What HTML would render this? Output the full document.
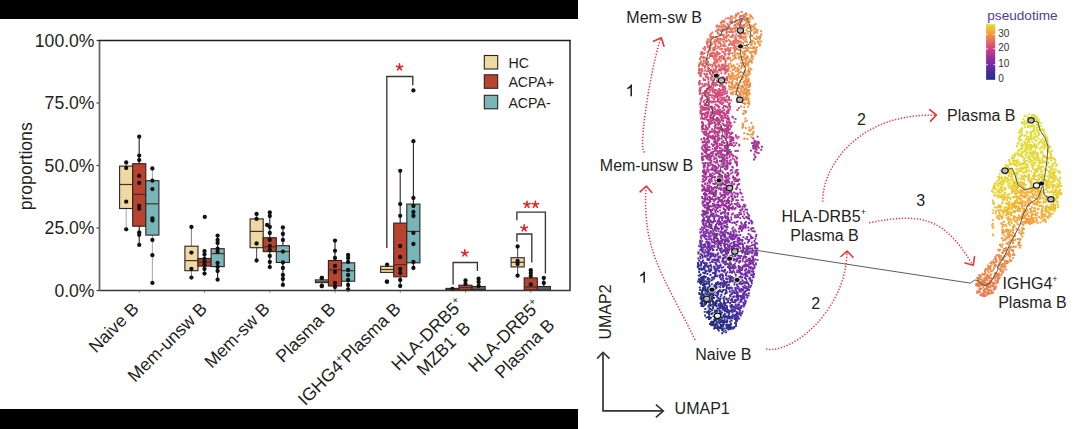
<!DOCTYPE html><html><head><meta charset="utf-8"><style>html,body{margin:0;padding:0;background:#fff;width:1080px;height:429px;overflow:hidden}svg{display:block}text{font-family:"Liberation Sans",sans-serif}</style></head><body>
<svg width="1080" height="429" viewBox="0 0 1080 429">
<rect x="0" y="0" width="578" height="19" fill="#000"/>
<rect x="0" y="409" width="578" height="20" fill="#000"/>
<line x1="96.5" y1="290.5" x2="99.5" y2="290.5" stroke="#463c3a" stroke-width="1.2"/>
<text x="94.5" y="296.7" font-size="17.6" text-anchor="end" fill="#231f20">0.0%</text>
<line x1="96.5" y1="228.0" x2="99.5" y2="228.0" stroke="#463c3a" stroke-width="1.2"/>
<text x="94.5" y="234.2" font-size="17.6" text-anchor="end" fill="#231f20">25.0%</text>
<line x1="96.5" y1="165.5" x2="99.5" y2="165.5" stroke="#463c3a" stroke-width="1.2"/>
<text x="94.5" y="171.7" font-size="17.6" text-anchor="end" fill="#231f20">50.0%</text>
<line x1="96.5" y1="103.0" x2="99.5" y2="103.0" stroke="#463c3a" stroke-width="1.2"/>
<text x="94.5" y="109.2" font-size="17.6" text-anchor="end" fill="#231f20">75.0%</text>
<line x1="96.5" y1="40.5" x2="99.5" y2="40.5" stroke="#463c3a" stroke-width="1.2"/>
<text x="94.5" y="46.7" font-size="17.6" text-anchor="end" fill="#231f20">100.0%</text>
<text transform="translate(32.3,166.3) rotate(-90)" font-size="17.6" text-anchor="middle" fill="#231f20">proportions</text>
<line x1="139.3" y1="290.5" x2="139.3" y2="293.0" stroke="#999" stroke-width="1"/>
<line x1="204.55" y1="290.5" x2="204.55" y2="293.0" stroke="#999" stroke-width="1"/>
<line x1="269.8" y1="290.5" x2="269.8" y2="293.0" stroke="#999" stroke-width="1"/>
<line x1="335.05" y1="290.5" x2="335.05" y2="293.0" stroke="#999" stroke-width="1"/>
<line x1="400.3" y1="290.5" x2="400.3" y2="293.0" stroke="#999" stroke-width="1"/>
<line x1="465.55" y1="290.5" x2="465.55" y2="293.0" stroke="#999" stroke-width="1"/>
<line x1="530.8" y1="290.5" x2="530.8" y2="293.0" stroke="#999" stroke-width="1"/>
<line x1="126.2" y1="162.5" x2="126.2" y2="229.3" stroke="#aaa" stroke-width="1.1"/>
<rect x="119.6" y="166.1" width="13.1" height="42.4" fill="#eed9a2" stroke="#2e2220" stroke-width="1.1"/>
<line x1="119.6" y1="184.5" x2="132.7" y2="184.5" stroke="#4a2e28" stroke-width="1.2"/>
<circle cx="126.2" cy="162.5" r="2.15" fill="#111"/>
<circle cx="126.2" cy="168" r="2.15" fill="#111"/>
<circle cx="126.2" cy="201.7" r="2.15" fill="#111"/>
<circle cx="126.2" cy="229.3" r="2.15" fill="#111"/>
<line x1="139.2" y1="136.7" x2="139.2" y2="244.9" stroke="#2a2020" stroke-width="1.1"/>
<rect x="132.7" y="163.7" width="13.1" height="62.5" fill="#b8432f" stroke="#2e2220" stroke-width="1.1"/>
<line x1="132.7" y1="194.4" x2="145.8" y2="194.4" stroke="#4a2e28" stroke-width="1.2"/>
<circle cx="139.2" cy="136.7" r="2.15" fill="#111"/>
<circle cx="139.2" cy="155.6" r="2.15" fill="#111"/>
<circle cx="139.2" cy="160.1" r="2.15" fill="#111"/>
<circle cx="139.2" cy="175.9" r="2.15" fill="#111"/>
<circle cx="139.2" cy="182.9" r="2.15" fill="#111"/>
<circle cx="139.2" cy="205.9" r="2.15" fill="#111"/>
<circle cx="139.2" cy="208.7" r="2.15" fill="#111"/>
<circle cx="139.2" cy="232.3" r="2.15" fill="#111"/>
<circle cx="139.2" cy="234.8" r="2.15" fill="#111"/>
<circle cx="139.2" cy="244.9" r="2.15" fill="#111"/>
<line x1="152.4" y1="168.5" x2="152.4" y2="282.9" stroke="#aaa" stroke-width="1.1"/>
<rect x="145.8" y="180.7" width="13.1" height="54.4" fill="#78b5b9" stroke="#2e2220" stroke-width="1.1"/>
<line x1="145.8" y1="203.8" x2="158.9" y2="203.8" stroke="#4a2e28" stroke-width="1.2"/>
<circle cx="152.4" cy="168.5" r="2.15" fill="#111"/>
<circle cx="152.4" cy="180.7" r="2.15" fill="#111"/>
<circle cx="152.4" cy="189.1" r="2.15" fill="#111"/>
<circle cx="152.4" cy="218.5" r="2.15" fill="#111"/>
<circle cx="152.4" cy="220.6" r="2.15" fill="#111"/>
<circle cx="152.4" cy="240" r="2.15" fill="#111"/>
<circle cx="152.4" cy="255.2" r="2.15" fill="#111"/>
<circle cx="152.4" cy="282.9" r="2.15" fill="#111"/>
<line x1="191.4" y1="227" x2="191.4" y2="277.6" stroke="#888" stroke-width="1.1"/>
<rect x="184.9" y="246.2" width="13.1" height="24.5" fill="#eed9a2" stroke="#2e2220" stroke-width="1.1"/>
<line x1="184.9" y1="260.6" x2="198.0" y2="260.6" stroke="#4a2e28" stroke-width="1.2"/>
<circle cx="191.4" cy="227" r="2.15" fill="#111"/>
<circle cx="191.4" cy="252.6" r="2.15" fill="#111"/>
<circle cx="191.4" cy="268.8" r="2.15" fill="#111"/>
<circle cx="191.4" cy="277.6" r="2.15" fill="#111"/>
<line x1="204.5" y1="251.1" x2="204.5" y2="273.6" stroke="#2a2020" stroke-width="1.1"/>
<rect x="198.0" y="258.5" width="13.1" height="7.6" fill="#b8432f" stroke="#2e2220" stroke-width="1.1"/>
<line x1="198.0" y1="262" x2="211.1" y2="262" stroke="#4a2e28" stroke-width="1.2"/>
<circle cx="204.5" cy="251.1" r="2.15" fill="#111"/>
<circle cx="204.5" cy="254.5" r="2.15" fill="#111"/>
<circle cx="204.5" cy="259" r="2.15" fill="#111"/>
<circle cx="204.5" cy="262" r="2.15" fill="#111"/>
<circle cx="204.5" cy="265" r="2.15" fill="#111"/>
<circle cx="204.5" cy="269" r="2.15" fill="#111"/>
<circle cx="204.5" cy="273.6" r="2.15" fill="#111"/>
<line x1="217.6" y1="235.6" x2="217.6" y2="279.7" stroke="#2a2020" stroke-width="1.1"/>
<rect x="211.1" y="248.7" width="13.1" height="17.9" fill="#78b5b9" stroke="#2e2220" stroke-width="1.1"/>
<line x1="211.1" y1="253.6" x2="224.2" y2="253.6" stroke="#4a2e28" stroke-width="1.2"/>
<circle cx="217.6" cy="235.6" r="2.15" fill="#111"/>
<circle cx="217.6" cy="240" r="2.15" fill="#111"/>
<circle cx="217.6" cy="243" r="2.15" fill="#111"/>
<circle cx="217.6" cy="248.7" r="2.15" fill="#111"/>
<circle cx="217.6" cy="252" r="2.15" fill="#111"/>
<circle cx="217.6" cy="263" r="2.15" fill="#111"/>
<circle cx="217.6" cy="267" r="2.15" fill="#111"/>
<circle cx="217.6" cy="271" r="2.15" fill="#111"/>
<circle cx="217.6" cy="279.7" r="2.15" fill="#111"/>
<line x1="256.6" y1="214" x2="256.6" y2="260.5" stroke="#555" stroke-width="1.1"/>
<rect x="250.1" y="218.9" width="13.1" height="28.8" fill="#eed9a2" stroke="#2e2220" stroke-width="1.1"/>
<line x1="250.1" y1="231.4" x2="263.2" y2="231.4" stroke="#4a2e28" stroke-width="1.2"/>
<circle cx="256.6" cy="214" r="2.15" fill="#111"/>
<circle cx="256.6" cy="218.9" r="2.15" fill="#111"/>
<circle cx="256.6" cy="243.5" r="2.15" fill="#111"/>
<circle cx="256.6" cy="260.5" r="2.15" fill="#111"/>
<line x1="269.8" y1="212.4" x2="269.8" y2="267.1" stroke="#2a2020" stroke-width="1.1"/>
<rect x="263.2" y="237.7" width="13.1" height="13.9" fill="#b8432f" stroke="#2e2220" stroke-width="1.1"/>
<line x1="263.2" y1="246.7" x2="276.3" y2="246.7" stroke="#4a2e28" stroke-width="1.2"/>
<circle cx="269.8" cy="212.4" r="2.15" fill="#111"/>
<circle cx="269.8" cy="216" r="2.15" fill="#111"/>
<circle cx="269.8" cy="227" r="2.15" fill="#111"/>
<circle cx="269.8" cy="233" r="2.15" fill="#111"/>
<circle cx="269.8" cy="240" r="2.15" fill="#111"/>
<circle cx="269.8" cy="246" r="2.15" fill="#111"/>
<circle cx="269.8" cy="250" r="2.15" fill="#111"/>
<circle cx="269.8" cy="256" r="2.15" fill="#111"/>
<circle cx="269.8" cy="262" r="2.15" fill="#111"/>
<circle cx="269.8" cy="267.1" r="2.15" fill="#111"/>
<line x1="282.9" y1="227.4" x2="282.9" y2="284.9" stroke="#2a2020" stroke-width="1.1"/>
<rect x="276.3" y="245.7" width="13.1" height="16.8" fill="#78b5b9" stroke="#2e2220" stroke-width="1.1"/>
<line x1="276.3" y1="251.6" x2="289.4" y2="251.6" stroke="#4a2e28" stroke-width="1.2"/>
<circle cx="282.9" cy="227.4" r="2.15" fill="#111"/>
<circle cx="282.9" cy="234" r="2.15" fill="#111"/>
<circle cx="282.9" cy="240" r="2.15" fill="#111"/>
<circle cx="282.9" cy="251.6" r="2.15" fill="#111"/>
<circle cx="282.9" cy="262.5" r="2.15" fill="#111"/>
<circle cx="282.9" cy="268" r="2.15" fill="#111"/>
<circle cx="282.9" cy="275" r="2.15" fill="#111"/>
<circle cx="282.9" cy="279" r="2.15" fill="#111"/>
<circle cx="282.9" cy="284.9" r="2.15" fill="#111"/>
<line x1="321.9" y1="278" x2="321.9" y2="286" stroke="#2a2020" stroke-width="1.1"/>
<rect x="315.4" y="279.9" width="13.1" height="2.7" fill="#eed9a2" stroke="#2e2220" stroke-width="1.1"/>
<line x1="315.4" y1="281.2" x2="328.4" y2="281.2" stroke="#4a2e28" stroke-width="1.2"/>
<circle cx="321.9" cy="278" r="2.15" fill="#111"/>
<circle cx="321.9" cy="286" r="2.15" fill="#111"/>
<line x1="335.0" y1="240.6" x2="335.0" y2="290" stroke="#2a2020" stroke-width="1.1"/>
<rect x="328.4" y="260.5" width="13.1" height="25.5" fill="#b8432f" stroke="#2e2220" stroke-width="1.1"/>
<line x1="328.4" y1="269.8" x2="341.6" y2="269.8" stroke="#4a2e28" stroke-width="1.2"/>
<circle cx="335.0" cy="240.6" r="2.15" fill="#111"/>
<circle cx="335.0" cy="250.8" r="2.15" fill="#111"/>
<circle cx="335.0" cy="258" r="2.15" fill="#111"/>
<circle cx="335.0" cy="266" r="2.15" fill="#111"/>
<circle cx="335.0" cy="272" r="2.15" fill="#111"/>
<circle cx="335.0" cy="283" r="2.15" fill="#111"/>
<circle cx="335.0" cy="287" r="2.15" fill="#111"/>
<line x1="348.1" y1="255" x2="348.1" y2="289.5" stroke="#2a2020" stroke-width="1.1"/>
<rect x="341.6" y="262.8" width="13.1" height="18.4" fill="#78b5b9" stroke="#2e2220" stroke-width="1.1"/>
<line x1="341.6" y1="270.7" x2="354.7" y2="270.7" stroke="#4a2e28" stroke-width="1.2"/>
<circle cx="348.1" cy="255" r="2.15" fill="#111"/>
<circle cx="348.1" cy="258" r="2.15" fill="#111"/>
<circle cx="348.1" cy="262" r="2.15" fill="#111"/>
<circle cx="348.1" cy="270" r="2.15" fill="#111"/>
<circle cx="348.1" cy="275" r="2.15" fill="#111"/>
<circle cx="348.1" cy="280" r="2.15" fill="#111"/>
<circle cx="348.1" cy="285" r="2.15" fill="#111"/>
<circle cx="348.1" cy="289.5" r="2.15" fill="#111"/>
<line x1="387.1" y1="264.6" x2="387.1" y2="272.4" stroke="#2a2020" stroke-width="1.1"/>
<rect x="380.6" y="266.3" width="13.1" height="6.1" fill="#eed9a2" stroke="#2e2220" stroke-width="1.1"/>
<line x1="380.6" y1="269.5" x2="393.7" y2="269.5" stroke="#4a2e28" stroke-width="1.2"/>
<circle cx="387.1" cy="264.6" r="2.15" fill="#111"/>
<circle cx="387.1" cy="281.7" r="2.15" fill="#111"/>
<line x1="400.2" y1="170.8" x2="400.2" y2="286" stroke="#2a2020" stroke-width="1.1"/>
<rect x="393.7" y="223.1" width="13.1" height="53.7" fill="#b8432f" stroke="#2e2220" stroke-width="1.1"/>
<line x1="393.7" y1="264.6" x2="406.8" y2="264.6" stroke="#4a2e28" stroke-width="1.2"/>
<circle cx="400.2" cy="170.8" r="2.15" fill="#111"/>
<circle cx="400.2" cy="204.1" r="2.15" fill="#111"/>
<circle cx="400.2" cy="215.8" r="2.15" fill="#111"/>
<circle cx="400.2" cy="246" r="2.15" fill="#111"/>
<circle cx="400.2" cy="257" r="2.15" fill="#111"/>
<circle cx="400.2" cy="269" r="2.15" fill="#111"/>
<circle cx="400.2" cy="273" r="2.15" fill="#111"/>
<circle cx="400.2" cy="280" r="2.15" fill="#111"/>
<circle cx="400.2" cy="286" r="2.15" fill="#111"/>
<line x1="413.4" y1="141.2" x2="413.4" y2="268" stroke="#2a2020" stroke-width="1.1"/>
<rect x="406.8" y="204.1" width="13.1" height="58.7" fill="#78b5b9" stroke="#2e2220" stroke-width="1.1"/>
<line x1="406.8" y1="231.4" x2="419.9" y2="231.4" stroke="#4a2e28" stroke-width="1.2"/>
<circle cx="413.4" cy="90.4" r="2.15" fill="#111"/>
<circle cx="413.4" cy="141.2" r="2.15" fill="#111"/>
<circle cx="413.4" cy="198" r="2.15" fill="#111"/>
<circle cx="413.4" cy="206" r="2.15" fill="#111"/>
<circle cx="413.4" cy="212" r="2.15" fill="#111"/>
<circle cx="413.4" cy="216" r="2.15" fill="#111"/>
<circle cx="413.4" cy="233" r="2.15" fill="#111"/>
<circle cx="413.4" cy="244" r="2.15" fill="#111"/>
<circle cx="413.4" cy="262" r="2.15" fill="#111"/>
<circle cx="413.4" cy="268" r="2.15" fill="#111"/>
<line x1="452.4" y1="288.2" x2="452.4" y2="290" stroke="#2a2020" stroke-width="1.1"/>
<rect x="445.9" y="288.4" width="13.1" height="1.2" fill="#eed9a2" stroke="#2e2220" stroke-width="1.1"/>
<line x1="445.9" y1="289" x2="458.9" y2="289" stroke="#4a2e28" stroke-width="1.2"/>
<circle cx="452.4" cy="289" r="2.15" fill="#111"/>
<line x1="465.5" y1="280.5" x2="465.5" y2="290" stroke="#2a2020" stroke-width="1.1"/>
<rect x="458.9" y="285.2" width="13.1" height="4.6" fill="#b8432f" stroke="#2e2220" stroke-width="1.1"/>
<line x1="458.9" y1="287.5" x2="472.1" y2="287.5" stroke="#4a2e28" stroke-width="1.2"/>
<circle cx="465.5" cy="280.5" r="2.15" fill="#111"/>
<circle cx="465.5" cy="284" r="2.15" fill="#111"/>
<line x1="478.6" y1="278.7" x2="478.6" y2="290" stroke="#2a2020" stroke-width="1.1"/>
<rect x="472.1" y="286.5" width="13.1" height="3.1" fill="#78b5b9" stroke="#2e2220" stroke-width="1.1"/>
<line x1="472.1" y1="288" x2="485.2" y2="288" stroke="#4a2e28" stroke-width="1.2"/>
<circle cx="478.6" cy="278.7" r="2.15" fill="#111"/>
<circle cx="478.6" cy="282" r="2.15" fill="#111"/>
<circle cx="478.6" cy="286" r="2.15" fill="#111"/>
<line x1="517.6" y1="246.5" x2="517.6" y2="275.7" stroke="#555" stroke-width="1.1"/>
<rect x="511.1" y="257.7" width="13.1" height="9.2" fill="#eed9a2" stroke="#2e2220" stroke-width="1.1"/>
<line x1="511.1" y1="262.3" x2="524.2" y2="262.3" stroke="#4a2e28" stroke-width="1.2"/>
<circle cx="517.6" cy="246.5" r="2.15" fill="#111"/>
<circle cx="517.6" cy="261" r="2.15" fill="#111"/>
<circle cx="517.6" cy="264" r="2.15" fill="#111"/>
<circle cx="517.6" cy="275.7" r="2.15" fill="#111"/>
<line x1="530.8" y1="270.2" x2="530.8" y2="290" stroke="#2a2020" stroke-width="1.1"/>
<rect x="524.2" y="277.9" width="13.1" height="12.1" fill="#b8432f" stroke="#2e2220" stroke-width="1.1"/>
<line x1="524.2" y1="287" x2="537.3" y2="287" stroke="#4a2e28" stroke-width="1.2"/>
<circle cx="530.8" cy="270.2" r="2.15" fill="#111"/>
<circle cx="530.8" cy="273" r="2.15" fill="#111"/>
<circle cx="530.8" cy="276" r="2.15" fill="#111"/>
<circle cx="530.8" cy="284.5" r="2.15" fill="#111"/>
<line x1="543.8" y1="277.9" x2="543.8" y2="290" stroke="#2a2020" stroke-width="1.1"/>
<rect x="537.3" y="286.5" width="13.1" height="3.3" fill="#78b5b9" stroke="#2e2220" stroke-width="1.1"/>
<line x1="537.3" y1="288" x2="550.4" y2="288" stroke="#4a2e28" stroke-width="1.2"/>
<circle cx="543.8" cy="277.9" r="2.15" fill="#111"/>
<circle cx="543.8" cy="283" r="2.15" fill="#111"/>
<circle cx="204.8" cy="216.9" r="2.15" fill="#111"/>
<circle cx="267.1" cy="225" r="2.15" fill="#111"/>
<circle cx="386.8" cy="281.7" r="2.15" fill="#111"/>
<circle cx="321.7" cy="278" r="2.15" fill="#111"/>
<circle cx="321.7" cy="286" r="2.15" fill="#111"/>
<path d="M99.5 290.5 H570 V40.5" fill="none" stroke="#3e3434" stroke-width="1.6"/>
<path d="M99.5 291.3 V40.5" fill="none" stroke="#6e6666" stroke-width="1.8"/>
<path d="M98.6 40.5 H570.8" fill="none" stroke="#251c1a" stroke-width="1.6"/>
<path d="M386.8 248 V76.5 H412.8 V85.3" fill="none" stroke="#3e3432" stroke-width="1.35"/>
<path d="M453.1 284.4 V262.5 H477.4 V271" fill="none" stroke="#3e3432" stroke-width="1.35"/>
<path d="M516.9 241.8 V234 H531.8 V262.5" fill="none" stroke="#3e3432" stroke-width="1.35"/>
<path d="M516.9 220.2 V212.1 H545.4 V273.5" fill="none" stroke="#3e3432" stroke-width="1.35"/>
<path d="M399.50 67.20L399.50 63.90M399.50 67.20L402.64 66.18M399.50 67.20L401.44 69.87M399.50 67.20L397.56 69.87M399.50 67.20L396.36 66.18" stroke="#e0262a" stroke-width="1.6" stroke-linecap="round" fill="none"/>
<path d="M464.80 253.20L464.80 249.90M464.80 253.20L467.94 252.18M464.80 253.20L466.74 255.87M464.80 253.20L462.86 255.87M464.80 253.20L461.66 252.18" stroke="#e0262a" stroke-width="1.6" stroke-linecap="round" fill="none"/>
<path d="M524.20 228.20L524.20 224.90M524.20 228.20L527.34 227.18M524.20 228.20L526.14 230.87M524.20 228.20L522.26 230.87M524.20 228.20L521.06 227.18" stroke="#e0262a" stroke-width="1.6" stroke-linecap="round" fill="none"/>
<path d="M527.00 204.60L527.00 201.30M527.00 204.60L530.14 203.58M527.00 204.60L528.94 207.27M527.00 204.60L525.06 207.27M527.00 204.60L523.86 203.58" stroke="#e0262a" stroke-width="1.6" stroke-linecap="round" fill="none"/>
<path d="M535.40 204.60L535.40 201.30M535.40 204.60L538.54 203.58M535.40 204.60L537.34 207.27M535.40 204.60L533.46 207.27M535.40 204.60L532.26 203.58" stroke="#e0262a" stroke-width="1.6" stroke-linecap="round" fill="none"/>
<rect x="484.3" y="55.5" width="13.4" height="13.5" fill="#eed9a2" stroke="#2e2220" stroke-width="1.1"/>
<text x="508.4" y="67.7" font-size="14.2" fill="#231f20">HC</text>
<rect x="484.3" y="74.8" width="13.4" height="13.5" fill="#b8432f" stroke="#2e2220" stroke-width="1.1"/>
<text x="508.4" y="87.0" font-size="14.2" fill="#231f20">ACPA+</text>
<rect x="484.3" y="95.3" width="13.4" height="13.5" fill="#78b5b9" stroke="#2e2220" stroke-width="1.1"/>
<text x="508.4" y="107.5" font-size="14.2" fill="#231f20">ACPA-</text>
<text transform="translate(139.8,310.0) rotate(-45)" font-size="17.7" text-anchor="end" fill="#231f20">Naive B</text>
<text transform="translate(208.1,310.0) rotate(-45)" font-size="17.7" text-anchor="end" fill="#231f20">Mem-unsw B</text>
<text transform="translate(270.8,310.0) rotate(-45)" font-size="17.7" text-anchor="end" fill="#231f20">Mem-sw B</text>
<text transform="translate(336.6,310.0) rotate(-45)" font-size="17.7" text-anchor="end" fill="#231f20">Plasma B</text>
<text transform="translate(401.8,310.0) rotate(-45)" font-size="17.7" text-anchor="end" fill="#231f20">IGHG4<tspan font-size="10" dy="-7">+</tspan><tspan dy="7">Plasma B</tspan></text>
<text transform="translate(431.5,338.6) rotate(-45)" font-size="17.7" text-anchor="middle" fill="#231f20">HLA-DRB5<tspan font-size="10" dy="-7">+</tspan></text>
<text transform="translate(447.7,352.8) rotate(-45)" font-size="17.7" text-anchor="middle" fill="#231f20">MZB1<tspan font-size="10" dy="-7">-</tspan><tspan dy="7"> B</tspan></text>
<text transform="translate(508.5,340.0) rotate(-45)" font-size="17.7" text-anchor="middle" fill="#231f20">HLA-DRB5<tspan font-size="10" dy="-7">+</tspan></text>
<text transform="translate(528.8,352.8) rotate(-45)" font-size="17.7" text-anchor="middle" fill="#231f20">Plasma B</text>
<path d="M726.0 191.2h1.9v1.9h-1.9zM734.6 207.1h1.9v1.9h-1.9zM723.5 212.5h1.9v1.9h-1.9zM721.1 194.2h1.9v1.9h-1.9zM730.7 195.5h1.9v1.9h-1.9zM755.3 252.0h1.9v1.9h-1.9zM717.7 187.7h1.9v1.9h-1.9zM713.8 183.1h1.9v1.9h-1.9zM718.8 220.5h1.9v1.9h-1.9zM718.1 217.6h1.9v1.9h-1.9zM724.8 193.2h1.9v1.9h-1.9zM706.2 202.7h1.9v1.9h-1.9zM706.8 211.2h1.9v1.9h-1.9zM721.1 218.3h1.9v1.9h-1.9zM714.6 205.2h1.9v1.9h-1.9zM723.0 208.1h1.9v1.9h-1.9zM716.1 207.2h1.9v1.9h-1.9zM729.1 221.2h1.9v1.9h-1.9zM734.0 214.5h1.9v1.9h-1.9zM709.4 198.0h1.9v1.9h-1.9zM728.3 200.3h1.9v1.9h-1.9zM714.3 193.6h1.9v1.9h-1.9zM740.3 213.2h1.9v1.9h-1.9zM717.5 206.4h1.9v1.9h-1.9zM709.6 209.5h1.9v1.9h-1.9zM713.6 204.7h1.9v1.9h-1.9zM704.9 206.4h1.9v1.9h-1.9zM724.1 204.9h1.9v1.9h-1.9zM725.6 205.8h1.9v1.9h-1.9zM744.4 208.6h1.9v1.9h-1.9zM724.8 209.4h1.9v1.9h-1.9zM714.1 209.6h1.9v1.9h-1.9zM721.2 194.5h1.9v1.9h-1.9zM725.8 216.3h1.9v1.9h-1.9zM722.6 197.0h1.9v1.9h-1.9zM730.8 202.9h1.9v1.9h-1.9zM724.5 214.6h1.9v1.9h-1.9zM744.4 204.6h1.9v1.9h-1.9zM735.4 199.3h1.9v1.9h-1.9zM716.7 204.2h1.9v1.9h-1.9zM738.4 213.9h1.9v1.9h-1.9zM711.5 214.5h1.9v1.9h-1.9zM717.4 201.3h1.9v1.9h-1.9zM732.2 207.2h1.9v1.9h-1.9zM741.6 195.9h1.9v1.9h-1.9zM712.4 207.6h1.9v1.9h-1.9zM711.5 209.1h1.9v1.9h-1.9zM703.3 210.6h1.9v1.9h-1.9zM745.0 221.0h1.9v1.9h-1.9zM703.9 226.2h1.9v1.9h-1.9zM725.2 204.8h1.9v1.9h-1.9zM721.5 216.1h1.9v1.9h-1.9zM746.2 211.7h1.9v1.9h-1.9zM716.7 206.8h1.9v1.9h-1.9zM711.5 215.2h1.9v1.9h-1.9zM722.4 193.6h1.9v1.9h-1.9zM718.6 198.8h1.9v1.9h-1.9zM708.0 188.0h1.9v1.9h-1.9zM744.1 223.0h1.9v1.9h-1.9zM711.8 212.6h1.9v1.9h-1.9zM728.0 184.8h1.9v1.9h-1.9zM735.0 203.3h1.9v1.9h-1.9zM708.7 199.9h1.9v1.9h-1.9zM709.9 174.7h1.9v1.9h-1.9zM714.7 211.3h1.9v1.9h-1.9zM733.8 202.9h1.9v1.9h-1.9zM728.5 177.4h1.9v1.9h-1.9zM715.1 213.8h1.9v1.9h-1.9zM724.1 211.1h1.9v1.9h-1.9zM718.5 205.0h1.9v1.9h-1.9zM731.2 181.3h1.9v1.9h-1.9zM710.4 210.3h1.9v1.9h-1.9zM723.4 220.8h1.9v1.9h-1.9zM724.4 195.9h1.9v1.9h-1.9zM739.4 225.0h1.9v1.9h-1.9zM743.6 205.9h1.9v1.9h-1.9zM723.8 191.0h1.9v1.9h-1.9zM722.5 207.2h1.9v1.9h-1.9zM716.8 184.5h1.9v1.9h-1.9zM721.5 203.0h1.9v1.9h-1.9zM723.4 204.1h1.9v1.9h-1.9zM709.4 205.1h1.9v1.9h-1.9zM715.5 213.9h1.9v1.9h-1.9zM720.6 216.6h1.9v1.9h-1.9zM750.7 222.6h1.9v1.9h-1.9zM730.5 192.1h1.9v1.9h-1.9zM712.6 191.4h1.9v1.9h-1.9zM735.1 230.6h1.9v1.9h-1.9zM749.5 219.5h1.9v1.9h-1.9zM736.3 204.6h1.9v1.9h-1.9zM727.4 202.4h1.9v1.9h-1.9zM704.6 210.5h1.9v1.9h-1.9zM726.7 215.4h1.9v1.9h-1.9zM706.7 201.9h1.9v1.9h-1.9zM720.0 212.5h1.9v1.9h-1.9zM706.1 207.8h1.9v1.9h-1.9zM726.6 199.4h1.9v1.9h-1.9zM703.1 189.3h1.9v1.9h-1.9zM722.9 187.5h1.9v1.9h-1.9zM707.0 212.0h1.9v1.9h-1.9zM705.7 194.2h1.9v1.9h-1.9zM719.0 222.0h1.9v1.9h-1.9zM732.0 197.7h1.9v1.9h-1.9zM722.7 191.1h1.9v1.9h-1.9zM747.2 213.5h1.9v1.9h-1.9zM726.0 223.4h1.9v1.9h-1.9zM751.3 227.0h1.9v1.9h-1.9zM707.9 201.9h1.9v1.9h-1.9zM738.1 230.8h1.9v1.9h-1.9zM727.9 202.1h1.9v1.9h-1.9zM702.7 201.7h1.9v1.9h-1.9zM713.1 215.3h1.9v1.9h-1.9zM713.9 215.9h1.9v1.9h-1.9zM715.7 197.7h1.9v1.9h-1.9zM742.2 227.4h1.9v1.9h-1.9zM701.9 215.2h1.9v1.9h-1.9zM713.9 186.3h1.9v1.9h-1.9zM720.3 225.8h1.9v1.9h-1.9zM710.6 178.6h1.9v1.9h-1.9zM716.9 219.9h1.9v1.9h-1.9zM703.8 206.5h1.9v1.9h-1.9zM705.9 198.4h1.9v1.9h-1.9zM732.3 226.4h1.9v1.9h-1.9zM729.7 207.1h1.9v1.9h-1.9zM703.1 193.1h1.9v1.9h-1.9zM711.3 197.7h1.9v1.9h-1.9zM736.3 214.0h1.9v1.9h-1.9zM706.4 203.4h1.9v1.9h-1.9zM736.6 202.1h1.9v1.9h-1.9zM705.3 216.1h1.9v1.9h-1.9zM709.5 200.7h1.9v1.9h-1.9zM733.6 208.3h1.9v1.9h-1.9zM723.8 199.5h1.9v1.9h-1.9zM736.4 195.5h1.9v1.9h-1.9zM743.0 203.8h1.9v1.9h-1.9zM704.4 192.7h1.9v1.9h-1.9zM745.5 216.1h1.9v1.9h-1.9zM708.9 208.8h1.9v1.9h-1.9zM726.8 193.5h1.9v1.9h-1.9zM705.6 201.7h1.9v1.9h-1.9zM707.5 204.8h1.9v1.9h-1.9zM707.9 207.2h1.9v1.9h-1.9zM743.0 224.3h1.9v1.9h-1.9zM725.3 202.2h1.9v1.9h-1.9zM702.4 204.8h1.9v1.9h-1.9zM717.4 206.0h1.9v1.9h-1.9zM714.8 198.2h1.9v1.9h-1.9zM724.4 183.7h1.9v1.9h-1.9zM727.6 199.7h1.9v1.9h-1.9zM730.1 190.4h1.9v1.9h-1.9zM703.6 189.2h1.9v1.9h-1.9zM744.6 226.0h1.9v1.9h-1.9zM703.4 204.2h1.9v1.9h-1.9zM716.0 171.6h1.9v1.9h-1.9zM717.1 196.6h1.9v1.9h-1.9zM718.9 199.8h1.9v1.9h-1.9zM721.4 219.6h1.9v1.9h-1.9zM704.7 204.3h1.9v1.9h-1.9zM710.5 198.1h1.9v1.9h-1.9zM728.0 209.2h1.9v1.9h-1.9zM739.3 217.2h1.9v1.9h-1.9zM720.1 204.6h1.9v1.9h-1.9zM706.6 196.6h1.9v1.9h-1.9zM730.8 213.7h1.9v1.9h-1.9zM724.0 193.5h1.9v1.9h-1.9zM707.2 206.8h1.9v1.9h-1.9zM717.7 198.8h1.9v1.9h-1.9zM716.7 227.8h1.9v1.9h-1.9zM710.3 224.1h1.9v1.9h-1.9zM713.8 199.1h1.9v1.9h-1.9zM724.1 209.0h1.9v1.9h-1.9zM721.9 202.9h1.9v1.9h-1.9zM721.2 179.7h1.9v1.9h-1.9zM719.4 192.8h1.9v1.9h-1.9zM704.5 212.1h1.9v1.9h-1.9zM704.2 197.8h1.9v1.9h-1.9zM719.3 192.2h1.9v1.9h-1.9zM704.2 193.7h1.9v1.9h-1.9zM729.4 203.8h1.9v1.9h-1.9zM706.1 189.1h1.9v1.9h-1.9zM734.2 196.3h1.9v1.9h-1.9zM741.5 205.8h1.9v1.9h-1.9zM720.8 212.0h1.9v1.9h-1.9zM746.1 208.8h1.9v1.9h-1.9zM702.1 201.3h1.9v1.9h-1.9zM743.4 213.5h1.9v1.9h-1.9zM727.2 206.1h1.9v1.9h-1.9zM710.8 212.8h1.9v1.9h-1.9zM713.4 203.2h1.9v1.9h-1.9zM708.5 189.8h1.9v1.9h-1.9zM725.3 182.0h1.9v1.9h-1.9zM753.0 158.6h1.9v1.9h-1.9zM757.7 152.2h1.9v1.9h-1.9z" fill="#912d9b"/>
<path d="M734.9 70.5h1.9v1.9h-1.9zM742.8 112.5h1.9v1.9h-1.9zM738.6 48.5h1.9v1.9h-1.9zM742.6 93.7h1.9v1.9h-1.9zM745.6 20.6h1.9v1.9h-1.9zM740.0 74.9h1.9v1.9h-1.9zM727.5 68.5h1.9v1.9h-1.9zM758.7 38.7h1.9v1.9h-1.9zM747.5 18.3h1.9v1.9h-1.9zM741.3 71.9h1.9v1.9h-1.9zM749.5 35.5h1.9v1.9h-1.9zM727.3 65.5h1.9v1.9h-1.9zM743.4 106.3h1.9v1.9h-1.9zM751.4 34.9h1.9v1.9h-1.9zM741.9 102.1h1.9v1.9h-1.9zM755.4 38.3h1.9v1.9h-1.9zM746.5 138.0h1.9v1.9h-1.9zM735.4 83.1h1.9v1.9h-1.9zM740.1 93.6h1.9v1.9h-1.9zM733.7 66.9h1.9v1.9h-1.9zM745.9 90.2h1.9v1.9h-1.9zM747.5 64.2h1.9v1.9h-1.9zM744.5 85.0h1.9v1.9h-1.9zM747.6 80.4h1.9v1.9h-1.9zM727.5 64.7h1.9v1.9h-1.9zM743.3 92.1h1.9v1.9h-1.9zM740.3 85.4h1.9v1.9h-1.9zM733.5 57.3h1.9v1.9h-1.9zM742.6 91.7h1.9v1.9h-1.9zM745.0 79.1h1.9v1.9h-1.9zM744.1 74.5h1.9v1.9h-1.9zM744.7 127.0h1.9v1.9h-1.9zM742.5 86.7h1.9v1.9h-1.9zM745.0 37.9h1.9v1.9h-1.9zM733.6 52.8h1.9v1.9h-1.9zM752.0 25.8h1.9v1.9h-1.9zM745.1 64.6h1.9v1.9h-1.9zM745.8 43.9h1.9v1.9h-1.9zM729.1 74.6h1.9v1.9h-1.9zM744.7 79.1h1.9v1.9h-1.9zM748.6 84.6h1.9v1.9h-1.9zM746.7 94.6h1.9v1.9h-1.9zM750.7 133.4h1.9v1.9h-1.9zM740.8 66.2h1.9v1.9h-1.9zM751.2 35.0h1.9v1.9h-1.9zM739.4 80.0h1.9v1.9h-1.9zM738.4 65.1h1.9v1.9h-1.9zM752.6 130.8h1.9v1.9h-1.9zM750.4 121.9h1.9v1.9h-1.9zM748.5 24.1h1.9v1.9h-1.9zM736.1 52.4h1.9v1.9h-1.9zM738.5 91.9h1.9v1.9h-1.9zM754.9 38.0h1.9v1.9h-1.9zM727.4 75.9h1.9v1.9h-1.9zM730.5 76.5h1.9v1.9h-1.9zM744.3 120.6h1.9v1.9h-1.9zM747.4 99.6h1.9v1.9h-1.9zM731.2 83.9h1.9v1.9h-1.9zM750.6 55.2h1.9v1.9h-1.9zM734.2 90.4h1.9v1.9h-1.9zM746.2 94.1h1.9v1.9h-1.9zM736.4 88.9h1.9v1.9h-1.9zM745.9 98.9h1.9v1.9h-1.9zM731.9 74.1h1.9v1.9h-1.9zM747.9 90.9h1.9v1.9h-1.9zM729.6 70.4h1.9v1.9h-1.9zM737.7 49.1h1.9v1.9h-1.9zM746.7 32.7h1.9v1.9h-1.9zM732.6 90.7h1.9v1.9h-1.9zM748.3 101.0h1.9v1.9h-1.9zM746.1 62.4h1.9v1.9h-1.9zM744.1 36.6h1.9v1.9h-1.9zM741.1 44.7h1.9v1.9h-1.9zM744.9 110.2h1.9v1.9h-1.9zM745.3 76.7h1.9v1.9h-1.9zM748.4 126.5h1.9v1.9h-1.9zM746.2 49.6h1.9v1.9h-1.9zM731.6 79.5h1.9v1.9h-1.9zM736.0 88.1h1.9v1.9h-1.9zM743.9 40.4h1.9v1.9h-1.9zM742.2 125.5h1.9v1.9h-1.9zM754.7 51.7h1.9v1.9h-1.9zM737.1 52.4h1.9v1.9h-1.9zM755.8 28.9h1.9v1.9h-1.9zM748.8 69.9h1.9v1.9h-1.9zM727.5 81.3h1.9v1.9h-1.9zM753.4 32.6h1.9v1.9h-1.9zM748.6 58.5h1.9v1.9h-1.9zM750.5 68.4h1.9v1.9h-1.9zM727.4 81.3h1.9v1.9h-1.9zM732.7 86.0h1.9v1.9h-1.9zM750.6 26.1h1.9v1.9h-1.9zM747.8 69.1h1.9v1.9h-1.9zM745.0 63.7h1.9v1.9h-1.9zM747.7 46.8h1.9v1.9h-1.9zM741.7 124.5h1.9v1.9h-1.9zM742.2 64.1h1.9v1.9h-1.9zM747.7 27.2h1.9v1.9h-1.9zM735.3 74.6h1.9v1.9h-1.9zM749.7 25.1h1.9v1.9h-1.9zM743.6 82.6h1.9v1.9h-1.9zM757.1 36.8h1.9v1.9h-1.9zM745.8 90.3h1.9v1.9h-1.9zM746.3 98.6h1.9v1.9h-1.9zM747.5 92.0h1.9v1.9h-1.9zM756.0 31.9h1.9v1.9h-1.9zM732.7 64.2h1.9v1.9h-1.9zM750.5 24.8h1.9v1.9h-1.9zM746.1 57.1h1.9v1.9h-1.9zM746.2 79.8h1.9v1.9h-1.9zM730.2 59.8h1.9v1.9h-1.9zM737.4 73.9h1.9v1.9h-1.9zM742.2 58.5h1.9v1.9h-1.9zM749.2 60.1h1.9v1.9h-1.9zM730.3 77.4h1.9v1.9h-1.9zM756.1 46.4h1.9v1.9h-1.9zM746.9 73.1h1.9v1.9h-1.9zM742.0 52.7h1.9v1.9h-1.9zM727.9 66.7h1.9v1.9h-1.9zM731.4 83.7h1.9v1.9h-1.9zM745.8 75.6h1.9v1.9h-1.9zM731.1 83.5h1.9v1.9h-1.9zM749.7 44.0h1.9v1.9h-1.9zM736.7 68.7h1.9v1.9h-1.9zM744.3 49.9h1.9v1.9h-1.9zM750.8 41.6h1.9v1.9h-1.9zM750.6 43.4h1.9v1.9h-1.9zM737.5 56.8h1.9v1.9h-1.9zM731.6 81.0h1.9v1.9h-1.9zM730.4 86.2h1.9v1.9h-1.9zM743.5 91.8h1.9v1.9h-1.9zM752.5 45.8h1.9v1.9h-1.9zM738.3 55.8h1.9v1.9h-1.9zM758.3 36.1h1.9v1.9h-1.9zM742.0 85.8h1.9v1.9h-1.9zM742.0 86.3h1.9v1.9h-1.9zM728.2 81.8h1.9v1.9h-1.9zM743.8 98.1h1.9v1.9h-1.9zM746.6 102.2h1.9v1.9h-1.9zM745.2 92.1h1.9v1.9h-1.9zM736.7 90.1h1.9v1.9h-1.9zM754.6 23.0h1.9v1.9h-1.9zM744.8 97.3h1.9v1.9h-1.9zM747.7 18.1h1.9v1.9h-1.9zM727.5 63.2h1.9v1.9h-1.9zM742.9 71.6h1.9v1.9h-1.9zM754.6 46.8h1.9v1.9h-1.9zM756.5 29.0h1.9v1.9h-1.9zM751.8 40.2h1.9v1.9h-1.9zM751.9 132.6h1.9v1.9h-1.9zM759.6 34.9h1.9v1.9h-1.9zM739.2 55.8h1.9v1.9h-1.9zM755.8 30.1h1.9v1.9h-1.9zM737.7 69.0h1.9v1.9h-1.9zM753.0 46.8h1.9v1.9h-1.9zM745.9 18.0h1.9v1.9h-1.9zM730.6 88.5h1.9v1.9h-1.9zM758.7 44.5h1.9v1.9h-1.9zM739.6 81.4h1.9v1.9h-1.9zM747.1 80.5h1.9v1.9h-1.9zM744.8 111.5h1.9v1.9h-1.9zM750.7 15.8h1.9v1.9h-1.9zM745.8 47.7h1.9v1.9h-1.9zM752.3 55.4h1.9v1.9h-1.9zM741.8 43.9h1.9v1.9h-1.9zM727.5 65.5h1.9v1.9h-1.9zM735.2 81.7h1.9v1.9h-1.9zM743.8 102.2h1.9v1.9h-1.9zM751.6 50.8h1.9v1.9h-1.9zM743.8 83.5h1.9v1.9h-1.9zM737.3 53.6h1.9v1.9h-1.9zM750.0 27.0h1.9v1.9h-1.9zM745.1 77.5h1.9v1.9h-1.9zM758.9 43.9h1.9v1.9h-1.9zM737.7 86.8h1.9v1.9h-1.9zM750.4 128.6h1.9v1.9h-1.9zM736.3 77.0h1.9v1.9h-1.9zM736.6 67.0h1.9v1.9h-1.9zM736.2 79.1h1.9v1.9h-1.9zM751.9 57.9h1.9v1.9h-1.9zM743.7 137.5h1.9v1.9h-1.9zM742.0 91.7h1.9v1.9h-1.9zM740.1 62.1h1.9v1.9h-1.9zM738.5 93.7h1.9v1.9h-1.9zM733.0 77.6h1.9v1.9h-1.9zM741.4 42.3h1.9v1.9h-1.9zM744.0 69.4h1.9v1.9h-1.9zM731.4 84.3h1.9v1.9h-1.9zM731.4 82.6h1.9v1.9h-1.9zM753.9 31.6h1.9v1.9h-1.9zM743.5 88.4h1.9v1.9h-1.9zM738.5 48.8h1.9v1.9h-1.9zM746.0 96.8h1.9v1.9h-1.9zM730.9 76.9h1.9v1.9h-1.9zM755.7 35.4h1.9v1.9h-1.9zM744.2 58.2h1.9v1.9h-1.9zM746.8 70.5h1.9v1.9h-1.9zM727.5 72.9h1.9v1.9h-1.9zM750.9 55.6h1.9v1.9h-1.9zM744.4 57.0h1.9v1.9h-1.9zM744.7 97.1h1.9v1.9h-1.9zM739.8 71.1h1.9v1.9h-1.9zM746.0 40.8h1.9v1.9h-1.9zM740.1 105.6h1.9v1.9h-1.9zM742.2 42.0h1.9v1.9h-1.9zM738.3 76.1h1.9v1.9h-1.9zM750.8 57.3h1.9v1.9h-1.9zM738.9 52.9h1.9v1.9h-1.9zM727.7 68.3h1.9v1.9h-1.9zM738.7 91.0h1.9v1.9h-1.9zM746.9 55.9h1.9v1.9h-1.9zM748.4 103.1h1.9v1.9h-1.9zM736.2 88.1h1.9v1.9h-1.9zM753.9 41.5h1.9v1.9h-1.9zM753.3 24.3h1.9v1.9h-1.9zM754.1 27.9h1.9v1.9h-1.9zM749.5 52.1h1.9v1.9h-1.9zM743.3 109.9h1.9v1.9h-1.9zM727.5 57.8h1.9v1.9h-1.9zM744.4 117.6h1.9v1.9h-1.9zM748.6 21.0h1.9v1.9h-1.9zM748.3 85.7h1.9v1.9h-1.9zM751.8 17.4h1.9v1.9h-1.9zM741.7 51.6h1.9v1.9h-1.9zM749.1 83.7h1.9v1.9h-1.9zM750.0 26.9h1.9v1.9h-1.9zM744.3 32.0h1.9v1.9h-1.9zM747.9 97.7h1.9v1.9h-1.9zM747.1 89.6h1.9v1.9h-1.9zM750.6 24.9h1.9v1.9h-1.9zM729.5 78.4h1.9v1.9h-1.9zM750.5 29.4h1.9v1.9h-1.9zM753.1 24.9h1.9v1.9h-1.9zM749.0 85.0h1.9v1.9h-1.9zM750.7 136.3h1.9v1.9h-1.9zM748.2 129.0h1.9v1.9h-1.9zM736.9 70.2h1.9v1.9h-1.9zM734.0 84.2h1.9v1.9h-1.9zM743.3 137.8h1.9v1.9h-1.9zM739.7 49.4h1.9v1.9h-1.9zM746.3 57.4h1.9v1.9h-1.9zM741.6 51.1h1.9v1.9h-1.9zM743.7 62.2h1.9v1.9h-1.9zM737.7 75.9h1.9v1.9h-1.9zM746.2 55.3h1.9v1.9h-1.9zM743.6 89.4h1.9v1.9h-1.9zM748.5 133.7h1.9v1.9h-1.9zM743.6 80.2h1.9v1.9h-1.9zM747.0 27.1h1.9v1.9h-1.9zM741.1 56.0h1.9v1.9h-1.9zM746.3 83.0h1.9v1.9h-1.9zM742.4 75.9h1.9v1.9h-1.9zM734.8 93.3h1.9v1.9h-1.9zM750.8 53.6h1.9v1.9h-1.9zM755.4 49.9h1.9v1.9h-1.9zM746.6 90.9h1.9v1.9h-1.9zM748.6 60.0h1.9v1.9h-1.9zM745.9 48.0h1.9v1.9h-1.9zM738.0 72.0h1.9v1.9h-1.9zM732.8 75.3h1.9v1.9h-1.9zM736.1 84.2h1.9v1.9h-1.9zM732.7 64.3h1.9v1.9h-1.9zM728.1 74.0h1.9v1.9h-1.9zM730.8 83.1h1.9v1.9h-1.9zM746.5 81.5h1.9v1.9h-1.9zM746.5 63.8h1.9v1.9h-1.9zM739.5 95.5h1.9v1.9h-1.9zM744.2 53.4h1.9v1.9h-1.9zM736.6 81.9h1.9v1.9h-1.9zM744.1 103.1h1.9v1.9h-1.9zM748.8 13.7h1.9v1.9h-1.9zM732.3 72.6h1.9v1.9h-1.9zM734.1 56.3h1.9v1.9h-1.9zM737.3 73.9h1.9v1.9h-1.9zM750.5 60.0h1.9v1.9h-1.9zM728.0 84.9h1.9v1.9h-1.9zM759.4 35.8h1.9v1.9h-1.9zM743.3 132.3h1.9v1.9h-1.9zM733.1 68.7h1.9v1.9h-1.9zM745.3 81.2h1.9v1.9h-1.9zM730.8 65.5h1.9v1.9h-1.9zM753.3 37.3h1.9v1.9h-1.9zM757.7 41.1h1.9v1.9h-1.9zM734.9 57.3h1.9v1.9h-1.9zM753.4 50.6h1.9v1.9h-1.9zM739.7 87.5h1.9v1.9h-1.9zM747.6 77.7h1.9v1.9h-1.9zM744.1 71.0h1.9v1.9h-1.9zM750.2 15.1h1.9v1.9h-1.9zM751.6 47.2h1.9v1.9h-1.9zM745.7 91.1h1.9v1.9h-1.9zM730.1 76.3h1.9v1.9h-1.9zM750.8 50.9h1.9v1.9h-1.9zM734.4 78.2h1.9v1.9h-1.9zM746.4 133.0h1.9v1.9h-1.9zM745.8 86.8h1.9v1.9h-1.9zM745.5 35.3h1.9v1.9h-1.9zM743.9 35.8h1.9v1.9h-1.9zM734.9 87.1h1.9v1.9h-1.9zM748.3 88.9h1.9v1.9h-1.9zM742.6 95.8h1.9v1.9h-1.9zM760.2 30.1h1.9v1.9h-1.9zM747.9 79.3h1.9v1.9h-1.9zM748.2 71.2h1.9v1.9h-1.9zM747.8 74.4h1.9v1.9h-1.9zM728.6 86.1h1.9v1.9h-1.9zM729.1 86.1h1.9v1.9h-1.9zM728.5 81.0h1.9v1.9h-1.9zM739.6 55.8h1.9v1.9h-1.9zM742.1 112.9h1.9v1.9h-1.9zM754.5 27.5h1.9v1.9h-1.9zM745.3 62.2h1.9v1.9h-1.9zM730.3 64.5h1.9v1.9h-1.9zM756.9 40.4h1.9v1.9h-1.9zM752.3 127.0h1.9v1.9h-1.9zM729.5 76.8h1.9v1.9h-1.9zM741.1 64.3h1.9v1.9h-1.9zM743.4 66.0h1.9v1.9h-1.9zM730.3 75.3h1.9v1.9h-1.9zM747.6 70.6h1.9v1.9h-1.9zM1008.9 246.1h1.9v1.9h-1.9zM1008.0 250.9h1.9v1.9h-1.9zM1004.5 249.8h1.9v1.9h-1.9zM1017.4 242.1h1.9v1.9h-1.9zM996.4 254.4h1.9v1.9h-1.9zM998.2 249.6h1.9v1.9h-1.9zM1018.5 240.7h1.9v1.9h-1.9zM1001.4 264.4h1.9v1.9h-1.9zM1009.0 255.8h1.9v1.9h-1.9zM993.9 265.4h1.9v1.9h-1.9zM1001.7 243.5h1.9v1.9h-1.9zM1005.2 247.1h1.9v1.9h-1.9zM998.9 258.8h1.9v1.9h-1.9zM1000.0 268.9h1.9v1.9h-1.9zM987.6 268.3h1.9v1.9h-1.9zM1008.8 258.6h1.9v1.9h-1.9zM1007.5 241.2h1.9v1.9h-1.9zM1022.4 223.9h1.9v1.9h-1.9zM1012.6 245.9h1.9v1.9h-1.9zM995.5 264.3h1.9v1.9h-1.9zM1001.4 229.1h1.9v1.9h-1.9zM977.0 276.7h1.9v1.9h-1.9zM1004.4 265.8h1.9v1.9h-1.9zM1012.1 257.2h1.9v1.9h-1.9zM1005.3 268.6h1.9v1.9h-1.9zM980.5 281.7h1.9v1.9h-1.9zM992.9 258.7h1.9v1.9h-1.9zM1010.6 249.0h1.9v1.9h-1.9zM1009.3 239.2h1.9v1.9h-1.9zM1007.1 243.3h1.9v1.9h-1.9zM1012.1 239.8h1.9v1.9h-1.9zM1008.1 250.0h1.9v1.9h-1.9zM989.4 262.2h1.9v1.9h-1.9zM1012.4 249.5h1.9v1.9h-1.9zM984.0 270.1h1.9v1.9h-1.9zM1001.0 237.3h1.9v1.9h-1.9zM989.7 274.1h1.9v1.9h-1.9zM1000.8 259.0h1.9v1.9h-1.9zM1007.7 260.8h1.9v1.9h-1.9zM999.1 248.7h1.9v1.9h-1.9zM1013.8 235.1h1.9v1.9h-1.9zM1011.1 234.9h1.9v1.9h-1.9zM1002.3 230.8h1.9v1.9h-1.9zM1018.3 231.7h1.9v1.9h-1.9zM1004.6 248.8h1.9v1.9h-1.9zM1000.3 245.3h1.9v1.9h-1.9zM1004.5 247.6h1.9v1.9h-1.9zM1012.1 242.0h1.9v1.9h-1.9zM1021.4 235.5h1.9v1.9h-1.9zM1005.8 261.1h1.9v1.9h-1.9zM1000.4 266.7h1.9v1.9h-1.9zM1004.3 238.9h1.9v1.9h-1.9zM1018.0 243.4h1.9v1.9h-1.9zM998.0 255.2h1.9v1.9h-1.9zM1027.8 222.1h1.9v1.9h-1.9zM1008.7 253.1h1.9v1.9h-1.9zM1009.5 259.1h1.9v1.9h-1.9zM1002.3 270.5h1.9v1.9h-1.9zM1001.8 251.3h1.9v1.9h-1.9zM1007.6 236.3h1.9v1.9h-1.9zM1002.9 247.9h1.9v1.9h-1.9zM1005.7 237.4h1.9v1.9h-1.9zM983.9 273.0h1.9v1.9h-1.9zM999.0 244.0h1.9v1.9h-1.9zM998.0 254.1h1.9v1.9h-1.9zM1004.8 253.5h1.9v1.9h-1.9zM994.3 264.0h1.9v1.9h-1.9zM1026.4 220.8h1.9v1.9h-1.9zM987.7 271.3h1.9v1.9h-1.9zM1018.7 241.7h1.9v1.9h-1.9zM1003.6 238.3h1.9v1.9h-1.9zM1003.0 262.9h1.9v1.9h-1.9zM1008.6 247.8h1.9v1.9h-1.9zM1009.3 241.6h1.9v1.9h-1.9zM1001.3 252.0h1.9v1.9h-1.9zM1019.4 238.0h1.9v1.9h-1.9zM1006.4 253.5h1.9v1.9h-1.9zM1000.9 272.6h1.9v1.9h-1.9zM994.5 257.4h1.9v1.9h-1.9zM1030.9 214.9h1.9v1.9h-1.9zM1010.4 246.3h1.9v1.9h-1.9zM1005.5 246.9h1.9v1.9h-1.9zM1019.9 244.7h1.9v1.9h-1.9zM997.7 249.5h1.9v1.9h-1.9zM999.9 263.7h1.9v1.9h-1.9zM1019.1 238.5h1.9v1.9h-1.9zM1014.9 245.8h1.9v1.9h-1.9zM1024.1 220.6h1.9v1.9h-1.9zM1001.1 265.8h1.9v1.9h-1.9zM1005.6 242.5h1.9v1.9h-1.9zM1008.2 234.3h1.9v1.9h-1.9zM1007.3 229.3h1.9v1.9h-1.9z" fill="#eb9141"/>
<path d="M737.7 266.3h1.9v1.9h-1.9zM728.0 246.2h1.9v1.9h-1.9zM732.2 248.3h1.9v1.9h-1.9zM719.4 231.6h1.9v1.9h-1.9zM739.3 271.0h1.9v1.9h-1.9zM738.5 242.1h1.9v1.9h-1.9zM711.2 232.2h1.9v1.9h-1.9zM703.2 246.3h1.9v1.9h-1.9zM729.5 255.1h1.9v1.9h-1.9zM726.1 249.1h1.9v1.9h-1.9zM741.9 258.1h1.9v1.9h-1.9zM732.2 264.8h1.9v1.9h-1.9zM740.8 239.1h1.9v1.9h-1.9zM746.1 253.1h1.9v1.9h-1.9zM732.0 265.9h1.9v1.9h-1.9zM713.4 244.6h1.9v1.9h-1.9zM705.1 232.4h1.9v1.9h-1.9zM721.1 241.7h1.9v1.9h-1.9zM707.5 243.9h1.9v1.9h-1.9zM704.5 245.0h1.9v1.9h-1.9zM727.4 250.8h1.9v1.9h-1.9zM708.3 246.3h1.9v1.9h-1.9zM717.3 244.1h1.9v1.9h-1.9zM738.9 242.8h1.9v1.9h-1.9zM728.4 247.8h1.9v1.9h-1.9zM710.1 246.3h1.9v1.9h-1.9zM743.8 269.4h1.9v1.9h-1.9zM736.1 271.2h1.9v1.9h-1.9zM752.3 259.7h1.9v1.9h-1.9zM725.0 249.9h1.9v1.9h-1.9zM734.8 252.8h1.9v1.9h-1.9zM750.7 259.6h1.9v1.9h-1.9zM746.7 271.5h1.9v1.9h-1.9zM736.4 247.3h1.9v1.9h-1.9zM733.0 244.2h1.9v1.9h-1.9zM720.1 247.6h1.9v1.9h-1.9zM729.6 263.0h1.9v1.9h-1.9zM747.2 248.1h1.9v1.9h-1.9zM723.2 244.3h1.9v1.9h-1.9zM746.4 264.3h1.9v1.9h-1.9zM742.8 273.7h1.9v1.9h-1.9zM724.8 255.4h1.9v1.9h-1.9zM729.4 257.3h1.9v1.9h-1.9zM731.3 265.5h1.9v1.9h-1.9zM705.1 237.9h1.9v1.9h-1.9zM745.4 249.0h1.9v1.9h-1.9zM719.3 242.9h1.9v1.9h-1.9zM707.3 249.0h1.9v1.9h-1.9zM732.6 235.5h1.9v1.9h-1.9zM710.7 238.6h1.9v1.9h-1.9zM741.9 245.9h1.9v1.9h-1.9zM751.2 273.4h1.9v1.9h-1.9zM707.7 236.3h1.9v1.9h-1.9zM741.4 242.8h1.9v1.9h-1.9zM724.2 243.9h1.9v1.9h-1.9zM720.0 244.4h1.9v1.9h-1.9zM742.9 247.6h1.9v1.9h-1.9zM734.8 266.6h1.9v1.9h-1.9zM720.8 251.8h1.9v1.9h-1.9zM739.9 272.8h1.9v1.9h-1.9zM700.4 237.5h1.9v1.9h-1.9zM710.6 239.7h1.9v1.9h-1.9zM752.3 258.2h1.9v1.9h-1.9zM706.2 247.0h1.9v1.9h-1.9zM744.1 273.0h1.9v1.9h-1.9zM726.9 237.9h1.9v1.9h-1.9zM699.7 235.9h1.9v1.9h-1.9zM699.5 244.6h1.9v1.9h-1.9zM724.0 249.3h1.9v1.9h-1.9zM725.1 253.1h1.9v1.9h-1.9zM720.1 250.8h1.9v1.9h-1.9zM703.7 233.4h1.9v1.9h-1.9zM723.6 248.8h1.9v1.9h-1.9zM741.9 265.7h1.9v1.9h-1.9zM725.0 252.4h1.9v1.9h-1.9zM723.9 242.6h1.9v1.9h-1.9zM716.9 252.8h1.9v1.9h-1.9zM722.5 256.8h1.9v1.9h-1.9zM719.8 234.8h1.9v1.9h-1.9zM741.5 239.2h1.9v1.9h-1.9zM707.7 245.2h1.9v1.9h-1.9zM713.7 242.2h1.9v1.9h-1.9zM702.1 234.9h1.9v1.9h-1.9zM718.4 240.7h1.9v1.9h-1.9zM719.2 247.8h1.9v1.9h-1.9zM739.3 265.9h1.9v1.9h-1.9zM707.4 235.6h1.9v1.9h-1.9zM716.8 238.0h1.9v1.9h-1.9zM702.2 244.0h1.9v1.9h-1.9zM701.3 240.2h1.9v1.9h-1.9zM750.7 259.5h1.9v1.9h-1.9zM747.3 269.5h1.9v1.9h-1.9zM707.3 242.0h1.9v1.9h-1.9zM737.9 239.9h1.9v1.9h-1.9zM748.2 270.2h1.9v1.9h-1.9zM715.7 235.5h1.9v1.9h-1.9zM729.8 257.9h1.9v1.9h-1.9zM738.0 267.1h1.9v1.9h-1.9zM707.7 241.9h1.9v1.9h-1.9zM706.0 238.7h1.9v1.9h-1.9zM719.7 221.6h1.9v1.9h-1.9zM742.1 249.5h1.9v1.9h-1.9zM745.8 249.6h1.9v1.9h-1.9zM727.5 239.7h1.9v1.9h-1.9zM745.7 250.2h1.9v1.9h-1.9zM748.1 277.7h1.9v1.9h-1.9zM730.8 242.2h1.9v1.9h-1.9zM738.3 269.1h1.9v1.9h-1.9zM756.5 247.6h1.9v1.9h-1.9zM741.9 244.1h1.9v1.9h-1.9zM717.5 227.7h1.9v1.9h-1.9zM725.8 250.3h1.9v1.9h-1.9zM731.5 238.6h1.9v1.9h-1.9zM738.0 270.4h1.9v1.9h-1.9zM725.4 251.7h1.9v1.9h-1.9zM714.9 242.8h1.9v1.9h-1.9zM705.8 241.6h1.9v1.9h-1.9zM724.6 235.5h1.9v1.9h-1.9zM708.1 244.4h1.9v1.9h-1.9zM733.1 259.3h1.9v1.9h-1.9zM731.6 255.8h1.9v1.9h-1.9zM746.4 238.3h1.9v1.9h-1.9zM713.2 236.2h1.9v1.9h-1.9zM729.0 261.1h1.9v1.9h-1.9zM714.2 232.7h1.9v1.9h-1.9zM730.4 245.8h1.9v1.9h-1.9zM719.0 248.6h1.9v1.9h-1.9zM753.1 273.1h1.9v1.9h-1.9zM717.3 252.3h1.9v1.9h-1.9zM741.0 268.9h1.9v1.9h-1.9zM726.7 263.0h1.9v1.9h-1.9zM730.9 249.1h1.9v1.9h-1.9zM733.2 264.6h1.9v1.9h-1.9zM755.7 247.8h1.9v1.9h-1.9zM733.5 267.3h1.9v1.9h-1.9zM748.5 272.0h1.9v1.9h-1.9zM743.3 251.0h1.9v1.9h-1.9zM729.8 259.4h1.9v1.9h-1.9zM737.0 240.3h1.9v1.9h-1.9zM722.8 256.5h1.9v1.9h-1.9zM747.7 265.0h1.9v1.9h-1.9zM726.0 243.2h1.9v1.9h-1.9zM704.5 249.0h1.9v1.9h-1.9zM732.6 263.9h1.9v1.9h-1.9zM729.1 265.8h1.9v1.9h-1.9zM724.8 239.7h1.9v1.9h-1.9zM725.6 240.0h1.9v1.9h-1.9zM733.9 255.0h1.9v1.9h-1.9zM733.0 266.0h1.9v1.9h-1.9zM733.1 242.5h1.9v1.9h-1.9zM753.7 266.2h1.9v1.9h-1.9zM724.0 240.5h1.9v1.9h-1.9zM709.0 242.5h1.9v1.9h-1.9zM724.2 236.1h1.9v1.9h-1.9zM753.9 252.4h1.9v1.9h-1.9zM725.0 238.5h1.9v1.9h-1.9zM705.4 241.2h1.9v1.9h-1.9zM753.3 267.3h1.9v1.9h-1.9zM747.2 246.1h1.9v1.9h-1.9zM742.4 246.8h1.9v1.9h-1.9zM746.8 252.8h1.9v1.9h-1.9zM715.7 234.7h1.9v1.9h-1.9zM745.3 273.3h1.9v1.9h-1.9zM699.3 240.7h1.9v1.9h-1.9zM725.1 246.9h1.9v1.9h-1.9zM740.7 272.4h1.9v1.9h-1.9zM743.4 281.4h1.9v1.9h-1.9zM749.8 267.9h1.9v1.9h-1.9zM745.1 282.0h1.9v1.9h-1.9zM718.7 242.6h1.9v1.9h-1.9zM716.2 239.9h1.9v1.9h-1.9zM732.7 249.3h1.9v1.9h-1.9zM752.2 270.9h1.9v1.9h-1.9zM712.3 233.9h1.9v1.9h-1.9zM745.2 267.8h1.9v1.9h-1.9zM716.8 253.8h1.9v1.9h-1.9zM748.5 263.2h1.9v1.9h-1.9zM717.9 241.7h1.9v1.9h-1.9zM729.7 242.7h1.9v1.9h-1.9z" fill="#732da5"/>
<path d="M749.5 234.3h1.9v1.9h-1.9zM701.1 213.7h1.9v1.9h-1.9zM726.8 220.7h1.9v1.9h-1.9zM712.0 245.0h1.9v1.9h-1.9zM725.4 226.1h1.9v1.9h-1.9zM709.9 209.4h1.9v1.9h-1.9zM734.2 235.5h1.9v1.9h-1.9zM715.9 226.9h1.9v1.9h-1.9zM732.2 230.0h1.9v1.9h-1.9zM752.5 259.2h1.9v1.9h-1.9zM709.9 213.6h1.9v1.9h-1.9zM722.7 222.3h1.9v1.9h-1.9zM715.1 229.9h1.9v1.9h-1.9zM748.1 217.8h1.9v1.9h-1.9zM721.1 228.1h1.9v1.9h-1.9zM727.4 211.9h1.9v1.9h-1.9zM708.5 234.5h1.9v1.9h-1.9zM739.4 226.4h1.9v1.9h-1.9zM742.5 236.2h1.9v1.9h-1.9zM743.9 255.2h1.9v1.9h-1.9zM745.3 256.1h1.9v1.9h-1.9zM745.6 263.5h1.9v1.9h-1.9zM726.7 231.7h1.9v1.9h-1.9zM742.1 245.3h1.9v1.9h-1.9zM747.4 226.5h1.9v1.9h-1.9zM713.2 228.5h1.9v1.9h-1.9zM746.8 248.3h1.9v1.9h-1.9zM751.4 230.2h1.9v1.9h-1.9zM713.2 219.3h1.9v1.9h-1.9zM727.9 208.2h1.9v1.9h-1.9zM725.0 231.2h1.9v1.9h-1.9zM701.9 218.8h1.9v1.9h-1.9zM727.8 248.9h1.9v1.9h-1.9zM744.5 224.4h1.9v1.9h-1.9zM725.6 220.8h1.9v1.9h-1.9zM715.3 225.6h1.9v1.9h-1.9zM719.5 240.3h1.9v1.9h-1.9zM707.6 217.7h1.9v1.9h-1.9zM750.9 220.7h1.9v1.9h-1.9zM738.7 225.6h1.9v1.9h-1.9zM744.4 251.8h1.9v1.9h-1.9zM750.9 255.5h1.9v1.9h-1.9zM725.6 216.2h1.9v1.9h-1.9zM707.4 225.7h1.9v1.9h-1.9zM714.4 206.5h1.9v1.9h-1.9zM727.4 219.4h1.9v1.9h-1.9zM745.0 224.2h1.9v1.9h-1.9zM741.5 208.1h1.9v1.9h-1.9zM710.0 210.9h1.9v1.9h-1.9zM732.8 233.4h1.9v1.9h-1.9zM724.4 230.0h1.9v1.9h-1.9zM724.0 234.4h1.9v1.9h-1.9zM743.3 225.8h1.9v1.9h-1.9zM738.8 256.2h1.9v1.9h-1.9zM724.4 220.7h1.9v1.9h-1.9zM727.2 217.0h1.9v1.9h-1.9zM712.8 215.2h1.9v1.9h-1.9zM723.4 239.1h1.9v1.9h-1.9zM754.6 242.2h1.9v1.9h-1.9zM706.3 220.4h1.9v1.9h-1.9zM704.9 224.5h1.9v1.9h-1.9zM720.2 236.0h1.9v1.9h-1.9zM730.6 233.5h1.9v1.9h-1.9zM750.0 228.3h1.9v1.9h-1.9zM706.4 212.7h1.9v1.9h-1.9zM710.1 230.7h1.9v1.9h-1.9zM732.0 212.6h1.9v1.9h-1.9zM709.2 235.5h1.9v1.9h-1.9zM739.4 242.8h1.9v1.9h-1.9zM727.2 213.6h1.9v1.9h-1.9zM738.2 203.4h1.9v1.9h-1.9zM718.5 204.5h1.9v1.9h-1.9zM726.5 206.5h1.9v1.9h-1.9zM709.8 226.6h1.9v1.9h-1.9zM721.8 231.8h1.9v1.9h-1.9zM744.4 260.8h1.9v1.9h-1.9zM709.9 237.8h1.9v1.9h-1.9zM712.4 204.9h1.9v1.9h-1.9zM723.9 215.6h1.9v1.9h-1.9zM712.5 230.3h1.9v1.9h-1.9zM732.3 248.2h1.9v1.9h-1.9zM740.2 221.6h1.9v1.9h-1.9zM724.1 229.8h1.9v1.9h-1.9zM714.4 220.2h1.9v1.9h-1.9zM703.0 220.0h1.9v1.9h-1.9zM724.6 217.0h1.9v1.9h-1.9zM719.1 216.2h1.9v1.9h-1.9zM716.6 222.3h1.9v1.9h-1.9zM750.9 252.1h1.9v1.9h-1.9zM701.9 229.1h1.9v1.9h-1.9zM730.2 216.4h1.9v1.9h-1.9zM707.1 231.5h1.9v1.9h-1.9zM712.7 216.5h1.9v1.9h-1.9zM731.3 235.4h1.9v1.9h-1.9zM721.5 231.4h1.9v1.9h-1.9zM750.3 219.9h1.9v1.9h-1.9zM740.8 230.1h1.9v1.9h-1.9zM711.5 220.7h1.9v1.9h-1.9zM746.9 217.3h1.9v1.9h-1.9zM717.9 227.9h1.9v1.9h-1.9zM711.8 202.9h1.9v1.9h-1.9zM750.0 235.9h1.9v1.9h-1.9zM733.2 221.4h1.9v1.9h-1.9zM748.9 258.7h1.9v1.9h-1.9zM724.7 240.2h1.9v1.9h-1.9zM711.9 221.2h1.9v1.9h-1.9zM752.9 230.3h1.9v1.9h-1.9zM748.5 261.4h1.9v1.9h-1.9zM715.9 222.6h1.9v1.9h-1.9zM735.5 221.2h1.9v1.9h-1.9zM704.1 213.7h1.9v1.9h-1.9zM708.7 226.7h1.9v1.9h-1.9zM748.1 214.7h1.9v1.9h-1.9zM728.8 233.6h1.9v1.9h-1.9zM733.8 222.2h1.9v1.9h-1.9zM746.9 259.7h1.9v1.9h-1.9zM738.4 260.2h1.9v1.9h-1.9zM717.6 214.9h1.9v1.9h-1.9zM731.2 207.0h1.9v1.9h-1.9zM740.5 209.3h1.9v1.9h-1.9zM707.9 207.9h1.9v1.9h-1.9zM745.9 244.9h1.9v1.9h-1.9zM726.4 219.0h1.9v1.9h-1.9zM738.0 227.7h1.9v1.9h-1.9zM716.4 232.8h1.9v1.9h-1.9zM720.8 226.6h1.9v1.9h-1.9zM752.4 250.6h1.9v1.9h-1.9zM742.9 210.8h1.9v1.9h-1.9zM733.9 240.8h1.9v1.9h-1.9zM741.9 215.7h1.9v1.9h-1.9zM739.3 228.1h1.9v1.9h-1.9zM714.2 227.5h1.9v1.9h-1.9zM744.7 237.8h1.9v1.9h-1.9zM745.5 259.1h1.9v1.9h-1.9zM719.8 212.8h1.9v1.9h-1.9zM745.7 216.6h1.9v1.9h-1.9zM741.6 227.6h1.9v1.9h-1.9zM726.2 212.4h1.9v1.9h-1.9zM709.7 220.1h1.9v1.9h-1.9zM740.8 223.1h1.9v1.9h-1.9zM709.4 215.1h1.9v1.9h-1.9zM752.0 262.3h1.9v1.9h-1.9zM720.7 201.0h1.9v1.9h-1.9zM736.1 259.0h1.9v1.9h-1.9zM736.4 248.0h1.9v1.9h-1.9zM725.4 216.7h1.9v1.9h-1.9zM710.3 223.6h1.9v1.9h-1.9zM717.9 220.7h1.9v1.9h-1.9zM708.5 226.6h1.9v1.9h-1.9zM746.3 236.0h1.9v1.9h-1.9zM707.1 221.3h1.9v1.9h-1.9zM704.9 222.2h1.9v1.9h-1.9zM718.1 220.2h1.9v1.9h-1.9zM732.1 244.9h1.9v1.9h-1.9zM724.2 220.1h1.9v1.9h-1.9zM724.9 221.9h1.9v1.9h-1.9zM704.2 204.3h1.9v1.9h-1.9zM752.3 261.2h1.9v1.9h-1.9zM744.5 247.5h1.9v1.9h-1.9zM744.1 221.8h1.9v1.9h-1.9zM755.0 250.2h1.9v1.9h-1.9zM712.8 212.9h1.9v1.9h-1.9zM715.6 234.0h1.9v1.9h-1.9zM742.4 256.2h1.9v1.9h-1.9zM731.1 234.7h1.9v1.9h-1.9zM732.3 234.4h1.9v1.9h-1.9zM739.6 238.4h1.9v1.9h-1.9zM708.2 217.6h1.9v1.9h-1.9zM728.0 208.0h1.9v1.9h-1.9zM740.4 225.8h1.9v1.9h-1.9zM730.3 237.2h1.9v1.9h-1.9zM730.5 218.6h1.9v1.9h-1.9zM708.9 215.8h1.9v1.9h-1.9zM705.3 219.9h1.9v1.9h-1.9zM702.9 193.1h1.9v1.9h-1.9zM754.5 237.8h1.9v1.9h-1.9zM701.8 222.9h1.9v1.9h-1.9zM720.6 224.3h1.9v1.9h-1.9zM717.5 204.0h1.9v1.9h-1.9zM719.1 209.4h1.9v1.9h-1.9zM706.4 190.1h1.9v1.9h-1.9zM728.9 236.6h1.9v1.9h-1.9zM741.5 250.8h1.9v1.9h-1.9zM710.3 214.1h1.9v1.9h-1.9zM752.7 260.5h1.9v1.9h-1.9zM731.9 205.6h1.9v1.9h-1.9zM749.6 262.8h1.9v1.9h-1.9zM707.7 232.6h1.9v1.9h-1.9zM725.6 221.4h1.9v1.9h-1.9zM713.2 220.4h1.9v1.9h-1.9zM702.6 210.4h1.9v1.9h-1.9zM717.7 218.5h1.9v1.9h-1.9zM717.3 220.4h1.9v1.9h-1.9zM702.6 222.9h1.9v1.9h-1.9zM705.4 230.9h1.9v1.9h-1.9zM745.8 245.2h1.9v1.9h-1.9zM703.0 224.7h1.9v1.9h-1.9zM715.0 224.0h1.9v1.9h-1.9zM726.9 231.8h1.9v1.9h-1.9zM752.5 227.4h1.9v1.9h-1.9zM708.3 226.4h1.9v1.9h-1.9zM703.4 212.0h1.9v1.9h-1.9zM740.7 229.0h1.9v1.9h-1.9zM722.3 233.9h1.9v1.9h-1.9zM723.8 232.9h1.9v1.9h-1.9zM731.4 227.8h1.9v1.9h-1.9zM735.3 216.3h1.9v1.9h-1.9zM755.5 233.8h1.9v1.9h-1.9zM753.8 230.5h1.9v1.9h-1.9zM732.5 251.0h1.9v1.9h-1.9zM739.0 205.3h1.9v1.9h-1.9zM749.4 259.4h1.9v1.9h-1.9zM710.2 221.0h1.9v1.9h-1.9zM703.2 213.9h1.9v1.9h-1.9zM718.0 223.6h1.9v1.9h-1.9zM708.6 218.9h1.9v1.9h-1.9zM733.9 228.8h1.9v1.9h-1.9zM705.2 230.2h1.9v1.9h-1.9zM702.3 221.5h1.9v1.9h-1.9zM725.9 200.0h1.9v1.9h-1.9zM702.8 210.9h1.9v1.9h-1.9zM725.1 216.3h1.9v1.9h-1.9zM720.3 223.0h1.9v1.9h-1.9zM744.3 256.8h1.9v1.9h-1.9zM741.3 225.5h1.9v1.9h-1.9zM701.1 213.9h1.9v1.9h-1.9zM743.3 217.4h1.9v1.9h-1.9zM734.1 216.3h1.9v1.9h-1.9zM728.8 219.9h1.9v1.9h-1.9zM703.2 218.5h1.9v1.9h-1.9z" fill="#872da5"/>
<path d="M739.3 209.2h1.9v1.9h-1.9zM712.3 204.6h1.9v1.9h-1.9zM741.7 199.2h1.9v1.9h-1.9zM738.3 211.9h1.9v1.9h-1.9zM723.9 180.6h1.9v1.9h-1.9zM739.3 191.5h1.9v1.9h-1.9zM713.5 198.5h1.9v1.9h-1.9zM709.1 192.5h1.9v1.9h-1.9zM718.8 187.2h1.9v1.9h-1.9zM721.4 201.6h1.9v1.9h-1.9zM719.7 199.5h1.9v1.9h-1.9zM725.2 181.1h1.9v1.9h-1.9zM708.1 190.0h1.9v1.9h-1.9zM711.8 168.5h1.9v1.9h-1.9zM734.4 171.7h1.9v1.9h-1.9zM739.5 211.6h1.9v1.9h-1.9zM733.9 176.9h1.9v1.9h-1.9zM719.4 183.6h1.9v1.9h-1.9zM723.6 183.7h1.9v1.9h-1.9zM701.4 180.7h1.9v1.9h-1.9zM723.7 167.5h1.9v1.9h-1.9zM734.8 180.4h1.9v1.9h-1.9zM702.2 171.2h1.9v1.9h-1.9zM706.2 188.5h1.9v1.9h-1.9zM732.0 198.8h1.9v1.9h-1.9zM715.3 191.7h1.9v1.9h-1.9zM716.7 201.6h1.9v1.9h-1.9zM729.4 161.9h1.9v1.9h-1.9zM718.4 197.0h1.9v1.9h-1.9zM731.3 198.3h1.9v1.9h-1.9zM723.4 186.9h1.9v1.9h-1.9zM731.3 197.4h1.9v1.9h-1.9zM738.6 206.2h1.9v1.9h-1.9zM713.8 183.2h1.9v1.9h-1.9zM737.3 205.7h1.9v1.9h-1.9zM707.2 175.7h1.9v1.9h-1.9zM724.0 204.7h1.9v1.9h-1.9zM717.1 180.1h1.9v1.9h-1.9zM711.7 174.7h1.9v1.9h-1.9zM736.7 168.9h1.9v1.9h-1.9zM706.5 166.6h1.9v1.9h-1.9zM715.4 208.8h1.9v1.9h-1.9zM720.0 183.2h1.9v1.9h-1.9zM725.9 186.3h1.9v1.9h-1.9zM724.1 195.5h1.9v1.9h-1.9zM712.7 198.6h1.9v1.9h-1.9zM721.2 199.1h1.9v1.9h-1.9zM701.2 184.2h1.9v1.9h-1.9zM720.1 180.8h1.9v1.9h-1.9zM724.4 203.8h1.9v1.9h-1.9zM733.3 183.1h1.9v1.9h-1.9zM713.1 194.5h1.9v1.9h-1.9zM727.0 198.2h1.9v1.9h-1.9zM708.3 180.2h1.9v1.9h-1.9zM727.3 178.8h1.9v1.9h-1.9zM750.8 241.6h1.9v1.9h-1.9zM720.4 184.5h1.9v1.9h-1.9zM731.4 184.6h1.9v1.9h-1.9zM727.9 192.6h1.9v1.9h-1.9zM701.4 159.0h1.9v1.9h-1.9zM740.3 192.7h1.9v1.9h-1.9zM724.9 176.9h1.9v1.9h-1.9zM730.5 152.9h1.9v1.9h-1.9zM701.5 197.3h1.9v1.9h-1.9zM719.2 184.6h1.9v1.9h-1.9zM715.1 193.7h1.9v1.9h-1.9zM713.8 176.6h1.9v1.9h-1.9zM704.1 187.9h1.9v1.9h-1.9zM715.5 203.7h1.9v1.9h-1.9zM727.2 201.5h1.9v1.9h-1.9zM722.4 187.7h1.9v1.9h-1.9zM724.8 189.3h1.9v1.9h-1.9zM712.1 182.7h1.9v1.9h-1.9zM711.3 191.3h1.9v1.9h-1.9zM719.4 206.4h1.9v1.9h-1.9zM711.1 188.4h1.9v1.9h-1.9zM737.0 193.4h1.9v1.9h-1.9zM712.2 198.4h1.9v1.9h-1.9zM711.2 176.0h1.9v1.9h-1.9zM730.7 200.5h1.9v1.9h-1.9zM714.8 181.5h1.9v1.9h-1.9zM701.5 185.0h1.9v1.9h-1.9zM728.1 205.0h1.9v1.9h-1.9zM706.0 188.5h1.9v1.9h-1.9zM728.7 204.7h1.9v1.9h-1.9zM733.6 180.2h1.9v1.9h-1.9zM718.4 197.9h1.9v1.9h-1.9zM704.1 182.8h1.9v1.9h-1.9zM735.8 187.6h1.9v1.9h-1.9zM738.4 178.6h1.9v1.9h-1.9zM719.1 181.4h1.9v1.9h-1.9zM705.5 171.4h1.9v1.9h-1.9zM723.9 175.8h1.9v1.9h-1.9zM722.1 204.3h1.9v1.9h-1.9zM722.1 211.3h1.9v1.9h-1.9zM732.0 176.6h1.9v1.9h-1.9zM728.0 174.7h1.9v1.9h-1.9zM731.6 171.6h1.9v1.9h-1.9zM702.4 187.5h1.9v1.9h-1.9zM721.0 176.8h1.9v1.9h-1.9zM723.1 200.7h1.9v1.9h-1.9zM708.9 199.6h1.9v1.9h-1.9zM747.7 216.2h1.9v1.9h-1.9zM724.1 187.1h1.9v1.9h-1.9zM704.4 183.4h1.9v1.9h-1.9zM734.5 192.5h1.9v1.9h-1.9zM706.7 209.3h1.9v1.9h-1.9zM720.5 195.1h1.9v1.9h-1.9zM713.4 173.2h1.9v1.9h-1.9zM722.9 160.9h1.9v1.9h-1.9zM719.9 189.2h1.9v1.9h-1.9zM730.5 185.0h1.9v1.9h-1.9zM723.7 159.2h1.9v1.9h-1.9zM703.8 200.1h1.9v1.9h-1.9zM737.2 179.1h1.9v1.9h-1.9zM704.5 170.7h1.9v1.9h-1.9zM722.5 194.1h1.9v1.9h-1.9zM701.7 188.8h1.9v1.9h-1.9zM724.8 168.6h1.9v1.9h-1.9zM736.6 184.0h1.9v1.9h-1.9zM724.4 194.9h1.9v1.9h-1.9zM728.2 206.5h1.9v1.9h-1.9zM738.2 183.0h1.9v1.9h-1.9zM708.4 184.5h1.9v1.9h-1.9zM727.5 200.4h1.9v1.9h-1.9zM725.1 174.7h1.9v1.9h-1.9zM716.7 183.5h1.9v1.9h-1.9zM705.6 193.3h1.9v1.9h-1.9zM722.7 196.9h1.9v1.9h-1.9zM726.4 166.4h1.9v1.9h-1.9zM713.1 195.0h1.9v1.9h-1.9zM702.9 180.3h1.9v1.9h-1.9zM719.8 195.7h1.9v1.9h-1.9zM707.0 198.7h1.9v1.9h-1.9zM708.9 190.9h1.9v1.9h-1.9zM714.1 165.9h1.9v1.9h-1.9zM708.5 179.5h1.9v1.9h-1.9zM701.8 184.9h1.9v1.9h-1.9zM712.8 200.7h1.9v1.9h-1.9zM712.6 192.3h1.9v1.9h-1.9zM736.5 178.8h1.9v1.9h-1.9zM716.7 204.4h1.9v1.9h-1.9zM701.7 200.6h1.9v1.9h-1.9zM714.2 164.7h1.9v1.9h-1.9zM701.7 175.0h1.9v1.9h-1.9zM706.6 167.9h1.9v1.9h-1.9zM728.4 181.5h1.9v1.9h-1.9zM708.2 195.7h1.9v1.9h-1.9zM708.2 192.5h1.9v1.9h-1.9zM710.4 205.7h1.9v1.9h-1.9zM704.4 194.4h1.9v1.9h-1.9zM701.2 196.1h1.9v1.9h-1.9zM725.4 191.9h1.9v1.9h-1.9zM724.6 184.4h1.9v1.9h-1.9zM734.3 160.4h1.9v1.9h-1.9zM730.6 182.6h1.9v1.9h-1.9zM702.3 210.2h1.9v1.9h-1.9zM703.7 191.8h1.9v1.9h-1.9zM724.9 188.9h1.9v1.9h-1.9zM736.5 192.5h1.9v1.9h-1.9zM719.1 187.4h1.9v1.9h-1.9zM719.8 195.4h1.9v1.9h-1.9zM705.2 190.4h1.9v1.9h-1.9zM731.3 208.4h1.9v1.9h-1.9zM730.3 195.1h1.9v1.9h-1.9zM740.6 192.6h1.9v1.9h-1.9zM727.5 173.0h1.9v1.9h-1.9zM711.2 187.3h1.9v1.9h-1.9zM714.2 179.4h1.9v1.9h-1.9zM706.6 184.6h1.9v1.9h-1.9zM709.0 197.0h1.9v1.9h-1.9zM712.7 187.1h1.9v1.9h-1.9zM711.4 192.3h1.9v1.9h-1.9zM705.2 198.4h1.9v1.9h-1.9zM718.9 182.1h1.9v1.9h-1.9zM728.3 190.9h1.9v1.9h-1.9zM707.8 179.9h1.9v1.9h-1.9zM702.4 158.7h1.9v1.9h-1.9zM721.7 178.7h1.9v1.9h-1.9zM704.2 196.1h1.9v1.9h-1.9zM732.3 175.6h1.9v1.9h-1.9zM721.6 183.4h1.9v1.9h-1.9zM719.7 174.0h1.9v1.9h-1.9zM731.5 193.5h1.9v1.9h-1.9zM703.8 192.7h1.9v1.9h-1.9zM714.5 195.7h1.9v1.9h-1.9zM708.1 206.2h1.9v1.9h-1.9zM736.2 186.2h1.9v1.9h-1.9zM717.4 175.6h1.9v1.9h-1.9zM709.1 196.3h1.9v1.9h-1.9zM721.2 166.1h1.9v1.9h-1.9zM709.6 186.5h1.9v1.9h-1.9zM715.0 190.2h1.9v1.9h-1.9zM727.8 180.4h1.9v1.9h-1.9zM709.8 174.0h1.9v1.9h-1.9zM710.4 177.4h1.9v1.9h-1.9zM703.4 198.1h1.9v1.9h-1.9zM721.3 181.7h1.9v1.9h-1.9zM755.0 146.5h1.9v1.9h-1.9zM752.4 137.5h1.9v1.9h-1.9zM756.0 142.7h1.9v1.9h-1.9zM754.9 148.2h1.9v1.9h-1.9zM754.5 140.8h1.9v1.9h-1.9zM750.0 149.7h1.9v1.9h-1.9zM752.6 147.0h1.9v1.9h-1.9zM753.7 143.1h1.9v1.9h-1.9zM754.1 144.4h1.9v1.9h-1.9zM757.8 146.9h1.9v1.9h-1.9zM753.3 153.5h1.9v1.9h-1.9zM752.5 147.6h1.9v1.9h-1.9zM761.0 145.8h1.9v1.9h-1.9zM756.4 144.2h1.9v1.9h-1.9zM754.5 150.7h1.9v1.9h-1.9z" fill="#9b2d9b"/>
<path d="M700.2 72.2h1.9v1.9h-1.9zM743.6 33.1h1.9v1.9h-1.9zM714.5 65.5h1.9v1.9h-1.9zM719.2 37.7h1.9v1.9h-1.9zM717.1 72.6h1.9v1.9h-1.9zM705.9 70.4h1.9v1.9h-1.9zM699.6 73.9h1.9v1.9h-1.9zM706.6 61.5h1.9v1.9h-1.9zM702.4 56.3h1.9v1.9h-1.9zM700.9 51.1h1.9v1.9h-1.9zM707.1 76.6h1.9v1.9h-1.9zM701.5 69.8h1.9v1.9h-1.9zM704.0 69.5h1.9v1.9h-1.9zM712.4 81.1h1.9v1.9h-1.9zM711.0 82.7h1.9v1.9h-1.9zM712.0 72.1h1.9v1.9h-1.9zM728.0 53.6h1.9v1.9h-1.9zM720.4 72.3h1.9v1.9h-1.9zM700.4 63.6h1.9v1.9h-1.9zM699.5 75.3h1.9v1.9h-1.9zM709.6 73.3h1.9v1.9h-1.9zM698.2 67.7h1.9v1.9h-1.9zM723.4 68.6h1.9v1.9h-1.9zM719.3 56.2h1.9v1.9h-1.9zM724.5 61.7h1.9v1.9h-1.9zM707.1 60.9h1.9v1.9h-1.9zM707.2 68.6h1.9v1.9h-1.9zM707.0 84.6h1.9v1.9h-1.9zM710.0 78.7h1.9v1.9h-1.9zM716.6 45.4h1.9v1.9h-1.9zM713.1 71.6h1.9v1.9h-1.9zM725.3 78.4h1.9v1.9h-1.9zM714.3 70.0h1.9v1.9h-1.9zM728.4 50.9h1.9v1.9h-1.9zM703.9 66.7h1.9v1.9h-1.9zM719.4 55.8h1.9v1.9h-1.9zM713.0 62.2h1.9v1.9h-1.9zM713.8 77.0h1.9v1.9h-1.9zM714.5 55.0h1.9v1.9h-1.9zM717.9 68.8h1.9v1.9h-1.9zM715.7 58.4h1.9v1.9h-1.9zM701.6 53.1h1.9v1.9h-1.9zM703.5 52.3h1.9v1.9h-1.9zM707.6 83.1h1.9v1.9h-1.9zM721.6 68.1h1.9v1.9h-1.9zM712.8 69.1h1.9v1.9h-1.9zM705.6 74.2h1.9v1.9h-1.9zM705.9 58.0h1.9v1.9h-1.9zM713.7 70.0h1.9v1.9h-1.9zM718.4 64.7h1.9v1.9h-1.9zM715.6 53.3h1.9v1.9h-1.9zM703.5 85.1h1.9v1.9h-1.9zM700.4 51.6h1.9v1.9h-1.9zM721.6 63.9h1.9v1.9h-1.9zM700.2 52.6h1.9v1.9h-1.9zM697.9 69.7h1.9v1.9h-1.9zM705.4 62.6h1.9v1.9h-1.9zM708.9 89.0h1.9v1.9h-1.9zM733.8 50.6h1.9v1.9h-1.9zM711.6 55.6h1.9v1.9h-1.9zM724.4 63.1h1.9v1.9h-1.9zM718.6 68.3h1.9v1.9h-1.9zM733.7 42.0h1.9v1.9h-1.9zM723.8 29.1h1.9v1.9h-1.9zM727.4 53.1h1.9v1.9h-1.9zM715.4 72.8h1.9v1.9h-1.9zM737.3 35.1h1.9v1.9h-1.9zM697.6 72.3h1.9v1.9h-1.9zM723.0 56.1h1.9v1.9h-1.9zM709.4 55.1h1.9v1.9h-1.9zM722.9 64.2h1.9v1.9h-1.9zM720.2 69.7h1.9v1.9h-1.9zM714.9 36.2h1.9v1.9h-1.9zM713.8 60.7h1.9v1.9h-1.9zM722.5 45.0h1.9v1.9h-1.9zM700.2 73.0h1.9v1.9h-1.9zM712.9 72.8h1.9v1.9h-1.9zM726.5 70.4h1.9v1.9h-1.9zM713.1 52.4h1.9v1.9h-1.9zM714.1 63.9h1.9v1.9h-1.9zM709.0 72.0h1.9v1.9h-1.9zM707.2 67.3h1.9v1.9h-1.9zM698.9 62.6h1.9v1.9h-1.9zM723.0 66.1h1.9v1.9h-1.9zM712.5 46.9h1.9v1.9h-1.9zM700.1 56.0h1.9v1.9h-1.9zM723.4 69.4h1.9v1.9h-1.9zM724.7 70.6h1.9v1.9h-1.9zM705.3 58.7h1.9v1.9h-1.9zM702.9 60.0h1.9v1.9h-1.9zM717.6 63.5h1.9v1.9h-1.9zM715.1 67.0h1.9v1.9h-1.9zM708.1 45.0h1.9v1.9h-1.9zM698.4 68.3h1.9v1.9h-1.9zM712.3 55.8h1.9v1.9h-1.9zM707.4 67.5h1.9v1.9h-1.9zM723.4 66.3h1.9v1.9h-1.9zM707.3 78.4h1.9v1.9h-1.9zM700.5 63.4h1.9v1.9h-1.9zM708.4 63.5h1.9v1.9h-1.9zM729.1 49.5h1.9v1.9h-1.9zM726.9 68.3h1.9v1.9h-1.9zM712.7 49.3h1.9v1.9h-1.9zM698.0 64.2h1.9v1.9h-1.9zM716.1 65.4h1.9v1.9h-1.9zM706.7 70.4h1.9v1.9h-1.9zM716.4 61.1h1.9v1.9h-1.9zM721.4 64.3h1.9v1.9h-1.9zM699.1 73.0h1.9v1.9h-1.9zM739.3 29.2h1.9v1.9h-1.9zM714.4 58.9h1.9v1.9h-1.9zM703.8 65.6h1.9v1.9h-1.9zM721.1 54.9h1.9v1.9h-1.9zM722.8 44.0h1.9v1.9h-1.9zM713.9 48.9h1.9v1.9h-1.9zM724.5 67.3h1.9v1.9h-1.9zM715.9 70.8h1.9v1.9h-1.9zM720.7 66.2h1.9v1.9h-1.9zM704.4 64.7h1.9v1.9h-1.9zM714.8 52.7h1.9v1.9h-1.9zM725.3 26.1h1.9v1.9h-1.9zM716.8 40.3h1.9v1.9h-1.9zM721.3 63.4h1.9v1.9h-1.9zM716.1 51.3h1.9v1.9h-1.9zM723.1 25.6h1.9v1.9h-1.9zM715.0 69.2h1.9v1.9h-1.9zM716.4 38.6h1.9v1.9h-1.9zM706.0 59.0h1.9v1.9h-1.9zM714.8 69.5h1.9v1.9h-1.9zM702.1 63.0h1.9v1.9h-1.9zM700.2 55.9h1.9v1.9h-1.9zM711.3 65.8h1.9v1.9h-1.9zM723.2 56.0h1.9v1.9h-1.9zM719.7 38.4h1.9v1.9h-1.9zM716.8 51.9h1.9v1.9h-1.9zM726.2 68.7h1.9v1.9h-1.9zM715.4 55.8h1.9v1.9h-1.9zM715.2 71.6h1.9v1.9h-1.9zM714.6 74.9h1.9v1.9h-1.9zM721.4 76.2h1.9v1.9h-1.9zM719.3 60.4h1.9v1.9h-1.9zM716.9 76.5h1.9v1.9h-1.9zM718.7 69.0h1.9v1.9h-1.9zM723.7 68.3h1.9v1.9h-1.9zM708.6 70.1h1.9v1.9h-1.9zM718.6 68.9h1.9v1.9h-1.9zM713.1 76.9h1.9v1.9h-1.9zM724.4 69.3h1.9v1.9h-1.9zM707.6 63.8h1.9v1.9h-1.9z" fill="#e15f69"/>
<path d="M725.2 282.3h1.9v1.9h-1.9zM725.2 281.0h1.9v1.9h-1.9zM728.9 280.5h1.9v1.9h-1.9zM722.1 282.5h1.9v1.9h-1.9zM715.1 286.1h1.9v1.9h-1.9zM729.2 302.0h1.9v1.9h-1.9zM730.9 316.0h1.9v1.9h-1.9zM732.8 315.6h1.9v1.9h-1.9zM730.9 316.6h1.9v1.9h-1.9zM705.3 262.4h1.9v1.9h-1.9zM733.7 318.0h1.9v1.9h-1.9zM735.2 305.5h1.9v1.9h-1.9zM704.9 262.4h1.9v1.9h-1.9zM725.7 287.0h1.9v1.9h-1.9zM727.2 301.0h1.9v1.9h-1.9zM704.6 271.1h1.9v1.9h-1.9zM718.1 283.3h1.9v1.9h-1.9zM712.9 276.3h1.9v1.9h-1.9zM730.9 309.0h1.9v1.9h-1.9zM736.0 312.1h1.9v1.9h-1.9zM708.0 265.1h1.9v1.9h-1.9zM719.2 283.1h1.9v1.9h-1.9zM728.2 297.4h1.9v1.9h-1.9zM738.4 317.7h1.9v1.9h-1.9zM725.7 291.5h1.9v1.9h-1.9zM728.0 311.8h1.9v1.9h-1.9zM728.8 287.4h1.9v1.9h-1.9zM733.3 314.6h1.9v1.9h-1.9zM720.5 293.8h1.9v1.9h-1.9zM723.1 280.0h1.9v1.9h-1.9zM729.1 310.4h1.9v1.9h-1.9zM727.3 299.5h1.9v1.9h-1.9zM730.3 306.6h1.9v1.9h-1.9zM730.1 306.2h1.9v1.9h-1.9zM725.6 305.8h1.9v1.9h-1.9zM737.1 316.9h1.9v1.9h-1.9zM713.5 267.9h1.9v1.9h-1.9zM734.7 317.5h1.9v1.9h-1.9zM704.9 264.9h1.9v1.9h-1.9zM725.8 304.9h1.9v1.9h-1.9zM725.4 289.2h1.9v1.9h-1.9zM732.3 295.8h1.9v1.9h-1.9zM708.5 270.8h1.9v1.9h-1.9zM735.3 319.5h1.9v1.9h-1.9zM725.8 298.7h1.9v1.9h-1.9zM699.7 261.6h1.9v1.9h-1.9zM709.8 268.6h1.9v1.9h-1.9zM714.9 270.5h1.9v1.9h-1.9zM735.8 310.9h1.9v1.9h-1.9zM722.4 289.0h1.9v1.9h-1.9zM735.2 319.9h1.9v1.9h-1.9zM712.7 272.2h1.9v1.9h-1.9zM702.2 259.4h1.9v1.9h-1.9zM731.5 301.1h1.9v1.9h-1.9zM714.2 273.5h1.9v1.9h-1.9zM722.1 275.4h1.9v1.9h-1.9zM721.1 290.7h1.9v1.9h-1.9zM736.4 316.8h1.9v1.9h-1.9zM701.5 260.8h1.9v1.9h-1.9zM729.0 294.5h1.9v1.9h-1.9zM706.4 273.0h1.9v1.9h-1.9zM734.7 315.2h1.9v1.9h-1.9zM723.9 308.4h1.9v1.9h-1.9zM724.7 291.8h1.9v1.9h-1.9zM697.3 264.0h1.9v1.9h-1.9zM730.7 304.4h1.9v1.9h-1.9zM719.3 282.1h1.9v1.9h-1.9zM733.2 309.2h1.9v1.9h-1.9zM705.1 264.5h1.9v1.9h-1.9zM728.9 310.0h1.9v1.9h-1.9zM726.1 306.4h1.9v1.9h-1.9zM706.6 257.8h1.9v1.9h-1.9zM703.7 267.0h1.9v1.9h-1.9zM728.7 290.6h1.9v1.9h-1.9zM711.1 276.5h1.9v1.9h-1.9zM730.9 315.2h1.9v1.9h-1.9zM730.5 309.4h1.9v1.9h-1.9zM716.6 282.8h1.9v1.9h-1.9zM729.4 304.8h1.9v1.9h-1.9zM704.3 269.5h1.9v1.9h-1.9zM719.3 281.7h1.9v1.9h-1.9zM728.0 324.0h1.9v1.9h-1.9zM736.6 312.8h1.9v1.9h-1.9zM720.8 278.8h1.9v1.9h-1.9zM718.5 274.6h1.9v1.9h-1.9zM721.1 291.2h1.9v1.9h-1.9zM713.2 277.5h1.9v1.9h-1.9zM719.0 275.3h1.9v1.9h-1.9zM711.8 272.2h1.9v1.9h-1.9zM728.2 313.4h1.9v1.9h-1.9zM710.5 266.3h1.9v1.9h-1.9zM730.9 299.6h1.9v1.9h-1.9zM700.3 263.0h1.9v1.9h-1.9zM744.4 301.3h1.9v1.9h-1.9zM714.7 272.6h1.9v1.9h-1.9zM734.0 309.5h1.9v1.9h-1.9zM732.4 308.5h1.9v1.9h-1.9zM715.5 274.5h1.9v1.9h-1.9z" fill="#412d9b"/>
<path d="M722.6 283.6h1.9v1.9h-1.9zM722.2 286.1h1.9v1.9h-1.9zM716.6 265.9h1.9v1.9h-1.9zM733.1 278.6h1.9v1.9h-1.9zM723.5 270.9h1.9v1.9h-1.9zM722.3 277.8h1.9v1.9h-1.9zM718.8 265.9h1.9v1.9h-1.9zM747.9 292.3h1.9v1.9h-1.9zM717.3 258.0h1.9v1.9h-1.9zM737.4 298.7h1.9v1.9h-1.9zM736.7 312.2h1.9v1.9h-1.9zM742.7 303.4h1.9v1.9h-1.9zM713.9 258.5h1.9v1.9h-1.9zM735.5 313.7h1.9v1.9h-1.9zM736.3 292.5h1.9v1.9h-1.9zM723.3 282.1h1.9v1.9h-1.9zM742.1 296.2h1.9v1.9h-1.9zM701.9 249.3h1.9v1.9h-1.9zM749.3 286.4h1.9v1.9h-1.9zM729.0 271.4h1.9v1.9h-1.9zM725.1 273.0h1.9v1.9h-1.9zM737.7 304.4h1.9v1.9h-1.9zM735.8 294.7h1.9v1.9h-1.9zM712.9 258.7h1.9v1.9h-1.9zM743.0 297.7h1.9v1.9h-1.9zM713.8 266.6h1.9v1.9h-1.9zM747.0 288.1h1.9v1.9h-1.9zM699.2 255.5h1.9v1.9h-1.9zM731.4 298.7h1.9v1.9h-1.9zM740.7 297.8h1.9v1.9h-1.9zM707.4 254.5h1.9v1.9h-1.9zM736.7 303.4h1.9v1.9h-1.9zM703.5 252.7h1.9v1.9h-1.9zM721.9 270.3h1.9v1.9h-1.9zM738.9 311.9h1.9v1.9h-1.9zM741.4 289.4h1.9v1.9h-1.9zM729.8 286.4h1.9v1.9h-1.9zM743.0 286.5h1.9v1.9h-1.9zM740.5 295.0h1.9v1.9h-1.9zM699.7 257.4h1.9v1.9h-1.9zM738.9 307.2h1.9v1.9h-1.9zM712.7 254.6h1.9v1.9h-1.9zM736.6 291.4h1.9v1.9h-1.9zM733.8 310.3h1.9v1.9h-1.9zM706.7 259.1h1.9v1.9h-1.9zM734.9 273.8h1.9v1.9h-1.9zM729.0 278.0h1.9v1.9h-1.9zM719.6 264.9h1.9v1.9h-1.9zM711.5 258.7h1.9v1.9h-1.9zM706.9 253.1h1.9v1.9h-1.9zM705.5 255.4h1.9v1.9h-1.9zM738.3 282.7h1.9v1.9h-1.9zM744.1 293.9h1.9v1.9h-1.9zM728.2 286.7h1.9v1.9h-1.9zM734.5 307.6h1.9v1.9h-1.9zM738.8 295.0h1.9v1.9h-1.9zM735.7 299.5h1.9v1.9h-1.9zM744.3 302.6h1.9v1.9h-1.9zM730.9 276.5h1.9v1.9h-1.9zM718.6 269.9h1.9v1.9h-1.9zM737.2 297.4h1.9v1.9h-1.9zM724.0 268.7h1.9v1.9h-1.9zM731.0 297.8h1.9v1.9h-1.9zM708.0 259.0h1.9v1.9h-1.9zM729.2 279.2h1.9v1.9h-1.9zM733.7 281.5h1.9v1.9h-1.9zM735.5 291.7h1.9v1.9h-1.9zM731.9 279.4h1.9v1.9h-1.9zM736.7 285.3h1.9v1.9h-1.9zM736.4 307.7h1.9v1.9h-1.9zM714.3 261.9h1.9v1.9h-1.9zM743.4 304.1h1.9v1.9h-1.9zM726.5 271.3h1.9v1.9h-1.9zM742.4 301.7h1.9v1.9h-1.9zM729.4 278.8h1.9v1.9h-1.9zM738.4 301.7h1.9v1.9h-1.9zM697.6 251.2h1.9v1.9h-1.9zM738.2 308.4h1.9v1.9h-1.9zM734.9 287.3h1.9v1.9h-1.9zM727.6 265.6h1.9v1.9h-1.9zM739.9 314.6h1.9v1.9h-1.9zM733.3 295.5h1.9v1.9h-1.9zM726.5 278.4h1.9v1.9h-1.9zM731.0 276.0h1.9v1.9h-1.9zM718.3 261.2h1.9v1.9h-1.9zM709.5 264.4h1.9v1.9h-1.9zM747.2 285.9h1.9v1.9h-1.9zM747.6 294.7h1.9v1.9h-1.9zM729.7 290.7h1.9v1.9h-1.9zM728.5 277.3h1.9v1.9h-1.9zM715.1 262.9h1.9v1.9h-1.9zM725.7 277.4h1.9v1.9h-1.9zM737.0 297.0h1.9v1.9h-1.9zM732.4 301.2h1.9v1.9h-1.9zM717.5 256.4h1.9v1.9h-1.9zM741.0 312.3h1.9v1.9h-1.9zM739.7 314.4h1.9v1.9h-1.9zM728.3 267.3h1.9v1.9h-1.9zM740.9 304.9h1.9v1.9h-1.9zM740.1 290.5h1.9v1.9h-1.9zM706.7 253.1h1.9v1.9h-1.9zM730.9 287.0h1.9v1.9h-1.9zM715.2 262.7h1.9v1.9h-1.9zM727.4 275.2h1.9v1.9h-1.9zM733.5 283.7h1.9v1.9h-1.9zM704.2 255.9h1.9v1.9h-1.9zM728.3 288.0h1.9v1.9h-1.9zM746.0 289.3h1.9v1.9h-1.9z" fill="#552da5"/>
<path d="M714.0 39.1h1.9v1.9h-1.9zM735.2 40.0h1.9v1.9h-1.9zM706.6 51.0h1.9v1.9h-1.9zM737.9 39.9h1.9v1.9h-1.9zM724.7 45.3h1.9v1.9h-1.9zM718.6 34.0h1.9v1.9h-1.9zM731.3 44.1h1.9v1.9h-1.9zM740.8 36.4h1.9v1.9h-1.9zM734.2 24.0h1.9v1.9h-1.9zM730.5 21.4h1.9v1.9h-1.9zM735.2 26.6h1.9v1.9h-1.9zM731.6 17.3h1.9v1.9h-1.9zM740.2 35.0h1.9v1.9h-1.9zM743.2 13.5h1.9v1.9h-1.9zM740.4 41.8h1.9v1.9h-1.9zM722.8 33.9h1.9v1.9h-1.9zM742.6 38.6h1.9v1.9h-1.9zM745.4 12.9h1.9v1.9h-1.9zM711.5 31.6h1.9v1.9h-1.9zM706.7 45.9h1.9v1.9h-1.9zM734.8 14.5h1.9v1.9h-1.9zM709.3 35.0h1.9v1.9h-1.9zM724.0 24.9h1.9v1.9h-1.9zM721.0 33.6h1.9v1.9h-1.9zM734.9 19.4h1.9v1.9h-1.9zM730.3 29.4h1.9v1.9h-1.9zM711.8 48.5h1.9v1.9h-1.9zM715.9 40.6h1.9v1.9h-1.9zM734.5 29.3h1.9v1.9h-1.9zM741.0 15.0h1.9v1.9h-1.9zM741.2 37.1h1.9v1.9h-1.9zM736.9 12.4h1.9v1.9h-1.9zM720.5 28.8h1.9v1.9h-1.9zM737.1 42.1h1.9v1.9h-1.9zM738.2 42.5h1.9v1.9h-1.9zM733.1 27.6h1.9v1.9h-1.9zM728.8 43.3h1.9v1.9h-1.9zM731.3 41.9h1.9v1.9h-1.9zM706.0 41.1h1.9v1.9h-1.9zM732.3 40.6h1.9v1.9h-1.9zM739.1 23.7h1.9v1.9h-1.9zM718.2 38.7h1.9v1.9h-1.9zM715.8 24.9h1.9v1.9h-1.9zM734.4 29.8h1.9v1.9h-1.9zM722.8 24.0h1.9v1.9h-1.9zM727.2 23.7h1.9v1.9h-1.9zM739.1 37.0h1.9v1.9h-1.9zM721.4 26.2h1.9v1.9h-1.9zM729.8 18.4h1.9v1.9h-1.9zM735.1 13.5h1.9v1.9h-1.9zM718.0 38.5h1.9v1.9h-1.9zM740.8 20.5h1.9v1.9h-1.9zM720.5 26.0h1.9v1.9h-1.9zM720.2 43.8h1.9v1.9h-1.9zM725.4 47.9h1.9v1.9h-1.9zM729.2 17.3h1.9v1.9h-1.9zM987.4 290.1h1.9v1.9h-1.9zM991.0 291.6h1.9v1.9h-1.9zM990.3 289.9h1.9v1.9h-1.9zM985.7 292.9h1.9v1.9h-1.9zM978.4 288.2h1.9v1.9h-1.9zM976.4 277.2h1.9v1.9h-1.9zM983.2 290.3h1.9v1.9h-1.9zM983.3 277.2h1.9v1.9h-1.9zM992.8 285.9h1.9v1.9h-1.9zM989.5 289.4h1.9v1.9h-1.9zM989.0 279.9h1.9v1.9h-1.9zM979.1 282.2h1.9v1.9h-1.9zM981.5 283.3h1.9v1.9h-1.9zM986.4 293.3h1.9v1.9h-1.9zM987.7 289.0h1.9v1.9h-1.9zM990.3 289.4h1.9v1.9h-1.9zM987.8 277.3h1.9v1.9h-1.9zM996.7 280.0h1.9v1.9h-1.9zM992.0 285.1h1.9v1.9h-1.9zM997.0 281.2h1.9v1.9h-1.9zM984.4 295.1h1.9v1.9h-1.9zM981.5 281.8h1.9v1.9h-1.9zM982.5 286.5h1.9v1.9h-1.9zM996.1 282.0h1.9v1.9h-1.9zM980.4 287.8h1.9v1.9h-1.9zM989.5 266.4h1.9v1.9h-1.9zM982.3 282.8h1.9v1.9h-1.9zM978.4 285.6h1.9v1.9h-1.9zM996.3 272.9h1.9v1.9h-1.9zM982.0 294.7h1.9v1.9h-1.9zM987.7 283.8h1.9v1.9h-1.9zM983.0 291.1h1.9v1.9h-1.9zM983.8 290.7h1.9v1.9h-1.9zM979.1 287.7h1.9v1.9h-1.9zM989.3 292.6h1.9v1.9h-1.9zM985.3 285.1h1.9v1.9h-1.9zM982.6 290.8h1.9v1.9h-1.9zM986.6 291.8h1.9v1.9h-1.9zM986.1 288.2h1.9v1.9h-1.9zM982.9 292.5h1.9v1.9h-1.9zM989.2 280.9h1.9v1.9h-1.9zM989.1 283.1h1.9v1.9h-1.9zM978.6 289.0h1.9v1.9h-1.9zM986.7 282.1h1.9v1.9h-1.9zM993.9 282.8h1.9v1.9h-1.9zM981.3 294.6h1.9v1.9h-1.9z" fill="#eb7d55"/>
<path d="M704.1 90.3h1.9v1.9h-1.9zM717.9 106.4h1.9v1.9h-1.9zM701.7 108.8h1.9v1.9h-1.9zM730.2 99.4h1.9v1.9h-1.9zM716.8 111.1h1.9v1.9h-1.9zM707.6 93.1h1.9v1.9h-1.9zM727.0 110.4h1.9v1.9h-1.9zM720.1 99.4h1.9v1.9h-1.9zM717.7 92.6h1.9v1.9h-1.9zM722.2 88.1h1.9v1.9h-1.9zM699.1 103.1h1.9v1.9h-1.9zM702.4 92.1h1.9v1.9h-1.9zM713.7 91.2h1.9v1.9h-1.9zM715.6 92.4h1.9v1.9h-1.9zM728.2 98.8h1.9v1.9h-1.9zM721.2 103.4h1.9v1.9h-1.9zM699.5 109.8h1.9v1.9h-1.9zM718.2 100.9h1.9v1.9h-1.9zM723.3 108.8h1.9v1.9h-1.9zM707.9 98.8h1.9v1.9h-1.9zM712.1 100.8h1.9v1.9h-1.9zM703.7 103.3h1.9v1.9h-1.9zM725.5 106.0h1.9v1.9h-1.9zM721.1 97.9h1.9v1.9h-1.9zM725.6 99.0h1.9v1.9h-1.9zM711.3 89.7h1.9v1.9h-1.9zM722.2 99.5h1.9v1.9h-1.9zM719.3 102.6h1.9v1.9h-1.9zM728.3 103.7h1.9v1.9h-1.9zM718.3 93.0h1.9v1.9h-1.9zM722.8 90.8h1.9v1.9h-1.9zM719.2 89.2h1.9v1.9h-1.9zM726.7 106.6h1.9v1.9h-1.9zM711.7 87.8h1.9v1.9h-1.9zM715.6 109.6h1.9v1.9h-1.9zM726.1 92.4h1.9v1.9h-1.9zM723.1 105.1h1.9v1.9h-1.9zM720.8 89.4h1.9v1.9h-1.9zM717.3 108.8h1.9v1.9h-1.9zM713.5 106.0h1.9v1.9h-1.9zM725.5 95.9h1.9v1.9h-1.9zM717.1 98.4h1.9v1.9h-1.9zM699.4 101.8h1.9v1.9h-1.9zM705.1 98.7h1.9v1.9h-1.9zM717.0 100.0h1.9v1.9h-1.9zM728.8 102.2h1.9v1.9h-1.9zM728.1 96.3h1.9v1.9h-1.9zM707.5 112.1h1.9v1.9h-1.9zM714.8 93.2h1.9v1.9h-1.9zM709.8 100.5h1.9v1.9h-1.9zM701.5 85.5h1.9v1.9h-1.9zM714.7 82.3h1.9v1.9h-1.9zM711.8 94.2h1.9v1.9h-1.9zM720.1 96.4h1.9v1.9h-1.9zM698.8 93.0h1.9v1.9h-1.9zM721.6 94.2h1.9v1.9h-1.9zM727.7 117.2h1.9v1.9h-1.9zM716.6 89.8h1.9v1.9h-1.9zM714.4 95.1h1.9v1.9h-1.9zM711.1 74.2h1.9v1.9h-1.9zM712.3 79.4h1.9v1.9h-1.9zM712.4 111.8h1.9v1.9h-1.9zM716.7 94.9h1.9v1.9h-1.9zM709.3 93.9h1.9v1.9h-1.9zM713.5 96.4h1.9v1.9h-1.9zM705.4 90.6h1.9v1.9h-1.9zM713.1 91.1h1.9v1.9h-1.9zM714.4 95.4h1.9v1.9h-1.9zM717.4 91.5h1.9v1.9h-1.9zM736.5 109.0h1.9v1.9h-1.9zM700.3 99.9h1.9v1.9h-1.9zM723.3 109.0h1.9v1.9h-1.9zM700.4 97.8h1.9v1.9h-1.9zM716.6 95.5h1.9v1.9h-1.9zM726.6 110.7h1.9v1.9h-1.9zM719.6 99.6h1.9v1.9h-1.9zM703.1 79.0h1.9v1.9h-1.9zM730.5 92.8h1.9v1.9h-1.9zM715.8 93.2h1.9v1.9h-1.9zM704.3 94.0h1.9v1.9h-1.9zM724.3 99.5h1.9v1.9h-1.9zM699.6 112.0h1.9v1.9h-1.9zM699.8 98.4h1.9v1.9h-1.9zM716.8 110.1h1.9v1.9h-1.9zM706.4 112.7h1.9v1.9h-1.9zM700.9 105.4h1.9v1.9h-1.9zM717.0 100.6h1.9v1.9h-1.9zM715.6 93.2h1.9v1.9h-1.9zM727.8 97.7h1.9v1.9h-1.9zM710.4 111.2h1.9v1.9h-1.9zM705.2 76.0h1.9v1.9h-1.9zM716.3 81.1h1.9v1.9h-1.9zM721.9 102.0h1.9v1.9h-1.9zM725.1 99.1h1.9v1.9h-1.9zM737.8 107.1h1.9v1.9h-1.9zM716.2 96.5h1.9v1.9h-1.9zM718.7 100.8h1.9v1.9h-1.9zM708.5 94.0h1.9v1.9h-1.9zM710.5 101.3h1.9v1.9h-1.9zM699.2 91.0h1.9v1.9h-1.9zM705.0 112.1h1.9v1.9h-1.9zM703.3 99.7h1.9v1.9h-1.9zM720.2 93.5h1.9v1.9h-1.9zM721.6 91.9h1.9v1.9h-1.9zM710.9 105.5h1.9v1.9h-1.9zM702.3 118.0h1.9v1.9h-1.9zM729.0 106.1h1.9v1.9h-1.9zM703.0 84.7h1.9v1.9h-1.9zM706.4 95.9h1.9v1.9h-1.9zM717.0 110.3h1.9v1.9h-1.9zM726.3 95.1h1.9v1.9h-1.9zM708.0 96.7h1.9v1.9h-1.9zM718.0 94.9h1.9v1.9h-1.9zM718.2 88.1h1.9v1.9h-1.9zM705.8 106.5h1.9v1.9h-1.9zM701.2 92.7h1.9v1.9h-1.9zM711.6 112.1h1.9v1.9h-1.9zM706.9 100.8h1.9v1.9h-1.9zM712.9 98.7h1.9v1.9h-1.9zM726.4 101.0h1.9v1.9h-1.9zM725.3 117.1h1.9v1.9h-1.9zM716.4 94.6h1.9v1.9h-1.9zM709.7 100.4h1.9v1.9h-1.9zM719.1 112.0h1.9v1.9h-1.9zM708.1 100.1h1.9v1.9h-1.9zM707.8 108.2h1.9v1.9h-1.9zM713.3 95.3h1.9v1.9h-1.9zM702.1 106.2h1.9v1.9h-1.9zM704.2 83.0h1.9v1.9h-1.9zM699.5 82.5h1.9v1.9h-1.9zM722.3 96.5h1.9v1.9h-1.9z" fill="#cd4b7d"/>
<path d="M700.2 267.6h1.9v1.9h-1.9zM700.5 268.6h1.9v1.9h-1.9zM723.5 319.1h1.9v1.9h-1.9zM729.4 327.4h1.9v1.9h-1.9zM723.0 299.7h1.9v1.9h-1.9zM713.4 296.7h1.9v1.9h-1.9zM714.6 302.5h1.9v1.9h-1.9zM715.4 287.2h1.9v1.9h-1.9zM716.6 291.8h1.9v1.9h-1.9zM719.7 304.3h1.9v1.9h-1.9zM719.7 295.6h1.9v1.9h-1.9zM698.4 267.4h1.9v1.9h-1.9zM707.4 277.1h1.9v1.9h-1.9zM698.2 271.0h1.9v1.9h-1.9zM726.3 309.6h1.9v1.9h-1.9zM721.7 307.7h1.9v1.9h-1.9zM719.5 311.2h1.9v1.9h-1.9zM717.3 304.4h1.9v1.9h-1.9zM729.3 317.7h1.9v1.9h-1.9zM702.5 278.3h1.9v1.9h-1.9zM714.0 309.9h1.9v1.9h-1.9zM700.9 280.2h1.9v1.9h-1.9zM708.8 285.1h1.9v1.9h-1.9zM701.3 279.6h1.9v1.9h-1.9zM711.6 278.6h1.9v1.9h-1.9zM697.1 262.0h1.9v1.9h-1.9zM724.2 304.0h1.9v1.9h-1.9zM715.6 291.8h1.9v1.9h-1.9zM717.8 307.8h1.9v1.9h-1.9zM707.9 280.5h1.9v1.9h-1.9zM725.3 291.8h1.9v1.9h-1.9zM730.9 326.9h1.9v1.9h-1.9zM714.8 300.7h1.9v1.9h-1.9zM720.1 313.2h1.9v1.9h-1.9zM735.1 324.2h1.9v1.9h-1.9zM722.8 302.5h1.9v1.9h-1.9zM717.0 328.4h1.9v1.9h-1.9zM717.8 317.7h1.9v1.9h-1.9zM724.4 316.2h1.9v1.9h-1.9zM703.9 272.0h1.9v1.9h-1.9zM727.4 326.2h1.9v1.9h-1.9zM721.6 305.2h1.9v1.9h-1.9zM726.2 319.3h1.9v1.9h-1.9zM703.5 284.9h1.9v1.9h-1.9zM722.6 321.2h1.9v1.9h-1.9zM725.1 324.3h1.9v1.9h-1.9zM723.7 319.1h1.9v1.9h-1.9zM722.1 328.6h1.9v1.9h-1.9zM732.5 326.5h1.9v1.9h-1.9zM727.3 315.0h1.9v1.9h-1.9zM699.0 274.3h1.9v1.9h-1.9zM718.1 299.6h1.9v1.9h-1.9zM722.3 297.4h1.9v1.9h-1.9zM717.2 290.4h1.9v1.9h-1.9zM716.6 299.8h1.9v1.9h-1.9zM721.6 319.9h1.9v1.9h-1.9zM702.7 267.5h1.9v1.9h-1.9zM725.9 326.6h1.9v1.9h-1.9zM719.4 316.4h1.9v1.9h-1.9zM724.2 310.2h1.9v1.9h-1.9zM702.4 271.9h1.9v1.9h-1.9zM720.3 303.3h1.9v1.9h-1.9zM728.2 315.6h1.9v1.9h-1.9zM719.4 310.3h1.9v1.9h-1.9zM722.7 321.6h1.9v1.9h-1.9zM707.5 286.8h1.9v1.9h-1.9zM710.2 288.7h1.9v1.9h-1.9zM718.0 289.9h1.9v1.9h-1.9zM721.0 317.5h1.9v1.9h-1.9zM713.6 288.0h1.9v1.9h-1.9zM723.7 327.4h1.9v1.9h-1.9zM719.6 305.9h1.9v1.9h-1.9zM716.9 307.4h1.9v1.9h-1.9zM697.0 265.2h1.9v1.9h-1.9zM723.2 301.2h1.9v1.9h-1.9zM702.3 271.7h1.9v1.9h-1.9zM708.7 288.2h1.9v1.9h-1.9zM717.1 293.7h1.9v1.9h-1.9zM711.6 292.0h1.9v1.9h-1.9zM708.2 281.5h1.9v1.9h-1.9zM719.2 290.4h1.9v1.9h-1.9zM721.3 329.2h1.9v1.9h-1.9zM717.1 320.7h1.9v1.9h-1.9zM723.2 315.5h1.9v1.9h-1.9zM727.1 317.2h1.9v1.9h-1.9zM726.3 325.6h1.9v1.9h-1.9z" fill="#2d2d91"/>
<path d="M708.8 246.7h1.9v1.9h-1.9zM743.8 281.5h1.9v1.9h-1.9zM745.0 272.0h1.9v1.9h-1.9zM752.4 270.5h1.9v1.9h-1.9zM751.9 275.7h1.9v1.9h-1.9zM746.7 275.4h1.9v1.9h-1.9zM705.6 240.7h1.9v1.9h-1.9zM699.9 244.6h1.9v1.9h-1.9zM741.9 289.3h1.9v1.9h-1.9zM733.5 271.4h1.9v1.9h-1.9zM729.6 267.5h1.9v1.9h-1.9zM746.2 282.4h1.9v1.9h-1.9zM737.2 278.6h1.9v1.9h-1.9zM699.5 240.7h1.9v1.9h-1.9zM730.9 271.9h1.9v1.9h-1.9zM749.1 277.5h1.9v1.9h-1.9zM750.2 284.8h1.9v1.9h-1.9zM716.0 249.1h1.9v1.9h-1.9zM725.2 253.0h1.9v1.9h-1.9zM713.5 246.2h1.9v1.9h-1.9zM727.8 263.3h1.9v1.9h-1.9zM699.3 239.8h1.9v1.9h-1.9zM712.8 238.1h1.9v1.9h-1.9zM724.9 256.5h1.9v1.9h-1.9zM712.9 241.2h1.9v1.9h-1.9zM744.9 289.8h1.9v1.9h-1.9zM743.8 286.9h1.9v1.9h-1.9zM733.7 265.0h1.9v1.9h-1.9zM746.0 274.4h1.9v1.9h-1.9zM711.1 247.2h1.9v1.9h-1.9zM727.4 251.5h1.9v1.9h-1.9zM701.2 246.6h1.9v1.9h-1.9zM700.3 246.3h1.9v1.9h-1.9zM704.0 243.2h1.9v1.9h-1.9zM750.8 270.5h1.9v1.9h-1.9zM732.4 258.4h1.9v1.9h-1.9zM706.0 246.8h1.9v1.9h-1.9zM724.2 263.3h1.9v1.9h-1.9zM750.4 279.4h1.9v1.9h-1.9zM708.0 246.6h1.9v1.9h-1.9zM722.3 254.1h1.9v1.9h-1.9zM745.8 280.3h1.9v1.9h-1.9zM721.3 260.5h1.9v1.9h-1.9zM719.4 249.4h1.9v1.9h-1.9zM744.9 274.5h1.9v1.9h-1.9zM752.5 273.9h1.9v1.9h-1.9zM708.2 238.3h1.9v1.9h-1.9zM707.9 250.7h1.9v1.9h-1.9zM728.9 255.9h1.9v1.9h-1.9zM738.7 275.9h1.9v1.9h-1.9zM724.6 248.0h1.9v1.9h-1.9zM731.8 270.3h1.9v1.9h-1.9zM711.4 254.8h1.9v1.9h-1.9zM725.7 258.2h1.9v1.9h-1.9zM731.4 267.2h1.9v1.9h-1.9zM714.9 254.7h1.9v1.9h-1.9zM747.9 283.9h1.9v1.9h-1.9zM712.6 249.2h1.9v1.9h-1.9zM723.6 244.6h1.9v1.9h-1.9zM707.1 245.7h1.9v1.9h-1.9zM741.3 282.8h1.9v1.9h-1.9zM744.1 281.6h1.9v1.9h-1.9zM739.9 275.4h1.9v1.9h-1.9zM700.5 248.3h1.9v1.9h-1.9zM725.2 260.5h1.9v1.9h-1.9zM742.4 295.8h1.9v1.9h-1.9zM736.8 279.7h1.9v1.9h-1.9zM754.0 244.3h1.9v1.9h-1.9zM747.3 282.3h1.9v1.9h-1.9zM752.3 276.4h1.9v1.9h-1.9zM720.2 251.4h1.9v1.9h-1.9zM723.5 249.6h1.9v1.9h-1.9zM739.9 288.6h1.9v1.9h-1.9zM713.8 255.9h1.9v1.9h-1.9zM723.3 254.3h1.9v1.9h-1.9zM707.7 241.1h1.9v1.9h-1.9zM744.0 299.6h1.9v1.9h-1.9zM713.1 236.4h1.9v1.9h-1.9zM719.2 255.6h1.9v1.9h-1.9zM740.1 296.8h1.9v1.9h-1.9zM745.2 287.1h1.9v1.9h-1.9zM717.5 246.0h1.9v1.9h-1.9zM738.2 271.5h1.9v1.9h-1.9zM746.0 294.8h1.9v1.9h-1.9zM724.9 272.4h1.9v1.9h-1.9zM722.1 258.7h1.9v1.9h-1.9zM722.1 250.7h1.9v1.9h-1.9zM743.1 295.4h1.9v1.9h-1.9zM718.4 256.1h1.9v1.9h-1.9zM700.2 249.3h1.9v1.9h-1.9zM742.6 281.5h1.9v1.9h-1.9zM728.1 248.9h1.9v1.9h-1.9zM747.9 285.7h1.9v1.9h-1.9zM708.6 246.2h1.9v1.9h-1.9zM740.2 269.2h1.9v1.9h-1.9zM744.8 273.9h1.9v1.9h-1.9zM702.3 246.9h1.9v1.9h-1.9zM722.3 250.5h1.9v1.9h-1.9zM723.9 246.4h1.9v1.9h-1.9zM739.9 276.6h1.9v1.9h-1.9zM716.0 258.8h1.9v1.9h-1.9zM699.3 242.4h1.9v1.9h-1.9zM711.3 241.3h1.9v1.9h-1.9zM703.1 251.6h1.9v1.9h-1.9zM706.8 243.5h1.9v1.9h-1.9zM727.8 240.0h1.9v1.9h-1.9zM734.1 255.1h1.9v1.9h-1.9zM743.8 281.3h1.9v1.9h-1.9zM730.9 279.6h1.9v1.9h-1.9zM745.5 274.9h1.9v1.9h-1.9zM711.8 249.3h1.9v1.9h-1.9zM745.7 293.2h1.9v1.9h-1.9zM741.5 276.3h1.9v1.9h-1.9zM698.2 245.3h1.9v1.9h-1.9zM714.5 255.4h1.9v1.9h-1.9zM730.7 254.4h1.9v1.9h-1.9zM738.0 254.9h1.9v1.9h-1.9zM749.4 279.5h1.9v1.9h-1.9zM738.5 276.3h1.9v1.9h-1.9zM703.8 251.2h1.9v1.9h-1.9zM744.1 277.1h1.9v1.9h-1.9zM731.6 266.5h1.9v1.9h-1.9zM726.9 266.0h1.9v1.9h-1.9zM714.7 253.5h1.9v1.9h-1.9zM738.9 281.6h1.9v1.9h-1.9zM746.0 281.9h1.9v1.9h-1.9zM723.8 261.2h1.9v1.9h-1.9zM744.2 276.5h1.9v1.9h-1.9zM752.6 276.0h1.9v1.9h-1.9zM743.6 296.5h1.9v1.9h-1.9zM699.3 249.1h1.9v1.9h-1.9zM732.9 258.1h1.9v1.9h-1.9zM728.2 255.8h1.9v1.9h-1.9zM700.5 242.5h1.9v1.9h-1.9zM709.4 248.3h1.9v1.9h-1.9zM725.6 262.7h1.9v1.9h-1.9zM749.8 266.1h1.9v1.9h-1.9zM736.2 269.4h1.9v1.9h-1.9zM741.6 266.9h1.9v1.9h-1.9zM719.3 256.6h1.9v1.9h-1.9zM743.9 284.4h1.9v1.9h-1.9zM731.1 270.8h1.9v1.9h-1.9z" fill="#692da5"/>
<path d="M716.3 295.9h1.9v1.9h-1.9zM729.7 322.4h1.9v1.9h-1.9zM702.8 266.1h1.9v1.9h-1.9zM719.1 298.1h1.9v1.9h-1.9zM698.5 267.9h1.9v1.9h-1.9zM736.1 319.7h1.9v1.9h-1.9zM702.9 268.1h1.9v1.9h-1.9zM727.6 317.3h1.9v1.9h-1.9zM723.9 312.7h1.9v1.9h-1.9zM726.3 320.6h1.9v1.9h-1.9zM720.6 305.2h1.9v1.9h-1.9zM725.9 321.6h1.9v1.9h-1.9zM723.7 303.1h1.9v1.9h-1.9zM716.3 307.6h1.9v1.9h-1.9zM723.3 305.4h1.9v1.9h-1.9zM706.8 287.6h1.9v1.9h-1.9zM723.3 307.3h1.9v1.9h-1.9zM714.9 285.2h1.9v1.9h-1.9zM733.5 325.9h1.9v1.9h-1.9zM723.5 295.7h1.9v1.9h-1.9zM719.0 289.2h1.9v1.9h-1.9zM721.8 308.5h1.9v1.9h-1.9zM725.1 315.4h1.9v1.9h-1.9zM730.7 304.1h1.9v1.9h-1.9zM703.7 272.3h1.9v1.9h-1.9zM722.0 306.0h1.9v1.9h-1.9zM719.5 297.8h1.9v1.9h-1.9zM700.1 264.5h1.9v1.9h-1.9zM714.3 288.4h1.9v1.9h-1.9zM719.8 307.0h1.9v1.9h-1.9zM724.4 307.3h1.9v1.9h-1.9zM711.4 290.3h1.9v1.9h-1.9zM729.9 325.4h1.9v1.9h-1.9zM711.7 292.1h1.9v1.9h-1.9zM712.9 286.6h1.9v1.9h-1.9zM716.6 281.7h1.9v1.9h-1.9zM729.5 326.7h1.9v1.9h-1.9zM731.8 313.4h1.9v1.9h-1.9zM723.2 285.2h1.9v1.9h-1.9zM722.3 324.1h1.9v1.9h-1.9zM714.9 283.5h1.9v1.9h-1.9zM708.5 278.3h1.9v1.9h-1.9zM710.9 283.3h1.9v1.9h-1.9zM696.8 266.2h1.9v1.9h-1.9zM715.4 282.1h1.9v1.9h-1.9zM729.1 325.1h1.9v1.9h-1.9zM713.5 284.5h1.9v1.9h-1.9zM707.2 278.1h1.9v1.9h-1.9zM728.2 311.1h1.9v1.9h-1.9zM714.0 286.9h1.9v1.9h-1.9zM714.3 275.4h1.9v1.9h-1.9zM715.9 294.8h1.9v1.9h-1.9zM723.0 308.9h1.9v1.9h-1.9zM722.8 297.5h1.9v1.9h-1.9z" fill="#372d91"/>
<path d="M710.3 94.2h1.9v1.9h-1.9zM706.8 76.8h1.9v1.9h-1.9zM726.2 76.6h1.9v1.9h-1.9zM708.8 91.2h1.9v1.9h-1.9zM707.3 76.8h1.9v1.9h-1.9zM710.6 86.8h1.9v1.9h-1.9zM701.5 82.9h1.9v1.9h-1.9zM715.0 91.8h1.9v1.9h-1.9zM711.9 91.3h1.9v1.9h-1.9zM710.7 75.2h1.9v1.9h-1.9zM709.0 54.7h1.9v1.9h-1.9zM699.0 87.3h1.9v1.9h-1.9zM712.4 84.0h1.9v1.9h-1.9zM711.0 75.1h1.9v1.9h-1.9zM706.1 92.5h1.9v1.9h-1.9zM716.0 72.2h1.9v1.9h-1.9zM699.7 75.2h1.9v1.9h-1.9zM719.3 78.4h1.9v1.9h-1.9zM725.2 82.0h1.9v1.9h-1.9zM715.4 84.2h1.9v1.9h-1.9zM719.1 68.7h1.9v1.9h-1.9zM714.6 74.8h1.9v1.9h-1.9zM703.9 90.1h1.9v1.9h-1.9zM698.9 80.1h1.9v1.9h-1.9zM709.2 71.5h1.9v1.9h-1.9zM714.1 84.5h1.9v1.9h-1.9zM723.5 77.4h1.9v1.9h-1.9zM698.0 81.5h1.9v1.9h-1.9zM712.1 71.3h1.9v1.9h-1.9zM702.5 77.5h1.9v1.9h-1.9zM698.3 71.6h1.9v1.9h-1.9zM704.2 92.1h1.9v1.9h-1.9zM721.4 93.1h1.9v1.9h-1.9zM714.0 92.3h1.9v1.9h-1.9zM704.2 79.0h1.9v1.9h-1.9zM709.9 86.3h1.9v1.9h-1.9zM723.1 80.3h1.9v1.9h-1.9zM719.7 82.6h1.9v1.9h-1.9zM726.2 90.5h1.9v1.9h-1.9zM716.0 79.4h1.9v1.9h-1.9zM707.6 83.8h1.9v1.9h-1.9zM698.4 89.5h1.9v1.9h-1.9zM707.7 87.1h1.9v1.9h-1.9zM724.5 92.5h1.9v1.9h-1.9zM711.2 76.2h1.9v1.9h-1.9zM723.5 89.6h1.9v1.9h-1.9zM725.7 65.0h1.9v1.9h-1.9zM726.4 79.0h1.9v1.9h-1.9zM721.8 86.6h1.9v1.9h-1.9zM705.4 83.6h1.9v1.9h-1.9zM724.0 72.5h1.9v1.9h-1.9zM717.8 91.3h1.9v1.9h-1.9zM723.9 85.7h1.9v1.9h-1.9zM707.5 81.7h1.9v1.9h-1.9zM714.0 82.3h1.9v1.9h-1.9zM716.3 84.0h1.9v1.9h-1.9zM706.1 88.4h1.9v1.9h-1.9zM698.3 83.6h1.9v1.9h-1.9zM713.1 88.8h1.9v1.9h-1.9zM708.0 96.5h1.9v1.9h-1.9zM700.1 86.8h1.9v1.9h-1.9zM725.0 71.1h1.9v1.9h-1.9zM722.6 68.2h1.9v1.9h-1.9zM707.7 80.4h1.9v1.9h-1.9zM700.6 105.2h1.9v1.9h-1.9zM708.4 99.6h1.9v1.9h-1.9zM726.0 77.9h1.9v1.9h-1.9zM719.5 77.7h1.9v1.9h-1.9zM724.2 65.7h1.9v1.9h-1.9zM703.4 72.7h1.9v1.9h-1.9zM722.1 80.8h1.9v1.9h-1.9zM716.3 72.2h1.9v1.9h-1.9zM720.8 64.7h1.9v1.9h-1.9zM717.6 69.6h1.9v1.9h-1.9zM707.2 88.2h1.9v1.9h-1.9zM710.5 69.7h1.9v1.9h-1.9zM713.1 91.3h1.9v1.9h-1.9zM714.7 84.0h1.9v1.9h-1.9zM704.0 73.7h1.9v1.9h-1.9zM720.6 91.4h1.9v1.9h-1.9zM721.6 80.7h1.9v1.9h-1.9zM706.9 91.4h1.9v1.9h-1.9zM715.8 100.5h1.9v1.9h-1.9zM713.6 89.1h1.9v1.9h-1.9zM718.1 73.9h1.9v1.9h-1.9zM718.5 78.6h1.9v1.9h-1.9zM705.8 91.6h1.9v1.9h-1.9zM719.0 85.2h1.9v1.9h-1.9zM716.7 77.2h1.9v1.9h-1.9zM718.2 81.0h1.9v1.9h-1.9zM726.2 69.1h1.9v1.9h-1.9zM719.4 91.2h1.9v1.9h-1.9zM719.0 69.5h1.9v1.9h-1.9zM718.5 91.0h1.9v1.9h-1.9zM707.9 84.6h1.9v1.9h-1.9zM722.7 85.6h1.9v1.9h-1.9zM713.3 77.6h1.9v1.9h-1.9zM723.2 86.6h1.9v1.9h-1.9zM722.5 76.6h1.9v1.9h-1.9zM700.8 68.1h1.9v1.9h-1.9z" fill="#d75573"/>
<path d="M726.1 319.8h1.9v1.9h-1.9zM697.9 278.2h1.9v1.9h-1.9zM702.7 279.0h1.9v1.9h-1.9zM713.3 304.4h1.9v1.9h-1.9zM707.6 294.3h1.9v1.9h-1.9zM708.9 294.4h1.9v1.9h-1.9zM718.4 327.0h1.9v1.9h-1.9zM707.0 289.9h1.9v1.9h-1.9zM724.6 321.0h1.9v1.9h-1.9zM718.9 300.1h1.9v1.9h-1.9zM703.2 284.7h1.9v1.9h-1.9zM727.9 326.8h1.9v1.9h-1.9zM711.7 295.0h1.9v1.9h-1.9zM718.8 310.7h1.9v1.9h-1.9zM729.7 328.0h1.9v1.9h-1.9zM699.7 276.7h1.9v1.9h-1.9zM721.0 316.4h1.9v1.9h-1.9zM716.1 299.4h1.9v1.9h-1.9zM717.5 318.4h1.9v1.9h-1.9zM715.0 314.8h1.9v1.9h-1.9zM715.9 313.3h1.9v1.9h-1.9zM715.3 318.3h1.9v1.9h-1.9zM699.7 281.9h1.9v1.9h-1.9zM714.1 317.3h1.9v1.9h-1.9zM713.1 320.6h1.9v1.9h-1.9zM732.7 327.0h1.9v1.9h-1.9zM721.3 332.3h1.9v1.9h-1.9zM713.0 296.9h1.9v1.9h-1.9zM724.5 329.7h1.9v1.9h-1.9zM708.5 280.4h1.9v1.9h-1.9zM712.1 323.2h1.9v1.9h-1.9zM721.5 327.7h1.9v1.9h-1.9zM709.4 304.7h1.9v1.9h-1.9zM702.0 284.0h1.9v1.9h-1.9zM703.0 283.5h1.9v1.9h-1.9zM720.6 327.9h1.9v1.9h-1.9zM719.2 313.2h1.9v1.9h-1.9zM716.8 317.9h1.9v1.9h-1.9zM703.2 275.3h1.9v1.9h-1.9zM697.7 274.7h1.9v1.9h-1.9zM718.3 309.2h1.9v1.9h-1.9zM718.3 319.7h1.9v1.9h-1.9zM709.9 288.7h1.9v1.9h-1.9zM710.5 297.6h1.9v1.9h-1.9zM720.2 304.5h1.9v1.9h-1.9zM728.6 327.8h1.9v1.9h-1.9zM718.6 299.5h1.9v1.9h-1.9zM723.7 316.9h1.9v1.9h-1.9zM705.1 289.4h1.9v1.9h-1.9zM715.4 327.1h1.9v1.9h-1.9zM720.2 321.1h1.9v1.9h-1.9zM698.7 278.9h1.9v1.9h-1.9zM723.6 316.1h1.9v1.9h-1.9zM719.5 303.3h1.9v1.9h-1.9zM715.5 305.0h1.9v1.9h-1.9zM703.7 280.4h1.9v1.9h-1.9zM712.0 323.5h1.9v1.9h-1.9zM707.4 286.6h1.9v1.9h-1.9zM711.2 298.2h1.9v1.9h-1.9zM713.3 290.0h1.9v1.9h-1.9zM715.0 323.3h1.9v1.9h-1.9zM718.5 321.8h1.9v1.9h-1.9zM722.5 315.6h1.9v1.9h-1.9zM719.8 313.6h1.9v1.9h-1.9zM722.7 313.9h1.9v1.9h-1.9zM717.3 297.1h1.9v1.9h-1.9zM702.4 277.9h1.9v1.9h-1.9zM700.6 268.7h1.9v1.9h-1.9zM708.3 304.0h1.9v1.9h-1.9zM726.2 323.9h1.9v1.9h-1.9zM711.0 292.5h1.9v1.9h-1.9zM708.1 283.2h1.9v1.9h-1.9zM701.5 276.0h1.9v1.9h-1.9zM725.8 327.3h1.9v1.9h-1.9zM719.2 326.9h1.9v1.9h-1.9zM714.8 283.1h1.9v1.9h-1.9zM712.0 299.9h1.9v1.9h-1.9zM719.7 325.7h1.9v1.9h-1.9zM711.1 300.2h1.9v1.9h-1.9zM711.9 301.7h1.9v1.9h-1.9zM706.6 288.9h1.9v1.9h-1.9zM716.4 324.5h1.9v1.9h-1.9zM716.7 313.2h1.9v1.9h-1.9zM705.3 282.9h1.9v1.9h-1.9zM722.9 320.7h1.9v1.9h-1.9zM701.7 277.8h1.9v1.9h-1.9zM730.1 323.2h1.9v1.9h-1.9zM699.2 281.5h1.9v1.9h-1.9zM715.4 300.6h1.9v1.9h-1.9zM727.4 315.9h1.9v1.9h-1.9zM707.1 290.8h1.9v1.9h-1.9zM715.3 317.1h1.9v1.9h-1.9zM715.8 321.7h1.9v1.9h-1.9zM712.7 321.4h1.9v1.9h-1.9zM703.4 282.5h1.9v1.9h-1.9zM701.1 281.1h1.9v1.9h-1.9zM709.4 310.4h1.9v1.9h-1.9zM718.9 309.7h1.9v1.9h-1.9zM718.5 303.1h1.9v1.9h-1.9zM720.6 319.5h1.9v1.9h-1.9zM720.0 324.1h1.9v1.9h-1.9zM714.1 324.5h1.9v1.9h-1.9zM716.2 315.8h1.9v1.9h-1.9zM715.7 312.5h1.9v1.9h-1.9zM726.8 325.9h1.9v1.9h-1.9zM729.1 326.5h1.9v1.9h-1.9zM710.2 293.0h1.9v1.9h-1.9zM712.8 297.2h1.9v1.9h-1.9zM699.9 283.2h1.9v1.9h-1.9zM713.9 302.4h1.9v1.9h-1.9zM721.2 311.4h1.9v1.9h-1.9zM718.0 326.3h1.9v1.9h-1.9zM705.5 280.4h1.9v1.9h-1.9zM707.4 305.6h1.9v1.9h-1.9z" fill="#2d2d87"/>
<path d="M708.8 249.1h1.9v1.9h-1.9zM748.2 289.0h1.9v1.9h-1.9zM718.3 264.7h1.9v1.9h-1.9zM706.6 254.0h1.9v1.9h-1.9zM715.9 260.7h1.9v1.9h-1.9zM731.8 280.3h1.9v1.9h-1.9zM705.8 251.1h1.9v1.9h-1.9zM742.8 305.6h1.9v1.9h-1.9zM734.0 278.5h1.9v1.9h-1.9zM717.7 259.2h1.9v1.9h-1.9zM735.9 283.4h1.9v1.9h-1.9zM708.7 257.7h1.9v1.9h-1.9zM750.3 280.6h1.9v1.9h-1.9zM707.4 250.5h1.9v1.9h-1.9zM735.1 281.2h1.9v1.9h-1.9zM724.1 269.3h1.9v1.9h-1.9zM741.4 279.2h1.9v1.9h-1.9zM722.1 266.2h1.9v1.9h-1.9zM744.9 285.8h1.9v1.9h-1.9zM740.9 298.2h1.9v1.9h-1.9zM738.5 289.2h1.9v1.9h-1.9zM726.0 258.5h1.9v1.9h-1.9zM722.0 259.8h1.9v1.9h-1.9zM737.6 286.2h1.9v1.9h-1.9zM742.7 281.8h1.9v1.9h-1.9zM729.1 269.1h1.9v1.9h-1.9zM734.9 298.7h1.9v1.9h-1.9zM741.3 273.3h1.9v1.9h-1.9zM741.4 296.9h1.9v1.9h-1.9zM729.7 279.5h1.9v1.9h-1.9zM730.4 277.4h1.9v1.9h-1.9zM703.7 246.2h1.9v1.9h-1.9zM711.7 261.2h1.9v1.9h-1.9zM712.1 248.6h1.9v1.9h-1.9zM713.0 259.4h1.9v1.9h-1.9zM724.6 263.5h1.9v1.9h-1.9zM709.8 253.3h1.9v1.9h-1.9zM747.5 288.4h1.9v1.9h-1.9zM697.4 252.6h1.9v1.9h-1.9zM701.8 256.6h1.9v1.9h-1.9zM728.7 264.7h1.9v1.9h-1.9zM739.7 281.0h1.9v1.9h-1.9zM751.2 279.6h1.9v1.9h-1.9zM743.0 291.6h1.9v1.9h-1.9zM742.8 291.8h1.9v1.9h-1.9zM741.7 279.7h1.9v1.9h-1.9zM721.7 257.8h1.9v1.9h-1.9zM739.5 299.3h1.9v1.9h-1.9zM720.7 266.8h1.9v1.9h-1.9zM732.9 277.2h1.9v1.9h-1.9zM722.9 257.0h1.9v1.9h-1.9zM713.3 259.6h1.9v1.9h-1.9zM713.9 259.6h1.9v1.9h-1.9zM722.7 260.6h1.9v1.9h-1.9zM722.5 266.2h1.9v1.9h-1.9zM710.5 255.3h1.9v1.9h-1.9zM734.8 281.0h1.9v1.9h-1.9zM749.3 276.7h1.9v1.9h-1.9zM739.8 300.8h1.9v1.9h-1.9zM744.7 289.9h1.9v1.9h-1.9zM736.6 292.7h1.9v1.9h-1.9zM729.1 275.2h1.9v1.9h-1.9zM716.9 259.7h1.9v1.9h-1.9zM730.7 277.1h1.9v1.9h-1.9zM712.6 253.2h1.9v1.9h-1.9zM745.2 278.0h1.9v1.9h-1.9zM707.3 252.2h1.9v1.9h-1.9zM742.1 293.1h1.9v1.9h-1.9zM715.1 263.4h1.9v1.9h-1.9zM728.8 277.0h1.9v1.9h-1.9zM711.6 252.8h1.9v1.9h-1.9zM704.0 254.7h1.9v1.9h-1.9zM739.6 305.5h1.9v1.9h-1.9zM701.5 251.1h1.9v1.9h-1.9zM721.0 269.5h1.9v1.9h-1.9zM709.4 256.4h1.9v1.9h-1.9zM717.7 256.0h1.9v1.9h-1.9zM709.2 252.8h1.9v1.9h-1.9zM742.3 288.5h1.9v1.9h-1.9zM729.5 271.2h1.9v1.9h-1.9zM738.8 281.8h1.9v1.9h-1.9zM722.4 269.8h1.9v1.9h-1.9zM719.9 248.6h1.9v1.9h-1.9zM740.6 300.1h1.9v1.9h-1.9zM707.0 258.4h1.9v1.9h-1.9zM722.6 261.9h1.9v1.9h-1.9zM744.9 300.2h1.9v1.9h-1.9zM740.3 283.1h1.9v1.9h-1.9zM710.5 244.5h1.9v1.9h-1.9zM741.6 310.5h1.9v1.9h-1.9zM719.6 263.6h1.9v1.9h-1.9zM750.3 274.1h1.9v1.9h-1.9zM740.6 287.9h1.9v1.9h-1.9zM736.1 284.3h1.9v1.9h-1.9zM744.1 290.9h1.9v1.9h-1.9zM710.9 253.5h1.9v1.9h-1.9zM736.4 287.5h1.9v1.9h-1.9zM704.3 255.0h1.9v1.9h-1.9zM741.3 282.9h1.9v1.9h-1.9zM711.1 252.4h1.9v1.9h-1.9zM741.6 297.3h1.9v1.9h-1.9zM746.3 296.8h1.9v1.9h-1.9zM734.8 280.0h1.9v1.9h-1.9zM738.1 288.3h1.9v1.9h-1.9zM742.0 285.7h1.9v1.9h-1.9zM740.0 306.2h1.9v1.9h-1.9zM738.8 290.6h1.9v1.9h-1.9zM741.1 296.0h1.9v1.9h-1.9zM751.0 282.4h1.9v1.9h-1.9zM734.3 287.1h1.9v1.9h-1.9zM701.0 248.8h1.9v1.9h-1.9zM718.0 267.1h1.9v1.9h-1.9zM739.6 282.6h1.9v1.9h-1.9zM710.3 252.2h1.9v1.9h-1.9zM708.5 252.5h1.9v1.9h-1.9zM741.9 294.5h1.9v1.9h-1.9z" fill="#5f2da5"/>
<path d="M709.2 316.9h1.9v1.9h-1.9zM698.4 292.1h1.9v1.9h-1.9zM701.1 302.6h1.9v1.9h-1.9zM727.7 324.4h1.9v1.9h-1.9zM715.5 323.3h1.9v1.9h-1.9zM713.3 290.9h1.9v1.9h-1.9zM705.2 302.1h1.9v1.9h-1.9zM701.1 303.2h1.9v1.9h-1.9zM709.7 294.5h1.9v1.9h-1.9zM705.0 299.3h1.9v1.9h-1.9zM701.0 301.4h1.9v1.9h-1.9zM711.6 312.3h1.9v1.9h-1.9zM715.4 317.6h1.9v1.9h-1.9zM701.4 289.4h1.9v1.9h-1.9zM702.4 295.6h1.9v1.9h-1.9zM714.0 326.9h1.9v1.9h-1.9zM700.3 296.5h1.9v1.9h-1.9zM727.4 328.6h1.9v1.9h-1.9zM707.2 297.1h1.9v1.9h-1.9zM702.1 287.6h1.9v1.9h-1.9zM702.0 293.3h1.9v1.9h-1.9zM721.3 324.6h1.9v1.9h-1.9zM700.6 281.2h1.9v1.9h-1.9zM708.0 301.4h1.9v1.9h-1.9zM700.0 295.2h1.9v1.9h-1.9zM708.7 287.4h1.9v1.9h-1.9zM705.8 282.7h1.9v1.9h-1.9zM718.7 322.6h1.9v1.9h-1.9zM711.1 309.3h1.9v1.9h-1.9zM701.9 297.4h1.9v1.9h-1.9zM706.6 292.8h1.9v1.9h-1.9zM708.0 312.8h1.9v1.9h-1.9zM710.7 320.8h1.9v1.9h-1.9zM700.3 301.8h1.9v1.9h-1.9zM708.0 315.9h1.9v1.9h-1.9zM703.3 289.7h1.9v1.9h-1.9zM713.0 303.0h1.9v1.9h-1.9zM708.1 318.2h1.9v1.9h-1.9zM700.6 305.0h1.9v1.9h-1.9zM700.5 298.8h1.9v1.9h-1.9zM721.6 325.2h1.9v1.9h-1.9zM711.9 306.0h1.9v1.9h-1.9zM701.1 292.4h1.9v1.9h-1.9zM704.6 288.3h1.9v1.9h-1.9zM699.6 302.4h1.9v1.9h-1.9zM712.3 322.2h1.9v1.9h-1.9zM701.0 291.3h1.9v1.9h-1.9zM713.2 327.6h1.9v1.9h-1.9zM705.1 299.9h1.9v1.9h-1.9zM715.0 319.8h1.9v1.9h-1.9zM701.1 290.7h1.9v1.9h-1.9zM697.1 280.5h1.9v1.9h-1.9zM707.6 296.1h1.9v1.9h-1.9zM703.6 301.7h1.9v1.9h-1.9zM705.7 316.7h1.9v1.9h-1.9zM700.0 297.6h1.9v1.9h-1.9zM713.2 319.0h1.9v1.9h-1.9zM700.4 301.7h1.9v1.9h-1.9zM701.6 288.9h1.9v1.9h-1.9zM708.9 292.6h1.9v1.9h-1.9zM709.0 317.5h1.9v1.9h-1.9zM712.6 315.4h1.9v1.9h-1.9zM711.3 296.5h1.9v1.9h-1.9zM707.4 301.2h1.9v1.9h-1.9zM705.0 299.2h1.9v1.9h-1.9zM704.2 299.6h1.9v1.9h-1.9zM706.0 311.5h1.9v1.9h-1.9zM699.2 289.0h1.9v1.9h-1.9zM699.3 280.6h1.9v1.9h-1.9zM712.0 296.9h1.9v1.9h-1.9zM703.3 303.3h1.9v1.9h-1.9zM715.7 314.3h1.9v1.9h-1.9zM709.6 308.1h1.9v1.9h-1.9zM710.9 298.0h1.9v1.9h-1.9zM699.0 281.6h1.9v1.9h-1.9zM700.6 280.8h1.9v1.9h-1.9zM709.1 301.9h1.9v1.9h-1.9zM709.3 317.4h1.9v1.9h-1.9zM703.8 295.5h1.9v1.9h-1.9zM711.1 296.3h1.9v1.9h-1.9zM710.0 321.5h1.9v1.9h-1.9zM699.1 293.2h1.9v1.9h-1.9zM701.4 299.8h1.9v1.9h-1.9zM706.9 300.3h1.9v1.9h-1.9zM714.2 323.8h1.9v1.9h-1.9zM715.9 322.2h1.9v1.9h-1.9zM701.9 288.2h1.9v1.9h-1.9zM709.9 304.3h1.9v1.9h-1.9zM702.8 283.7h1.9v1.9h-1.9zM708.3 290.3h1.9v1.9h-1.9zM701.1 293.9h1.9v1.9h-1.9zM708.5 311.4h1.9v1.9h-1.9zM699.6 273.6h1.9v1.9h-1.9zM705.5 290.5h1.9v1.9h-1.9zM703.5 302.6h1.9v1.9h-1.9zM711.2 324.4h1.9v1.9h-1.9zM710.7 321.6h1.9v1.9h-1.9zM699.5 297.4h1.9v1.9h-1.9zM701.0 299.4h1.9v1.9h-1.9zM712.1 307.0h1.9v1.9h-1.9zM698.8 286.6h1.9v1.9h-1.9zM702.2 286.7h1.9v1.9h-1.9zM717.6 317.5h1.9v1.9h-1.9zM710.5 324.0h1.9v1.9h-1.9zM710.6 313.1h1.9v1.9h-1.9zM714.5 309.4h1.9v1.9h-1.9zM717.8 329.6h1.9v1.9h-1.9zM716.0 310.0h1.9v1.9h-1.9zM702.0 300.2h1.9v1.9h-1.9zM698.5 293.1h1.9v1.9h-1.9zM705.5 293.7h1.9v1.9h-1.9zM704.0 303.9h1.9v1.9h-1.9zM711.3 323.3h1.9v1.9h-1.9zM708.2 313.9h1.9v1.9h-1.9zM713.1 301.7h1.9v1.9h-1.9zM706.5 311.1h1.9v1.9h-1.9zM700.3 277.8h1.9v1.9h-1.9zM704.1 287.6h1.9v1.9h-1.9zM718.3 315.1h1.9v1.9h-1.9zM717.8 317.2h1.9v1.9h-1.9zM698.9 279.0h1.9v1.9h-1.9zM723.0 322.8h1.9v1.9h-1.9zM703.7 310.9h1.9v1.9h-1.9zM710.0 316.7h1.9v1.9h-1.9zM712.2 320.9h1.9v1.9h-1.9zM725.2 331.4h1.9v1.9h-1.9zM700.1 302.6h1.9v1.9h-1.9zM702.1 281.5h1.9v1.9h-1.9zM716.6 325.0h1.9v1.9h-1.9zM709.0 323.0h1.9v1.9h-1.9zM705.3 302.6h1.9v1.9h-1.9zM708.5 316.3h1.9v1.9h-1.9zM707.7 309.5h1.9v1.9h-1.9zM704.4 286.1h1.9v1.9h-1.9zM704.3 283.0h1.9v1.9h-1.9zM711.8 303.5h1.9v1.9h-1.9zM712.3 305.9h1.9v1.9h-1.9zM708.5 307.2h1.9v1.9h-1.9zM713.3 324.6h1.9v1.9h-1.9zM720.2 326.4h1.9v1.9h-1.9zM703.4 296.0h1.9v1.9h-1.9zM721.6 321.5h1.9v1.9h-1.9zM704.4 308.0h1.9v1.9h-1.9zM706.8 316.2h1.9v1.9h-1.9zM712.3 294.2h1.9v1.9h-1.9zM702.8 293.9h1.9v1.9h-1.9zM722.7 330.7h1.9v1.9h-1.9zM720.3 324.3h1.9v1.9h-1.9zM713.9 311.0h1.9v1.9h-1.9zM702.5 305.3h1.9v1.9h-1.9z" fill="#232d7d"/>
<path d="M736.7 101.2h1.9v1.9h-1.9zM717.1 112.4h1.9v1.9h-1.9zM709.9 106.1h1.9v1.9h-1.9zM722.1 107.0h1.9v1.9h-1.9zM705.2 107.7h1.9v1.9h-1.9zM711.6 108.1h1.9v1.9h-1.9zM717.1 98.9h1.9v1.9h-1.9zM727.8 103.2h1.9v1.9h-1.9zM721.7 111.8h1.9v1.9h-1.9zM724.2 133.2h1.9v1.9h-1.9zM716.9 105.0h1.9v1.9h-1.9zM714.1 100.8h1.9v1.9h-1.9zM700.9 113.9h1.9v1.9h-1.9zM706.0 87.7h1.9v1.9h-1.9zM706.0 104.4h1.9v1.9h-1.9zM703.8 104.5h1.9v1.9h-1.9zM720.0 116.3h1.9v1.9h-1.9zM704.6 95.2h1.9v1.9h-1.9zM702.2 113.1h1.9v1.9h-1.9zM727.4 108.6h1.9v1.9h-1.9zM727.3 110.4h1.9v1.9h-1.9zM715.0 95.5h1.9v1.9h-1.9zM729.2 105.4h1.9v1.9h-1.9zM711.6 106.9h1.9v1.9h-1.9zM707.6 120.8h1.9v1.9h-1.9zM710.9 107.2h1.9v1.9h-1.9zM720.9 116.7h1.9v1.9h-1.9zM708.4 107.5h1.9v1.9h-1.9zM705.2 108.4h1.9v1.9h-1.9zM711.5 101.3h1.9v1.9h-1.9zM708.0 101.8h1.9v1.9h-1.9zM718.5 114.3h1.9v1.9h-1.9zM724.5 113.7h1.9v1.9h-1.9zM707.6 103.2h1.9v1.9h-1.9zM716.2 127.3h1.9v1.9h-1.9zM702.7 101.2h1.9v1.9h-1.9zM721.6 109.9h1.9v1.9h-1.9zM727.9 118.7h1.9v1.9h-1.9zM703.9 107.0h1.9v1.9h-1.9zM728.7 124.6h1.9v1.9h-1.9zM723.2 104.9h1.9v1.9h-1.9zM699.9 110.3h1.9v1.9h-1.9z" fill="#cd417d"/>
<path d="M725.6 30.5h1.9v1.9h-1.9zM723.9 58.1h1.9v1.9h-1.9zM722.9 28.6h1.9v1.9h-1.9zM701.0 70.5h1.9v1.9h-1.9zM733.0 43.6h1.9v1.9h-1.9zM704.0 56.8h1.9v1.9h-1.9zM708.9 49.6h1.9v1.9h-1.9zM722.3 51.0h1.9v1.9h-1.9zM727.6 47.9h1.9v1.9h-1.9zM733.1 40.2h1.9v1.9h-1.9zM735.3 33.2h1.9v1.9h-1.9zM725.9 27.3h1.9v1.9h-1.9zM731.9 33.7h1.9v1.9h-1.9zM707.9 41.4h1.9v1.9h-1.9zM727.1 46.9h1.9v1.9h-1.9zM714.7 43.5h1.9v1.9h-1.9zM728.8 39.9h1.9v1.9h-1.9zM700.1 72.5h1.9v1.9h-1.9zM725.0 36.0h1.9v1.9h-1.9zM700.4 61.7h1.9v1.9h-1.9zM742.6 15.1h1.9v1.9h-1.9zM731.3 31.1h1.9v1.9h-1.9zM715.7 58.4h1.9v1.9h-1.9zM726.0 49.1h1.9v1.9h-1.9zM727.9 44.1h1.9v1.9h-1.9zM720.9 57.6h1.9v1.9h-1.9zM714.2 45.6h1.9v1.9h-1.9zM735.1 45.2h1.9v1.9h-1.9zM702.5 47.5h1.9v1.9h-1.9zM742.3 35.9h1.9v1.9h-1.9zM706.5 41.6h1.9v1.9h-1.9zM726.6 57.6h1.9v1.9h-1.9zM740.6 27.7h1.9v1.9h-1.9zM745.1 12.6h1.9v1.9h-1.9zM725.2 36.5h1.9v1.9h-1.9zM727.6 57.2h1.9v1.9h-1.9zM713.3 54.4h1.9v1.9h-1.9zM716.1 59.4h1.9v1.9h-1.9zM709.9 37.0h1.9v1.9h-1.9zM733.2 46.5h1.9v1.9h-1.9zM742.2 31.8h1.9v1.9h-1.9zM723.7 52.5h1.9v1.9h-1.9zM718.1 58.0h1.9v1.9h-1.9zM732.1 34.9h1.9v1.9h-1.9zM733.2 47.3h1.9v1.9h-1.9zM733.7 48.9h1.9v1.9h-1.9zM744.3 15.7h1.9v1.9h-1.9zM706.5 42.1h1.9v1.9h-1.9zM740.0 43.6h1.9v1.9h-1.9zM728.9 52.4h1.9v1.9h-1.9zM707.2 45.8h1.9v1.9h-1.9zM729.1 31.2h1.9v1.9h-1.9zM740.2 31.9h1.9v1.9h-1.9zM740.2 19.7h1.9v1.9h-1.9zM712.4 36.0h1.9v1.9h-1.9zM709.0 55.1h1.9v1.9h-1.9zM707.9 46.4h1.9v1.9h-1.9zM718.9 41.0h1.9v1.9h-1.9z" fill="#eb695f"/>
<path d="M704.9 127.6h1.9v1.9h-1.9zM700.9 121.0h1.9v1.9h-1.9zM710.1 121.7h1.9v1.9h-1.9zM715.9 119.6h1.9v1.9h-1.9zM712.0 109.6h1.9v1.9h-1.9zM711.3 107.9h1.9v1.9h-1.9zM713.9 127.3h1.9v1.9h-1.9zM716.6 127.0h1.9v1.9h-1.9zM728.0 128.8h1.9v1.9h-1.9zM708.4 126.0h1.9v1.9h-1.9zM718.6 112.5h1.9v1.9h-1.9zM727.6 126.4h1.9v1.9h-1.9zM717.9 113.2h1.9v1.9h-1.9zM704.1 114.0h1.9v1.9h-1.9zM718.3 122.6h1.9v1.9h-1.9zM726.5 118.0h1.9v1.9h-1.9zM728.0 104.6h1.9v1.9h-1.9zM727.4 112.0h1.9v1.9h-1.9zM720.7 117.3h1.9v1.9h-1.9zM724.0 113.3h1.9v1.9h-1.9zM704.7 124.5h1.9v1.9h-1.9zM720.5 111.2h1.9v1.9h-1.9zM726.0 125.3h1.9v1.9h-1.9zM717.7 124.1h1.9v1.9h-1.9zM714.4 103.5h1.9v1.9h-1.9zM706.8 100.0h1.9v1.9h-1.9zM699.8 112.5h1.9v1.9h-1.9zM712.1 130.9h1.9v1.9h-1.9zM726.9 124.3h1.9v1.9h-1.9zM718.3 127.5h1.9v1.9h-1.9zM714.2 110.8h1.9v1.9h-1.9zM707.9 108.9h1.9v1.9h-1.9zM720.0 110.5h1.9v1.9h-1.9zM710.1 113.6h1.9v1.9h-1.9zM719.2 114.3h1.9v1.9h-1.9zM703.0 113.2h1.9v1.9h-1.9zM726.8 114.9h1.9v1.9h-1.9zM707.3 106.9h1.9v1.9h-1.9zM731.2 115.7h1.9v1.9h-1.9zM704.0 108.8h1.9v1.9h-1.9zM729.1 108.4h1.9v1.9h-1.9zM722.9 117.1h1.9v1.9h-1.9zM716.0 117.0h1.9v1.9h-1.9zM709.2 114.9h1.9v1.9h-1.9zM711.8 134.8h1.9v1.9h-1.9zM719.9 101.6h1.9v1.9h-1.9zM708.3 132.0h1.9v1.9h-1.9zM721.0 129.3h1.9v1.9h-1.9zM704.1 116.7h1.9v1.9h-1.9zM718.3 106.2h1.9v1.9h-1.9zM720.1 128.8h1.9v1.9h-1.9zM716.7 113.2h1.9v1.9h-1.9zM710.5 119.8h1.9v1.9h-1.9zM710.0 136.2h1.9v1.9h-1.9zM714.0 138.8h1.9v1.9h-1.9zM706.5 115.8h1.9v1.9h-1.9zM703.0 137.0h1.9v1.9h-1.9zM716.6 116.7h1.9v1.9h-1.9zM701.2 125.1h1.9v1.9h-1.9zM700.8 115.0h1.9v1.9h-1.9zM709.7 135.7h1.9v1.9h-1.9zM717.1 119.4h1.9v1.9h-1.9zM711.7 122.1h1.9v1.9h-1.9zM709.3 122.2h1.9v1.9h-1.9zM724.5 127.9h1.9v1.9h-1.9zM718.3 110.4h1.9v1.9h-1.9zM703.4 118.4h1.9v1.9h-1.9zM719.5 111.8h1.9v1.9h-1.9zM713.6 131.0h1.9v1.9h-1.9zM719.3 108.4h1.9v1.9h-1.9zM702.9 132.6h1.9v1.9h-1.9zM726.1 129.6h1.9v1.9h-1.9zM725.7 110.5h1.9v1.9h-1.9zM706.7 95.2h1.9v1.9h-1.9zM725.4 124.3h1.9v1.9h-1.9zM723.3 113.1h1.9v1.9h-1.9zM716.8 104.8h1.9v1.9h-1.9zM710.6 111.4h1.9v1.9h-1.9zM722.5 123.4h1.9v1.9h-1.9zM704.0 107.1h1.9v1.9h-1.9zM717.4 127.8h1.9v1.9h-1.9zM723.0 111.8h1.9v1.9h-1.9zM701.1 127.1h1.9v1.9h-1.9zM703.5 94.2h1.9v1.9h-1.9zM727.2 131.4h1.9v1.9h-1.9zM700.1 107.2h1.9v1.9h-1.9zM725.6 105.9h1.9v1.9h-1.9zM724.8 105.3h1.9v1.9h-1.9zM722.3 120.0h1.9v1.9h-1.9zM706.3 132.9h1.9v1.9h-1.9zM720.4 94.3h1.9v1.9h-1.9zM706.0 100.9h1.9v1.9h-1.9zM715.8 131.4h1.9v1.9h-1.9zM710.4 113.2h1.9v1.9h-1.9zM721.6 122.5h1.9v1.9h-1.9zM726.1 127.0h1.9v1.9h-1.9zM727.5 126.7h1.9v1.9h-1.9zM727.5 117.9h1.9v1.9h-1.9zM707.9 108.4h1.9v1.9h-1.9zM705.4 111.4h1.9v1.9h-1.9zM711.3 117.6h1.9v1.9h-1.9zM704.5 102.5h1.9v1.9h-1.9zM707.5 110.8h1.9v1.9h-1.9zM730.5 124.6h1.9v1.9h-1.9zM718.2 130.0h1.9v1.9h-1.9zM700.4 109.5h1.9v1.9h-1.9zM727.9 121.2h1.9v1.9h-1.9zM702.0 108.5h1.9v1.9h-1.9zM725.1 138.8h1.9v1.9h-1.9zM713.8 113.5h1.9v1.9h-1.9zM701.1 97.0h1.9v1.9h-1.9zM703.9 108.2h1.9v1.9h-1.9zM715.0 124.1h1.9v1.9h-1.9zM711.8 119.5h1.9v1.9h-1.9zM706.9 108.4h1.9v1.9h-1.9zM704.7 115.8h1.9v1.9h-1.9zM710.4 117.1h1.9v1.9h-1.9zM720.1 111.2h1.9v1.9h-1.9zM709.6 114.6h1.9v1.9h-1.9zM727.3 117.8h1.9v1.9h-1.9zM716.7 138.1h1.9v1.9h-1.9zM702.4 124.4h1.9v1.9h-1.9zM710.4 122.1h1.9v1.9h-1.9zM719.6 114.3h1.9v1.9h-1.9zM701.8 106.9h1.9v1.9h-1.9zM727.0 117.3h1.9v1.9h-1.9zM710.0 114.9h1.9v1.9h-1.9zM723.5 114.9h1.9v1.9h-1.9zM723.3 98.9h1.9v1.9h-1.9zM734.6 118.1h1.9v1.9h-1.9zM703.9 139.2h1.9v1.9h-1.9zM725.9 112.6h1.9v1.9h-1.9zM724.7 115.5h1.9v1.9h-1.9zM723.7 97.2h1.9v1.9h-1.9zM716.4 117.6h1.9v1.9h-1.9zM712.1 116.4h1.9v1.9h-1.9zM729.2 128.2h1.9v1.9h-1.9zM714.1 129.8h1.9v1.9h-1.9zM713.7 130.7h1.9v1.9h-1.9zM717.4 105.7h1.9v1.9h-1.9zM708.0 124.1h1.9v1.9h-1.9zM716.8 122.5h1.9v1.9h-1.9zM714.6 126.3h1.9v1.9h-1.9zM732.1 116.6h1.9v1.9h-1.9zM718.6 119.4h1.9v1.9h-1.9zM702.1 122.0h1.9v1.9h-1.9zM713.2 112.5h1.9v1.9h-1.9zM713.1 118.6h1.9v1.9h-1.9zM727.3 125.5h1.9v1.9h-1.9zM701.1 112.8h1.9v1.9h-1.9zM728.3 123.2h1.9v1.9h-1.9zM709.7 122.5h1.9v1.9h-1.9zM713.5 110.5h1.9v1.9h-1.9zM706.9 111.5h1.9v1.9h-1.9zM704.8 130.9h1.9v1.9h-1.9zM728.4 120.2h1.9v1.9h-1.9zM726.1 122.0h1.9v1.9h-1.9zM717.8 109.8h1.9v1.9h-1.9zM710.9 119.7h1.9v1.9h-1.9zM727.9 124.6h1.9v1.9h-1.9zM713.1 136.1h1.9v1.9h-1.9zM703.3 112.4h1.9v1.9h-1.9zM711.9 116.7h1.9v1.9h-1.9zM727.6 109.8h1.9v1.9h-1.9zM723.9 131.0h1.9v1.9h-1.9zM727.0 130.8h1.9v1.9h-1.9z" fill="#c34187"/>
<path d="M754.1 245.5h1.9v1.9h-1.9zM727.3 241.0h1.9v1.9h-1.9zM736.7 254.5h1.9v1.9h-1.9zM722.8 231.6h1.9v1.9h-1.9zM709.5 230.7h1.9v1.9h-1.9zM718.5 223.4h1.9v1.9h-1.9zM755.0 263.5h1.9v1.9h-1.9zM739.1 270.0h1.9v1.9h-1.9zM738.9 260.9h1.9v1.9h-1.9zM716.5 227.1h1.9v1.9h-1.9zM703.3 244.7h1.9v1.9h-1.9zM726.6 252.7h1.9v1.9h-1.9zM719.9 223.0h1.9v1.9h-1.9zM714.7 240.5h1.9v1.9h-1.9zM734.6 236.8h1.9v1.9h-1.9zM736.9 257.5h1.9v1.9h-1.9zM721.9 234.5h1.9v1.9h-1.9zM751.1 244.4h1.9v1.9h-1.9zM720.3 216.4h1.9v1.9h-1.9zM753.5 240.1h1.9v1.9h-1.9zM744.3 260.9h1.9v1.9h-1.9zM750.1 247.5h1.9v1.9h-1.9zM723.8 229.8h1.9v1.9h-1.9zM728.7 233.0h1.9v1.9h-1.9zM752.5 263.7h1.9v1.9h-1.9zM734.4 254.9h1.9v1.9h-1.9zM712.0 221.7h1.9v1.9h-1.9zM702.7 232.3h1.9v1.9h-1.9zM714.0 234.6h1.9v1.9h-1.9zM748.3 239.0h1.9v1.9h-1.9zM740.4 249.6h1.9v1.9h-1.9zM746.3 251.4h1.9v1.9h-1.9zM716.0 233.8h1.9v1.9h-1.9zM754.6 253.8h1.9v1.9h-1.9zM721.9 216.9h1.9v1.9h-1.9zM721.5 239.0h1.9v1.9h-1.9zM754.8 252.2h1.9v1.9h-1.9zM751.9 268.5h1.9v1.9h-1.9zM741.3 240.0h1.9v1.9h-1.9zM743.9 265.6h1.9v1.9h-1.9zM725.7 228.5h1.9v1.9h-1.9zM723.6 234.8h1.9v1.9h-1.9zM700.9 226.5h1.9v1.9h-1.9zM702.2 234.4h1.9v1.9h-1.9zM756.2 251.6h1.9v1.9h-1.9zM726.8 232.7h1.9v1.9h-1.9zM748.6 270.0h1.9v1.9h-1.9zM706.0 229.8h1.9v1.9h-1.9zM731.7 237.3h1.9v1.9h-1.9zM706.0 225.6h1.9v1.9h-1.9zM732.9 246.9h1.9v1.9h-1.9zM729.6 233.7h1.9v1.9h-1.9zM751.7 236.8h1.9v1.9h-1.9zM735.4 223.8h1.9v1.9h-1.9zM716.8 240.9h1.9v1.9h-1.9zM702.5 212.7h1.9v1.9h-1.9zM747.0 241.6h1.9v1.9h-1.9zM755.0 262.4h1.9v1.9h-1.9zM732.8 241.0h1.9v1.9h-1.9zM735.1 235.2h1.9v1.9h-1.9zM717.2 247.2h1.9v1.9h-1.9zM739.5 267.3h1.9v1.9h-1.9zM703.3 235.6h1.9v1.9h-1.9zM726.4 225.6h1.9v1.9h-1.9zM754.3 258.6h1.9v1.9h-1.9zM739.1 256.8h1.9v1.9h-1.9zM740.9 242.7h1.9v1.9h-1.9zM744.9 268.9h1.9v1.9h-1.9zM716.2 215.0h1.9v1.9h-1.9zM741.2 268.5h1.9v1.9h-1.9zM709.9 227.1h1.9v1.9h-1.9zM738.7 242.5h1.9v1.9h-1.9zM710.4 225.1h1.9v1.9h-1.9zM750.4 260.3h1.9v1.9h-1.9zM749.0 257.6h1.9v1.9h-1.9zM740.1 255.0h1.9v1.9h-1.9zM700.4 234.2h1.9v1.9h-1.9zM708.4 223.1h1.9v1.9h-1.9zM727.8 245.8h1.9v1.9h-1.9zM749.7 250.9h1.9v1.9h-1.9zM732.4 251.8h1.9v1.9h-1.9zM731.9 246.1h1.9v1.9h-1.9zM713.3 239.8h1.9v1.9h-1.9zM726.4 237.2h1.9v1.9h-1.9zM723.4 235.1h1.9v1.9h-1.9zM699.5 228.5h1.9v1.9h-1.9zM748.0 252.7h1.9v1.9h-1.9zM735.3 249.6h1.9v1.9h-1.9zM748.1 266.8h1.9v1.9h-1.9zM740.2 267.2h1.9v1.9h-1.9zM714.0 226.1h1.9v1.9h-1.9zM718.2 243.2h1.9v1.9h-1.9zM703.1 227.3h1.9v1.9h-1.9zM749.2 260.7h1.9v1.9h-1.9zM735.0 244.7h1.9v1.9h-1.9zM743.2 264.4h1.9v1.9h-1.9zM727.5 218.1h1.9v1.9h-1.9zM756.2 252.7h1.9v1.9h-1.9zM717.3 242.2h1.9v1.9h-1.9zM730.5 256.9h1.9v1.9h-1.9zM717.2 239.3h1.9v1.9h-1.9zM728.4 243.6h1.9v1.9h-1.9zM735.3 260.4h1.9v1.9h-1.9zM735.7 257.7h1.9v1.9h-1.9zM741.1 267.7h1.9v1.9h-1.9zM726.1 247.4h1.9v1.9h-1.9zM701.5 226.7h1.9v1.9h-1.9zM750.3 236.0h1.9v1.9h-1.9zM722.4 234.7h1.9v1.9h-1.9zM731.1 245.8h1.9v1.9h-1.9zM738.1 261.7h1.9v1.9h-1.9zM747.6 233.0h1.9v1.9h-1.9zM721.2 234.6h1.9v1.9h-1.9zM717.9 243.2h1.9v1.9h-1.9zM703.8 236.3h1.9v1.9h-1.9zM720.7 237.9h1.9v1.9h-1.9zM733.5 250.5h1.9v1.9h-1.9zM716.0 240.0h1.9v1.9h-1.9zM730.0 236.1h1.9v1.9h-1.9zM720.6 241.8h1.9v1.9h-1.9zM732.7 231.0h1.9v1.9h-1.9zM739.9 242.6h1.9v1.9h-1.9zM732.2 234.1h1.9v1.9h-1.9zM726.6 207.6h1.9v1.9h-1.9zM720.9 239.8h1.9v1.9h-1.9zM744.5 226.9h1.9v1.9h-1.9zM746.0 246.6h1.9v1.9h-1.9zM751.5 267.0h1.9v1.9h-1.9zM746.4 260.2h1.9v1.9h-1.9zM734.8 258.4h1.9v1.9h-1.9zM714.6 227.8h1.9v1.9h-1.9zM726.6 226.3h1.9v1.9h-1.9zM736.7 238.9h1.9v1.9h-1.9zM752.5 243.9h1.9v1.9h-1.9zM735.9 259.5h1.9v1.9h-1.9zM750.6 262.4h1.9v1.9h-1.9zM730.3 238.2h1.9v1.9h-1.9zM756.6 259.0h1.9v1.9h-1.9zM756.0 254.1h1.9v1.9h-1.9zM705.1 228.8h1.9v1.9h-1.9zM720.2 230.3h1.9v1.9h-1.9zM706.9 229.2h1.9v1.9h-1.9zM735.3 233.8h1.9v1.9h-1.9zM753.2 264.6h1.9v1.9h-1.9zM754.7 247.7h1.9v1.9h-1.9zM709.6 230.2h1.9v1.9h-1.9zM713.2 232.8h1.9v1.9h-1.9zM718.7 233.6h1.9v1.9h-1.9zM734.9 244.0h1.9v1.9h-1.9zM746.2 265.2h1.9v1.9h-1.9zM748.2 221.9h1.9v1.9h-1.9zM736.9 243.4h1.9v1.9h-1.9zM703.1 230.9h1.9v1.9h-1.9zM719.9 237.3h1.9v1.9h-1.9zM704.7 237.8h1.9v1.9h-1.9zM732.8 231.8h1.9v1.9h-1.9zM742.3 247.8h1.9v1.9h-1.9zM742.3 265.2h1.9v1.9h-1.9zM729.2 232.8h1.9v1.9h-1.9zM748.9 247.6h1.9v1.9h-1.9zM720.4 226.9h1.9v1.9h-1.9zM738.9 239.2h1.9v1.9h-1.9zM749.2 245.2h1.9v1.9h-1.9zM729.0 244.9h1.9v1.9h-1.9zM752.3 255.7h1.9v1.9h-1.9zM699.8 228.5h1.9v1.9h-1.9zM737.4 243.9h1.9v1.9h-1.9zM739.3 234.1h1.9v1.9h-1.9zM707.0 219.0h1.9v1.9h-1.9zM735.2 233.6h1.9v1.9h-1.9zM754.3 242.4h1.9v1.9h-1.9zM716.4 245.6h1.9v1.9h-1.9zM735.1 243.5h1.9v1.9h-1.9zM724.0 225.1h1.9v1.9h-1.9zM732.6 253.3h1.9v1.9h-1.9zM743.7 242.2h1.9v1.9h-1.9zM735.5 245.0h1.9v1.9h-1.9zM704.1 234.2h1.9v1.9h-1.9zM730.8 247.6h1.9v1.9h-1.9zM702.9 217.1h1.9v1.9h-1.9zM723.0 238.6h1.9v1.9h-1.9zM739.0 242.5h1.9v1.9h-1.9zM736.7 238.4h1.9v1.9h-1.9zM744.7 271.3h1.9v1.9h-1.9zM737.7 265.0h1.9v1.9h-1.9zM723.4 236.2h1.9v1.9h-1.9zM738.1 236.9h1.9v1.9h-1.9zM716.9 245.2h1.9v1.9h-1.9zM731.3 221.9h1.9v1.9h-1.9zM753.4 254.2h1.9v1.9h-1.9zM721.7 250.0h1.9v1.9h-1.9zM720.9 240.3h1.9v1.9h-1.9zM709.9 224.9h1.9v1.9h-1.9zM711.1 227.4h1.9v1.9h-1.9zM735.9 260.1h1.9v1.9h-1.9zM748.9 259.1h1.9v1.9h-1.9zM737.4 257.2h1.9v1.9h-1.9zM718.7 240.7h1.9v1.9h-1.9zM747.8 222.4h1.9v1.9h-1.9zM705.1 235.1h1.9v1.9h-1.9zM756.0 254.3h1.9v1.9h-1.9zM737.1 216.0h1.9v1.9h-1.9zM724.8 239.1h1.9v1.9h-1.9zM708.4 221.5h1.9v1.9h-1.9zM744.6 263.3h1.9v1.9h-1.9zM748.4 263.1h1.9v1.9h-1.9zM701.5 220.1h1.9v1.9h-1.9zM727.7 246.3h1.9v1.9h-1.9zM733.2 250.1h1.9v1.9h-1.9zM722.1 232.9h1.9v1.9h-1.9zM737.3 236.9h1.9v1.9h-1.9zM734.0 245.3h1.9v1.9h-1.9zM743.0 255.6h1.9v1.9h-1.9zM720.8 231.7h1.9v1.9h-1.9zM747.9 240.0h1.9v1.9h-1.9zM728.4 235.7h1.9v1.9h-1.9zM728.6 248.2h1.9v1.9h-1.9zM716.3 233.2h1.9v1.9h-1.9zM710.8 234.7h1.9v1.9h-1.9zM751.4 221.7h1.9v1.9h-1.9zM736.9 234.5h1.9v1.9h-1.9zM751.7 249.4h1.9v1.9h-1.9zM750.5 237.0h1.9v1.9h-1.9zM723.1 242.4h1.9v1.9h-1.9zM744.3 253.1h1.9v1.9h-1.9zM715.0 225.6h1.9v1.9h-1.9zM737.3 236.9h1.9v1.9h-1.9zM716.9 210.6h1.9v1.9h-1.9zM756.2 242.6h1.9v1.9h-1.9zM748.7 262.2h1.9v1.9h-1.9zM713.4 218.1h1.9v1.9h-1.9zM755.1 235.3h1.9v1.9h-1.9zM731.1 256.5h1.9v1.9h-1.9zM745.7 264.7h1.9v1.9h-1.9zM726.9 245.0h1.9v1.9h-1.9zM738.0 245.7h1.9v1.9h-1.9zM720.9 222.6h1.9v1.9h-1.9zM743.8 264.3h1.9v1.9h-1.9zM737.1 248.4h1.9v1.9h-1.9zM713.9 226.5h1.9v1.9h-1.9zM709.3 232.3h1.9v1.9h-1.9zM738.2 237.6h1.9v1.9h-1.9zM741.8 260.3h1.9v1.9h-1.9zM736.9 244.6h1.9v1.9h-1.9zM747.8 229.4h1.9v1.9h-1.9zM752.0 257.2h1.9v1.9h-1.9zM751.3 252.0h1.9v1.9h-1.9zM704.7 223.0h1.9v1.9h-1.9zM750.1 237.3h1.9v1.9h-1.9zM739.2 257.0h1.9v1.9h-1.9zM736.6 220.5h1.9v1.9h-1.9zM725.0 247.5h1.9v1.9h-1.9zM751.5 247.5h1.9v1.9h-1.9zM729.7 231.3h1.9v1.9h-1.9zM722.1 227.4h1.9v1.9h-1.9zM700.6 230.9h1.9v1.9h-1.9zM724.5 226.1h1.9v1.9h-1.9zM748.5 250.8h1.9v1.9h-1.9zM739.3 247.1h1.9v1.9h-1.9zM714.4 237.4h1.9v1.9h-1.9zM705.3 228.6h1.9v1.9h-1.9zM723.2 224.8h1.9v1.9h-1.9zM734.2 252.4h1.9v1.9h-1.9zM739.3 259.8h1.9v1.9h-1.9zM734.2 262.7h1.9v1.9h-1.9zM736.4 240.8h1.9v1.9h-1.9zM741.5 251.9h1.9v1.9h-1.9zM731.9 246.5h1.9v1.9h-1.9zM747.6 257.8h1.9v1.9h-1.9zM699.3 231.6h1.9v1.9h-1.9zM721.5 239.5h1.9v1.9h-1.9zM754.1 247.4h1.9v1.9h-1.9zM733.0 238.0h1.9v1.9h-1.9zM749.0 247.6h1.9v1.9h-1.9zM717.5 230.2h1.9v1.9h-1.9zM701.7 209.7h1.9v1.9h-1.9zM707.0 215.6h1.9v1.9h-1.9zM714.9 233.1h1.9v1.9h-1.9zM751.7 261.9h1.9v1.9h-1.9zM708.1 224.4h1.9v1.9h-1.9zM715.3 237.0h1.9v1.9h-1.9z" fill="#7d2da5"/>
<path d="M736.7 307.4h1.9v1.9h-1.9zM733.7 306.8h1.9v1.9h-1.9zM734.7 303.8h1.9v1.9h-1.9zM736.8 296.8h1.9v1.9h-1.9zM739.0 312.9h1.9v1.9h-1.9zM731.5 289.7h1.9v1.9h-1.9zM715.3 270.5h1.9v1.9h-1.9zM722.1 285.6h1.9v1.9h-1.9zM705.8 262.2h1.9v1.9h-1.9zM736.3 293.2h1.9v1.9h-1.9zM697.3 257.4h1.9v1.9h-1.9zM733.6 292.3h1.9v1.9h-1.9zM734.9 314.0h1.9v1.9h-1.9zM738.0 307.0h1.9v1.9h-1.9zM732.4 305.7h1.9v1.9h-1.9zM726.6 280.8h1.9v1.9h-1.9zM735.6 313.3h1.9v1.9h-1.9zM716.2 275.3h1.9v1.9h-1.9zM713.1 265.7h1.9v1.9h-1.9zM718.2 270.6h1.9v1.9h-1.9zM739.1 309.4h1.9v1.9h-1.9zM730.9 310.9h1.9v1.9h-1.9zM726.9 284.3h1.9v1.9h-1.9zM737.1 315.8h1.9v1.9h-1.9zM723.7 282.4h1.9v1.9h-1.9zM721.7 281.6h1.9v1.9h-1.9zM734.0 301.3h1.9v1.9h-1.9zM743.4 292.2h1.9v1.9h-1.9zM735.5 295.8h1.9v1.9h-1.9zM721.5 273.4h1.9v1.9h-1.9zM727.2 287.1h1.9v1.9h-1.9zM714.6 259.2h1.9v1.9h-1.9zM709.4 255.3h1.9v1.9h-1.9zM723.4 282.3h1.9v1.9h-1.9zM715.5 269.2h1.9v1.9h-1.9zM738.1 307.7h1.9v1.9h-1.9zM717.6 266.7h1.9v1.9h-1.9zM716.1 264.6h1.9v1.9h-1.9zM709.1 261.7h1.9v1.9h-1.9zM738.7 310.6h1.9v1.9h-1.9zM718.9 276.4h1.9v1.9h-1.9zM710.0 264.7h1.9v1.9h-1.9zM725.1 274.7h1.9v1.9h-1.9zM736.9 298.3h1.9v1.9h-1.9zM725.2 277.8h1.9v1.9h-1.9zM709.8 264.2h1.9v1.9h-1.9zM736.0 315.9h1.9v1.9h-1.9zM731.5 289.3h1.9v1.9h-1.9zM733.9 299.2h1.9v1.9h-1.9zM736.8 313.6h1.9v1.9h-1.9z" fill="#4b2da5"/>
<path d="M740.9 76.2h1.9v1.9h-1.9zM757.2 41.7h1.9v1.9h-1.9zM732.0 54.8h1.9v1.9h-1.9zM742.6 47.3h1.9v1.9h-1.9zM747.2 94.7h1.9v1.9h-1.9zM756.3 30.2h1.9v1.9h-1.9zM739.5 58.8h1.9v1.9h-1.9zM744.9 96.1h1.9v1.9h-1.9zM734.6 66.8h1.9v1.9h-1.9zM750.1 34.0h1.9v1.9h-1.9zM729.5 57.9h1.9v1.9h-1.9zM753.3 25.9h1.9v1.9h-1.9zM741.5 84.2h1.9v1.9h-1.9zM733.5 66.0h1.9v1.9h-1.9zM750.1 35.4h1.9v1.9h-1.9zM738.3 57.0h1.9v1.9h-1.9zM749.7 41.1h1.9v1.9h-1.9zM727.1 69.9h1.9v1.9h-1.9zM734.6 67.5h1.9v1.9h-1.9zM741.3 45.0h1.9v1.9h-1.9zM749.2 72.5h1.9v1.9h-1.9zM757.7 42.7h1.9v1.9h-1.9zM747.0 21.0h1.9v1.9h-1.9zM755.2 48.3h1.9v1.9h-1.9zM745.8 89.0h1.9v1.9h-1.9zM747.3 49.6h1.9v1.9h-1.9zM745.3 28.7h1.9v1.9h-1.9zM745.4 98.7h1.9v1.9h-1.9zM745.6 83.3h1.9v1.9h-1.9zM749.1 83.7h1.9v1.9h-1.9zM745.4 93.4h1.9v1.9h-1.9zM744.2 70.3h1.9v1.9h-1.9zM741.1 44.7h1.9v1.9h-1.9zM754.1 52.1h1.9v1.9h-1.9zM749.9 51.4h1.9v1.9h-1.9zM750.8 42.8h1.9v1.9h-1.9zM751.2 39.8h1.9v1.9h-1.9zM740.5 78.3h1.9v1.9h-1.9zM742.7 56.0h1.9v1.9h-1.9zM738.2 84.5h1.9v1.9h-1.9zM741.5 42.9h1.9v1.9h-1.9zM740.4 88.2h1.9v1.9h-1.9zM745.3 59.1h1.9v1.9h-1.9zM749.5 47.0h1.9v1.9h-1.9zM751.9 40.2h1.9v1.9h-1.9zM737.2 94.7h1.9v1.9h-1.9zM751.4 133.9h1.9v1.9h-1.9zM1005.3 252.9h1.9v1.9h-1.9zM1024.5 222.4h1.9v1.9h-1.9zM1006.9 232.6h1.9v1.9h-1.9zM1025.5 221.7h1.9v1.9h-1.9zM1011.9 237.6h1.9v1.9h-1.9zM1020.4 232.9h1.9v1.9h-1.9zM1006.2 252.4h1.9v1.9h-1.9zM1012.9 253.0h1.9v1.9h-1.9zM1029.7 220.9h1.9v1.9h-1.9zM1028.6 222.3h1.9v1.9h-1.9zM1004.3 238.5h1.9v1.9h-1.9zM1021.8 205.2h1.9v1.9h-1.9zM1017.6 244.1h1.9v1.9h-1.9zM1008.3 234.8h1.9v1.9h-1.9zM1022.2 220.9h1.9v1.9h-1.9zM1022.5 211.3h1.9v1.9h-1.9zM1003.8 231.2h1.9v1.9h-1.9zM1013.4 235.0h1.9v1.9h-1.9zM1022.1 212.7h1.9v1.9h-1.9zM1014.0 233.4h1.9v1.9h-1.9z" fill="#eb9b41"/>
<path d="M725.3 298.1h1.9v1.9h-1.9zM717.0 281.2h1.9v1.9h-1.9zM713.3 271.8h1.9v1.9h-1.9zM724.7 302.2h1.9v1.9h-1.9zM731.6 317.2h1.9v1.9h-1.9zM726.6 311.2h1.9v1.9h-1.9zM722.1 308.4h1.9v1.9h-1.9zM721.7 289.8h1.9v1.9h-1.9zM734.2 314.4h1.9v1.9h-1.9zM721.4 303.9h1.9v1.9h-1.9zM726.2 311.6h1.9v1.9h-1.9zM703.6 265.1h1.9v1.9h-1.9zM735.3 320.4h1.9v1.9h-1.9zM724.3 314.4h1.9v1.9h-1.9zM735.8 319.9h1.9v1.9h-1.9zM709.5 270.1h1.9v1.9h-1.9zM731.2 304.7h1.9v1.9h-1.9zM710.5 279.4h1.9v1.9h-1.9zM724.2 303.5h1.9v1.9h-1.9zM698.8 264.6h1.9v1.9h-1.9zM697.1 263.6h1.9v1.9h-1.9zM715.7 283.9h1.9v1.9h-1.9zM726.2 308.1h1.9v1.9h-1.9zM729.2 316.0h1.9v1.9h-1.9zM698.2 259.5h1.9v1.9h-1.9zM735.1 322.5h1.9v1.9h-1.9zM705.8 270.1h1.9v1.9h-1.9zM726.0 316.6h1.9v1.9h-1.9zM717.2 292.0h1.9v1.9h-1.9zM708.0 269.5h1.9v1.9h-1.9zM719.9 320.7h1.9v1.9h-1.9zM734.0 322.2h1.9v1.9h-1.9zM735.5 313.7h1.9v1.9h-1.9zM719.8 283.9h1.9v1.9h-1.9zM731.7 310.9h1.9v1.9h-1.9zM698.2 268.5h1.9v1.9h-1.9zM701.7 268.3h1.9v1.9h-1.9zM736.6 318.7h1.9v1.9h-1.9zM710.3 268.8h1.9v1.9h-1.9zM732.2 327.6h1.9v1.9h-1.9zM707.4 265.9h1.9v1.9h-1.9zM704.3 264.1h1.9v1.9h-1.9zM724.2 309.5h1.9v1.9h-1.9zM714.5 294.2h1.9v1.9h-1.9zM726.0 310.1h1.9v1.9h-1.9zM718.8 303.7h1.9v1.9h-1.9zM724.2 292.9h1.9v1.9h-1.9zM727.0 309.1h1.9v1.9h-1.9zM714.3 275.0h1.9v1.9h-1.9zM719.6 302.1h1.9v1.9h-1.9zM724.3 288.9h1.9v1.9h-1.9zM709.5 274.0h1.9v1.9h-1.9zM729.2 320.6h1.9v1.9h-1.9zM734.9 325.1h1.9v1.9h-1.9zM718.0 303.9h1.9v1.9h-1.9zM706.5 278.7h1.9v1.9h-1.9zM720.5 302.6h1.9v1.9h-1.9zM725.6 297.4h1.9v1.9h-1.9zM725.8 285.0h1.9v1.9h-1.9zM700.4 261.6h1.9v1.9h-1.9zM706.6 281.8h1.9v1.9h-1.9zM725.6 307.0h1.9v1.9h-1.9zM730.7 319.6h1.9v1.9h-1.9zM705.2 270.2h1.9v1.9h-1.9zM717.3 291.6h1.9v1.9h-1.9zM719.4 286.4h1.9v1.9h-1.9zM734.4 317.5h1.9v1.9h-1.9zM726.6 301.4h1.9v1.9h-1.9z" fill="#372d9b"/>
<path d="M743.8 52.8h1.9v1.9h-1.9zM749.2 82.4h1.9v1.9h-1.9zM748.0 30.7h1.9v1.9h-1.9zM729.4 62.6h1.9v1.9h-1.9zM738.6 31.8h1.9v1.9h-1.9zM747.2 61.8h1.9v1.9h-1.9zM732.6 87.0h1.9v1.9h-1.9zM737.3 12.8h1.9v1.9h-1.9zM742.7 81.1h1.9v1.9h-1.9zM744.7 40.3h1.9v1.9h-1.9zM750.9 61.6h1.9v1.9h-1.9zM745.9 45.5h1.9v1.9h-1.9zM724.9 17.6h1.9v1.9h-1.9zM741.5 126.8h1.9v1.9h-1.9zM732.0 58.7h1.9v1.9h-1.9zM734.5 54.9h1.9v1.9h-1.9zM748.4 16.6h1.9v1.9h-1.9zM746.4 84.0h1.9v1.9h-1.9zM754.0 50.9h1.9v1.9h-1.9zM730.8 20.3h1.9v1.9h-1.9zM739.4 71.2h1.9v1.9h-1.9zM728.5 88.3h1.9v1.9h-1.9zM733.8 85.8h1.9v1.9h-1.9zM730.5 81.7h1.9v1.9h-1.9zM731.4 92.1h1.9v1.9h-1.9zM734.3 16.9h1.9v1.9h-1.9zM759.1 36.9h1.9v1.9h-1.9zM719.1 25.3h1.9v1.9h-1.9zM743.6 51.1h1.9v1.9h-1.9zM732.0 68.9h1.9v1.9h-1.9zM728.8 56.9h1.9v1.9h-1.9zM737.7 24.0h1.9v1.9h-1.9zM751.7 125.5h1.9v1.9h-1.9zM737.1 87.2h1.9v1.9h-1.9zM741.4 86.1h1.9v1.9h-1.9zM743.5 88.8h1.9v1.9h-1.9zM731.6 15.4h1.9v1.9h-1.9zM748.7 83.8h1.9v1.9h-1.9zM740.9 45.4h1.9v1.9h-1.9zM744.7 73.4h1.9v1.9h-1.9zM723.4 20.0h1.9v1.9h-1.9zM744.8 60.3h1.9v1.9h-1.9zM734.6 16.4h1.9v1.9h-1.9zM749.3 25.8h1.9v1.9h-1.9zM752.5 28.5h1.9v1.9h-1.9zM760.3 33.2h1.9v1.9h-1.9zM1004.0 265.9h1.9v1.9h-1.9zM997.8 272.6h1.9v1.9h-1.9zM1004.8 262.3h1.9v1.9h-1.9zM993.6 272.8h1.9v1.9h-1.9zM990.3 284.9h1.9v1.9h-1.9zM994.9 285.7h1.9v1.9h-1.9zM986.1 286.7h1.9v1.9h-1.9zM999.5 269.3h1.9v1.9h-1.9zM986.9 267.2h1.9v1.9h-1.9zM976.7 280.6h1.9v1.9h-1.9zM996.3 275.1h1.9v1.9h-1.9zM979.0 278.6h1.9v1.9h-1.9zM977.8 284.8h1.9v1.9h-1.9zM987.5 285.3h1.9v1.9h-1.9zM1010.3 260.1h1.9v1.9h-1.9zM995.2 260.2h1.9v1.9h-1.9zM988.2 275.9h1.9v1.9h-1.9zM984.6 268.5h1.9v1.9h-1.9zM986.6 269.7h1.9v1.9h-1.9zM1002.0 251.7h1.9v1.9h-1.9zM999.7 269.7h1.9v1.9h-1.9zM991.9 269.5h1.9v1.9h-1.9zM998.0 274.5h1.9v1.9h-1.9zM994.2 287.8h1.9v1.9h-1.9zM976.9 283.6h1.9v1.9h-1.9zM985.2 276.5h1.9v1.9h-1.9zM989.5 268.6h1.9v1.9h-1.9zM976.8 277.1h1.9v1.9h-1.9zM1002.5 258.8h1.9v1.9h-1.9zM1018.7 246.6h1.9v1.9h-1.9zM990.6 262.9h1.9v1.9h-1.9zM977.2 282.6h1.9v1.9h-1.9zM986.5 279.0h1.9v1.9h-1.9zM997.1 279.3h1.9v1.9h-1.9zM993.1 276.1h1.9v1.9h-1.9zM994.0 277.0h1.9v1.9h-1.9zM1004.2 255.6h1.9v1.9h-1.9zM986.5 275.8h1.9v1.9h-1.9zM994.9 279.5h1.9v1.9h-1.9zM994.9 261.3h1.9v1.9h-1.9zM990.7 260.9h1.9v1.9h-1.9zM995.8 272.9h1.9v1.9h-1.9zM987.4 286.5h1.9v1.9h-1.9zM993.3 264.2h1.9v1.9h-1.9zM999.0 268.0h1.9v1.9h-1.9zM994.5 272.1h1.9v1.9h-1.9zM993.7 265.6h1.9v1.9h-1.9zM1003.2 255.2h1.9v1.9h-1.9zM984.8 290.6h1.9v1.9h-1.9zM984.9 268.1h1.9v1.9h-1.9zM994.4 273.4h1.9v1.9h-1.9zM992.5 261.0h1.9v1.9h-1.9zM981.7 272.8h1.9v1.9h-1.9zM1002.6 249.8h1.9v1.9h-1.9zM1002.1 265.4h1.9v1.9h-1.9zM979.9 275.8h1.9v1.9h-1.9zM981.4 284.0h1.9v1.9h-1.9zM980.4 281.3h1.9v1.9h-1.9zM998.0 264.5h1.9v1.9h-1.9zM1007.8 252.4h1.9v1.9h-1.9zM1001.4 262.8h1.9v1.9h-1.9zM977.0 284.0h1.9v1.9h-1.9zM998.9 276.7h1.9v1.9h-1.9zM994.5 275.7h1.9v1.9h-1.9zM1002.1 265.0h1.9v1.9h-1.9zM1002.6 257.5h1.9v1.9h-1.9zM987.4 274.8h1.9v1.9h-1.9zM996.9 275.6h1.9v1.9h-1.9zM1002.1 256.9h1.9v1.9h-1.9zM975.3 284.6h1.9v1.9h-1.9zM977.3 278.5h1.9v1.9h-1.9zM1002.7 268.3h1.9v1.9h-1.9zM1011.6 254.0h1.9v1.9h-1.9zM1004.0 265.2h1.9v1.9h-1.9zM984.3 276.8h1.9v1.9h-1.9zM985.5 277.4h1.9v1.9h-1.9zM980.1 281.9h1.9v1.9h-1.9zM1007.7 254.5h1.9v1.9h-1.9zM977.3 280.5h1.9v1.9h-1.9zM1002.0 270.8h1.9v1.9h-1.9zM980.4 274.3h1.9v1.9h-1.9zM986.5 273.8h1.9v1.9h-1.9zM989.6 273.6h1.9v1.9h-1.9zM979.2 281.5h1.9v1.9h-1.9zM993.1 287.8h1.9v1.9h-1.9zM999.8 270.3h1.9v1.9h-1.9zM984.5 280.3h1.9v1.9h-1.9zM989.3 283.2h1.9v1.9h-1.9zM995.1 272.0h1.9v1.9h-1.9zM1012.7 245.6h1.9v1.9h-1.9zM993.1 281.9h1.9v1.9h-1.9zM998.5 261.5h1.9v1.9h-1.9zM989.9 277.6h1.9v1.9h-1.9zM978.9 282.3h1.9v1.9h-1.9zM994.8 257.2h1.9v1.9h-1.9zM1004.2 260.8h1.9v1.9h-1.9zM978.8 284.3h1.9v1.9h-1.9zM989.0 285.7h1.9v1.9h-1.9zM988.4 281.6h1.9v1.9h-1.9zM1006.5 262.1h1.9v1.9h-1.9zM986.8 286.2h1.9v1.9h-1.9zM1004.9 249.1h1.9v1.9h-1.9zM991.2 284.7h1.9v1.9h-1.9zM982.6 280.2h1.9v1.9h-1.9zM984.5 282.6h1.9v1.9h-1.9zM998.3 277.5h1.9v1.9h-1.9zM1000.3 265.4h1.9v1.9h-1.9zM980.3 283.4h1.9v1.9h-1.9zM986.5 275.2h1.9v1.9h-1.9zM990.3 281.5h1.9v1.9h-1.9zM983.9 288.3h1.9v1.9h-1.9zM987.7 286.2h1.9v1.9h-1.9zM985.3 275.2h1.9v1.9h-1.9zM990.2 270.5h1.9v1.9h-1.9zM995.0 259.1h1.9v1.9h-1.9zM981.3 284.5h1.9v1.9h-1.9zM981.2 279.4h1.9v1.9h-1.9zM998.1 256.2h1.9v1.9h-1.9zM1003.9 262.9h1.9v1.9h-1.9zM990.8 278.9h1.9v1.9h-1.9zM983.1 273.9h1.9v1.9h-1.9zM988.1 276.8h1.9v1.9h-1.9zM992.0 283.2h1.9v1.9h-1.9zM984.5 272.2h1.9v1.9h-1.9zM987.9 265.4h1.9v1.9h-1.9zM1000.1 256.4h1.9v1.9h-1.9zM995.8 260.1h1.9v1.9h-1.9zM998.0 273.9h1.9v1.9h-1.9zM984.4 279.1h1.9v1.9h-1.9zM1006.4 260.3h1.9v1.9h-1.9zM991.9 281.4h1.9v1.9h-1.9zM1004.9 260.1h1.9v1.9h-1.9zM1012.0 250.5h1.9v1.9h-1.9zM993.1 275.7h1.9v1.9h-1.9zM981.6 284.8h1.9v1.9h-1.9zM993.1 262.1h1.9v1.9h-1.9zM997.1 265.9h1.9v1.9h-1.9zM1000.2 274.3h1.9v1.9h-1.9zM996.6 277.3h1.9v1.9h-1.9zM976.4 283.3h1.9v1.9h-1.9zM994.8 285.4h1.9v1.9h-1.9zM988.5 267.3h1.9v1.9h-1.9zM982.4 280.6h1.9v1.9h-1.9zM994.4 255.9h1.9v1.9h-1.9zM980.6 278.4h1.9v1.9h-1.9zM989.6 265.0h1.9v1.9h-1.9zM984.1 270.3h1.9v1.9h-1.9z" fill="#eb874b"/>
<path d="M716.8 133.8h1.9v1.9h-1.9zM704.6 150.6h1.9v1.9h-1.9zM714.1 147.9h1.9v1.9h-1.9zM720.1 128.7h1.9v1.9h-1.9zM727.4 130.6h1.9v1.9h-1.9zM706.3 128.8h1.9v1.9h-1.9zM727.1 127.5h1.9v1.9h-1.9zM732.3 139.7h1.9v1.9h-1.9zM726.1 130.9h1.9v1.9h-1.9zM730.1 133.0h1.9v1.9h-1.9zM722.0 161.9h1.9v1.9h-1.9zM729.7 143.2h1.9v1.9h-1.9zM718.7 152.7h1.9v1.9h-1.9zM711.2 128.3h1.9v1.9h-1.9zM720.9 143.2h1.9v1.9h-1.9zM724.0 124.9h1.9v1.9h-1.9zM716.6 152.4h1.9v1.9h-1.9zM728.7 121.7h1.9v1.9h-1.9zM734.3 144.2h1.9v1.9h-1.9zM723.9 129.5h1.9v1.9h-1.9zM701.2 147.1h1.9v1.9h-1.9zM701.5 117.1h1.9v1.9h-1.9zM730.7 131.5h1.9v1.9h-1.9zM710.8 143.2h1.9v1.9h-1.9zM721.1 135.5h1.9v1.9h-1.9zM704.6 130.8h1.9v1.9h-1.9zM725.3 130.3h1.9v1.9h-1.9zM715.3 169.2h1.9v1.9h-1.9zM734.9 134.3h1.9v1.9h-1.9zM713.5 132.7h1.9v1.9h-1.9zM722.6 129.4h1.9v1.9h-1.9zM715.9 144.5h1.9v1.9h-1.9zM707.7 123.1h1.9v1.9h-1.9zM725.5 132.9h1.9v1.9h-1.9zM701.3 130.4h1.9v1.9h-1.9zM705.7 141.0h1.9v1.9h-1.9zM718.6 152.6h1.9v1.9h-1.9zM732.4 155.0h1.9v1.9h-1.9zM710.2 137.2h1.9v1.9h-1.9zM709.0 130.6h1.9v1.9h-1.9zM723.8 124.3h1.9v1.9h-1.9zM726.6 129.1h1.9v1.9h-1.9zM724.7 128.0h1.9v1.9h-1.9zM726.2 149.0h1.9v1.9h-1.9zM736.5 137.4h1.9v1.9h-1.9zM705.3 126.1h1.9v1.9h-1.9zM713.4 158.1h1.9v1.9h-1.9zM715.3 118.2h1.9v1.9h-1.9zM705.6 138.0h1.9v1.9h-1.9zM720.7 127.8h1.9v1.9h-1.9zM717.6 152.2h1.9v1.9h-1.9zM705.3 116.7h1.9v1.9h-1.9zM728.2 132.1h1.9v1.9h-1.9zM712.1 137.8h1.9v1.9h-1.9zM716.7 145.2h1.9v1.9h-1.9zM730.0 150.9h1.9v1.9h-1.9zM726.9 150.9h1.9v1.9h-1.9zM720.4 147.6h1.9v1.9h-1.9zM718.4 131.4h1.9v1.9h-1.9zM726.5 131.1h1.9v1.9h-1.9zM705.3 143.0h1.9v1.9h-1.9zM703.6 131.0h1.9v1.9h-1.9zM727.1 131.9h1.9v1.9h-1.9zM717.5 118.8h1.9v1.9h-1.9zM707.0 138.1h1.9v1.9h-1.9zM704.7 133.0h1.9v1.9h-1.9zM713.5 136.5h1.9v1.9h-1.9zM735.4 142.0h1.9v1.9h-1.9zM722.3 139.9h1.9v1.9h-1.9zM701.9 125.3h1.9v1.9h-1.9zM706.7 135.5h1.9v1.9h-1.9zM711.1 128.9h1.9v1.9h-1.9zM712.6 143.9h1.9v1.9h-1.9zM715.0 147.7h1.9v1.9h-1.9zM703.2 141.2h1.9v1.9h-1.9zM701.2 127.7h1.9v1.9h-1.9zM704.6 146.1h1.9v1.9h-1.9zM705.4 131.0h1.9v1.9h-1.9zM737.6 135.8h1.9v1.9h-1.9zM715.8 130.9h1.9v1.9h-1.9zM723.4 135.5h1.9v1.9h-1.9zM703.5 155.2h1.9v1.9h-1.9zM727.3 145.6h1.9v1.9h-1.9zM717.9 121.8h1.9v1.9h-1.9zM708.8 135.1h1.9v1.9h-1.9zM711.6 147.9h1.9v1.9h-1.9zM719.8 143.7h1.9v1.9h-1.9zM726.2 147.4h1.9v1.9h-1.9zM709.1 118.8h1.9v1.9h-1.9zM738.4 143.8h1.9v1.9h-1.9zM704.2 143.8h1.9v1.9h-1.9zM726.8 136.5h1.9v1.9h-1.9zM729.1 136.5h1.9v1.9h-1.9zM715.7 142.9h1.9v1.9h-1.9zM724.9 137.5h1.9v1.9h-1.9zM720.7 137.8h1.9v1.9h-1.9zM704.6 132.7h1.9v1.9h-1.9zM726.5 141.3h1.9v1.9h-1.9zM725.9 146.6h1.9v1.9h-1.9zM715.9 104.2h1.9v1.9h-1.9zM701.7 156.1h1.9v1.9h-1.9zM722.1 135.6h1.9v1.9h-1.9zM706.5 137.3h1.9v1.9h-1.9zM719.0 127.0h1.9v1.9h-1.9zM726.3 154.0h1.9v1.9h-1.9zM710.0 152.3h1.9v1.9h-1.9zM720.9 141.0h1.9v1.9h-1.9zM738.2 144.5h1.9v1.9h-1.9zM716.2 147.4h1.9v1.9h-1.9zM701.5 127.8h1.9v1.9h-1.9zM713.2 143.9h1.9v1.9h-1.9zM707.7 135.6h1.9v1.9h-1.9zM708.7 148.9h1.9v1.9h-1.9zM718.2 137.0h1.9v1.9h-1.9zM716.4 150.2h1.9v1.9h-1.9zM717.7 134.7h1.9v1.9h-1.9zM725.9 141.4h1.9v1.9h-1.9zM701.3 125.7h1.9v1.9h-1.9zM703.8 131.0h1.9v1.9h-1.9zM706.6 114.1h1.9v1.9h-1.9zM729.6 122.1h1.9v1.9h-1.9zM731.3 137.6h1.9v1.9h-1.9zM712.9 155.9h1.9v1.9h-1.9z" fill="#b93791"/>
<path d="M730.2 140.0h1.9v1.9h-1.9zM721.0 144.1h1.9v1.9h-1.9zM731.3 136.4h1.9v1.9h-1.9zM717.2 139.7h1.9v1.9h-1.9zM702.7 165.6h1.9v1.9h-1.9zM729.3 138.7h1.9v1.9h-1.9zM716.5 171.5h1.9v1.9h-1.9zM711.8 152.8h1.9v1.9h-1.9zM728.9 151.0h1.9v1.9h-1.9zM705.8 157.6h1.9v1.9h-1.9zM718.8 147.0h1.9v1.9h-1.9zM708.5 162.1h1.9v1.9h-1.9zM723.3 144.8h1.9v1.9h-1.9zM711.2 136.1h1.9v1.9h-1.9zM719.3 149.7h1.9v1.9h-1.9zM723.2 158.1h1.9v1.9h-1.9zM714.8 153.0h1.9v1.9h-1.9zM712.5 144.3h1.9v1.9h-1.9zM704.3 150.4h1.9v1.9h-1.9zM704.7 148.0h1.9v1.9h-1.9zM720.3 151.7h1.9v1.9h-1.9zM721.5 182.0h1.9v1.9h-1.9zM731.5 131.9h1.9v1.9h-1.9zM705.7 141.0h1.9v1.9h-1.9zM715.4 157.7h1.9v1.9h-1.9zM735.9 162.5h1.9v1.9h-1.9zM731.1 144.2h1.9v1.9h-1.9zM720.0 153.9h1.9v1.9h-1.9zM723.3 163.2h1.9v1.9h-1.9zM728.9 154.7h1.9v1.9h-1.9zM705.8 169.2h1.9v1.9h-1.9zM701.6 145.4h1.9v1.9h-1.9zM701.5 147.8h1.9v1.9h-1.9zM720.4 150.8h1.9v1.9h-1.9zM720.8 150.2h1.9v1.9h-1.9zM726.2 175.1h1.9v1.9h-1.9zM703.3 150.2h1.9v1.9h-1.9zM707.7 145.9h1.9v1.9h-1.9zM708.9 146.4h1.9v1.9h-1.9zM718.1 150.1h1.9v1.9h-1.9zM715.1 140.2h1.9v1.9h-1.9zM722.6 156.2h1.9v1.9h-1.9zM730.2 142.9h1.9v1.9h-1.9zM707.1 153.6h1.9v1.9h-1.9zM701.7 156.8h1.9v1.9h-1.9zM720.0 174.7h1.9v1.9h-1.9zM723.1 141.7h1.9v1.9h-1.9zM710.2 131.2h1.9v1.9h-1.9zM707.3 146.1h1.9v1.9h-1.9zM703.9 165.1h1.9v1.9h-1.9zM730.9 143.4h1.9v1.9h-1.9zM715.4 154.7h1.9v1.9h-1.9zM705.4 178.1h1.9v1.9h-1.9zM704.3 162.0h1.9v1.9h-1.9zM714.1 146.8h1.9v1.9h-1.9zM722.7 149.3h1.9v1.9h-1.9zM732.3 154.5h1.9v1.9h-1.9zM714.3 149.7h1.9v1.9h-1.9zM713.4 141.4h1.9v1.9h-1.9zM703.2 176.1h1.9v1.9h-1.9zM706.1 154.3h1.9v1.9h-1.9zM726.2 159.9h1.9v1.9h-1.9zM704.2 133.9h1.9v1.9h-1.9zM723.9 162.3h1.9v1.9h-1.9zM723.2 153.8h1.9v1.9h-1.9zM704.4 173.6h1.9v1.9h-1.9zM725.8 156.2h1.9v1.9h-1.9zM726.2 150.1h1.9v1.9h-1.9zM729.2 162.6h1.9v1.9h-1.9zM716.0 140.9h1.9v1.9h-1.9zM729.8 162.4h1.9v1.9h-1.9zM725.7 148.6h1.9v1.9h-1.9zM716.7 145.4h1.9v1.9h-1.9zM719.6 151.6h1.9v1.9h-1.9zM722.1 171.8h1.9v1.9h-1.9zM736.0 164.6h1.9v1.9h-1.9zM711.7 134.9h1.9v1.9h-1.9zM715.8 146.3h1.9v1.9h-1.9zM727.6 162.2h1.9v1.9h-1.9zM716.5 142.5h1.9v1.9h-1.9zM718.9 144.4h1.9v1.9h-1.9zM707.7 149.0h1.9v1.9h-1.9zM701.9 141.5h1.9v1.9h-1.9zM714.6 134.4h1.9v1.9h-1.9zM702.4 149.1h1.9v1.9h-1.9zM714.5 141.9h1.9v1.9h-1.9zM717.4 163.5h1.9v1.9h-1.9zM722.9 153.8h1.9v1.9h-1.9zM709.2 164.2h1.9v1.9h-1.9zM723.8 154.5h1.9v1.9h-1.9zM718.7 137.7h1.9v1.9h-1.9zM719.5 150.0h1.9v1.9h-1.9zM707.6 136.1h1.9v1.9h-1.9zM701.7 153.5h1.9v1.9h-1.9zM706.2 147.2h1.9v1.9h-1.9zM707.1 155.4h1.9v1.9h-1.9zM707.9 156.0h1.9v1.9h-1.9zM700.9 152.6h1.9v1.9h-1.9zM734.7 150.0h1.9v1.9h-1.9zM707.1 138.7h1.9v1.9h-1.9zM714.6 148.0h1.9v1.9h-1.9zM728.9 136.0h1.9v1.9h-1.9zM725.6 144.3h1.9v1.9h-1.9zM704.8 155.1h1.9v1.9h-1.9zM724.6 146.7h1.9v1.9h-1.9zM707.1 138.9h1.9v1.9h-1.9zM715.4 180.7h1.9v1.9h-1.9zM712.9 150.5h1.9v1.9h-1.9zM718.8 143.1h1.9v1.9h-1.9zM718.9 160.0h1.9v1.9h-1.9zM704.5 175.6h1.9v1.9h-1.9zM722.7 160.6h1.9v1.9h-1.9zM725.5 149.2h1.9v1.9h-1.9zM709.2 131.1h1.9v1.9h-1.9zM729.7 143.4h1.9v1.9h-1.9zM725.3 157.4h1.9v1.9h-1.9zM713.1 140.7h1.9v1.9h-1.9zM723.8 147.1h1.9v1.9h-1.9zM717.8 139.1h1.9v1.9h-1.9zM728.2 152.5h1.9v1.9h-1.9zM726.3 149.5h1.9v1.9h-1.9zM723.8 159.7h1.9v1.9h-1.9zM726.0 151.8h1.9v1.9h-1.9zM712.2 136.5h1.9v1.9h-1.9zM706.2 147.0h1.9v1.9h-1.9zM708.8 153.3h1.9v1.9h-1.9zM726.1 146.4h1.9v1.9h-1.9zM723.7 144.8h1.9v1.9h-1.9zM711.6 154.7h1.9v1.9h-1.9zM706.9 141.5h1.9v1.9h-1.9zM725.4 135.6h1.9v1.9h-1.9zM703.3 172.4h1.9v1.9h-1.9zM736.0 156.9h1.9v1.9h-1.9zM732.8 141.9h1.9v1.9h-1.9zM715.8 145.6h1.9v1.9h-1.9zM722.8 129.8h1.9v1.9h-1.9zM716.7 152.4h1.9v1.9h-1.9zM720.6 156.2h1.9v1.9h-1.9zM707.8 169.3h1.9v1.9h-1.9zM722.6 165.2h1.9v1.9h-1.9zM720.5 160.2h1.9v1.9h-1.9zM713.7 138.7h1.9v1.9h-1.9zM708.8 158.5h1.9v1.9h-1.9zM728.8 159.9h1.9v1.9h-1.9zM709.3 162.0h1.9v1.9h-1.9zM726.2 143.1h1.9v1.9h-1.9zM730.1 138.5h1.9v1.9h-1.9zM724.6 149.8h1.9v1.9h-1.9zM710.0 161.1h1.9v1.9h-1.9zM715.2 166.7h1.9v1.9h-1.9zM732.8 145.2h1.9v1.9h-1.9zM700.5 138.3h1.9v1.9h-1.9zM712.4 137.3h1.9v1.9h-1.9zM727.1 145.5h1.9v1.9h-1.9zM708.2 140.0h1.9v1.9h-1.9zM721.0 153.3h1.9v1.9h-1.9zM708.6 155.0h1.9v1.9h-1.9zM709.5 157.6h1.9v1.9h-1.9zM719.5 169.2h1.9v1.9h-1.9zM732.1 138.9h1.9v1.9h-1.9zM714.7 135.6h1.9v1.9h-1.9zM717.9 172.5h1.9v1.9h-1.9zM725.8 134.1h1.9v1.9h-1.9zM717.7 154.7h1.9v1.9h-1.9zM702.7 166.4h1.9v1.9h-1.9zM706.1 157.3h1.9v1.9h-1.9zM721.7 148.9h1.9v1.9h-1.9zM715.2 154.1h1.9v1.9h-1.9zM708.0 154.4h1.9v1.9h-1.9zM717.3 133.4h1.9v1.9h-1.9zM712.0 164.5h1.9v1.9h-1.9zM701.8 162.0h1.9v1.9h-1.9zM726.5 166.5h1.9v1.9h-1.9zM715.8 160.9h1.9v1.9h-1.9zM712.1 145.2h1.9v1.9h-1.9zM731.7 157.6h1.9v1.9h-1.9zM713.8 137.1h1.9v1.9h-1.9zM728.0 143.6h1.9v1.9h-1.9zM714.8 157.2h1.9v1.9h-1.9zM702.8 131.7h1.9v1.9h-1.9zM734.7 155.8h1.9v1.9h-1.9zM732.5 137.0h1.9v1.9h-1.9zM726.6 164.5h1.9v1.9h-1.9zM716.7 135.9h1.9v1.9h-1.9zM701.6 140.8h1.9v1.9h-1.9zM718.0 165.1h1.9v1.9h-1.9zM729.7 141.9h1.9v1.9h-1.9zM707.9 141.5h1.9v1.9h-1.9zM702.0 169.9h1.9v1.9h-1.9zM700.9 153.0h1.9v1.9h-1.9zM755.8 148.7h1.9v1.9h-1.9zM754.8 145.4h1.9v1.9h-1.9zM754.7 145.1h1.9v1.9h-1.9zM754.3 147.7h1.9v1.9h-1.9z" fill="#af3791"/>
<path d="M729.8 91.7h1.9v1.9h-1.9zM744.8 93.6h1.9v1.9h-1.9zM744.5 87.8h1.9v1.9h-1.9zM746.8 79.6h1.9v1.9h-1.9zM743.2 54.4h1.9v1.9h-1.9zM745.1 92.6h1.9v1.9h-1.9zM748.0 86.2h1.9v1.9h-1.9zM750.1 15.5h1.9v1.9h-1.9zM748.7 93.0h1.9v1.9h-1.9zM730.7 66.4h1.9v1.9h-1.9zM745.6 14.2h1.9v1.9h-1.9zM760.3 40.6h1.9v1.9h-1.9zM747.1 105.5h1.9v1.9h-1.9zM737.7 68.4h1.9v1.9h-1.9zM745.5 25.2h1.9v1.9h-1.9zM737.4 83.5h1.9v1.9h-1.9zM745.4 18.2h1.9v1.9h-1.9zM742.3 42.4h1.9v1.9h-1.9zM741.6 90.6h1.9v1.9h-1.9zM745.1 22.3h1.9v1.9h-1.9zM738.9 93.0h1.9v1.9h-1.9zM745.9 75.2h1.9v1.9h-1.9zM754.7 52.8h1.9v1.9h-1.9zM731.0 72.2h1.9v1.9h-1.9zM747.9 61.3h1.9v1.9h-1.9zM750.4 34.1h1.9v1.9h-1.9zM736.5 63.2h1.9v1.9h-1.9zM741.9 76.8h1.9v1.9h-1.9zM743.2 99.0h1.9v1.9h-1.9zM746.4 89.5h1.9v1.9h-1.9zM742.6 61.7h1.9v1.9h-1.9zM742.2 123.5h1.9v1.9h-1.9zM734.1 55.3h1.9v1.9h-1.9zM746.1 49.5h1.9v1.9h-1.9zM986.7 264.4h1.9v1.9h-1.9zM995.6 254.3h1.9v1.9h-1.9zM1013.5 254.1h1.9v1.9h-1.9zM1008.8 253.8h1.9v1.9h-1.9zM998.8 257.9h1.9v1.9h-1.9zM1007.8 250.6h1.9v1.9h-1.9zM977.5 280.3h1.9v1.9h-1.9zM1002.2 263.3h1.9v1.9h-1.9zM1000.0 254.9h1.9v1.9h-1.9zM992.8 262.4h1.9v1.9h-1.9zM998.6 263.7h1.9v1.9h-1.9zM983.2 279.1h1.9v1.9h-1.9zM1004.1 262.2h1.9v1.9h-1.9zM993.0 267.5h1.9v1.9h-1.9z" fill="#eb914b"/>
<path d="M709.1 64.2h1.9v1.9h-1.9zM709.3 37.8h1.9v1.9h-1.9zM721.5 34.4h1.9v1.9h-1.9zM722.1 30.4h1.9v1.9h-1.9zM710.9 35.7h1.9v1.9h-1.9zM716.3 24.4h1.9v1.9h-1.9zM743.1 16.4h1.9v1.9h-1.9zM721.3 38.9h1.9v1.9h-1.9zM702.4 57.7h1.9v1.9h-1.9zM729.8 27.3h1.9v1.9h-1.9zM730.9 28.7h1.9v1.9h-1.9zM738.1 35.2h1.9v1.9h-1.9zM717.4 27.9h1.9v1.9h-1.9zM700.9 55.4h1.9v1.9h-1.9zM717.5 58.8h1.9v1.9h-1.9zM733.8 37.6h1.9v1.9h-1.9zM729.7 47.0h1.9v1.9h-1.9zM739.0 18.5h1.9v1.9h-1.9zM729.6 35.9h1.9v1.9h-1.9zM716.2 47.6h1.9v1.9h-1.9zM735.7 19.5h1.9v1.9h-1.9zM731.0 35.2h1.9v1.9h-1.9zM727.8 38.7h1.9v1.9h-1.9zM717.1 28.8h1.9v1.9h-1.9zM716.0 37.0h1.9v1.9h-1.9zM725.4 32.7h1.9v1.9h-1.9zM710.6 41.7h1.9v1.9h-1.9zM703.0 62.2h1.9v1.9h-1.9zM735.9 26.4h1.9v1.9h-1.9zM739.8 40.8h1.9v1.9h-1.9zM730.4 43.2h1.9v1.9h-1.9zM736.1 42.5h1.9v1.9h-1.9zM732.6 47.1h1.9v1.9h-1.9zM704.0 46.0h1.9v1.9h-1.9zM723.4 21.4h1.9v1.9h-1.9zM710.5 51.7h1.9v1.9h-1.9zM721.6 25.2h1.9v1.9h-1.9zM723.1 34.9h1.9v1.9h-1.9zM739.8 35.4h1.9v1.9h-1.9zM729.1 48.8h1.9v1.9h-1.9zM723.6 45.0h1.9v1.9h-1.9zM717.3 37.9h1.9v1.9h-1.9zM720.5 28.5h1.9v1.9h-1.9zM725.2 59.7h1.9v1.9h-1.9zM722.6 37.6h1.9v1.9h-1.9zM718.9 47.8h1.9v1.9h-1.9zM709.2 44.3h1.9v1.9h-1.9zM742.9 17.4h1.9v1.9h-1.9zM712.4 55.4h1.9v1.9h-1.9zM736.4 22.2h1.9v1.9h-1.9zM712.9 55.7h1.9v1.9h-1.9zM700.0 60.3h1.9v1.9h-1.9zM718.3 25.9h1.9v1.9h-1.9zM742.1 18.5h1.9v1.9h-1.9zM720.0 30.1h1.9v1.9h-1.9zM725.6 48.6h1.9v1.9h-1.9zM699.0 58.0h1.9v1.9h-1.9zM733.5 42.0h1.9v1.9h-1.9zM723.7 48.3h1.9v1.9h-1.9zM708.4 49.1h1.9v1.9h-1.9zM730.3 30.0h1.9v1.9h-1.9zM735.0 38.3h1.9v1.9h-1.9zM708.6 39.5h1.9v1.9h-1.9zM725.2 40.5h1.9v1.9h-1.9zM719.9 59.5h1.9v1.9h-1.9zM714.1 56.3h1.9v1.9h-1.9zM739.1 20.9h1.9v1.9h-1.9zM716.9 32.7h1.9v1.9h-1.9zM733.9 50.0h1.9v1.9h-1.9zM721.9 19.8h1.9v1.9h-1.9zM722.6 41.0h1.9v1.9h-1.9zM706.2 63.0h1.9v1.9h-1.9zM711.0 43.4h1.9v1.9h-1.9zM721.0 20.9h1.9v1.9h-1.9zM725.4 37.0h1.9v1.9h-1.9zM737.8 22.6h1.9v1.9h-1.9zM729.8 28.2h1.9v1.9h-1.9zM708.6 48.6h1.9v1.9h-1.9zM976.4 292.0h1.9v1.9h-1.9zM976.7 284.0h1.9v1.9h-1.9zM991.2 292.1h1.9v1.9h-1.9zM983.0 293.8h1.9v1.9h-1.9zM984.0 283.5h1.9v1.9h-1.9z" fill="#eb735f"/>
<path d="M736.0 48.1h1.9v1.9h-1.9zM727.0 57.0h1.9v1.9h-1.9zM714.7 62.1h1.9v1.9h-1.9zM698.1 65.4h1.9v1.9h-1.9zM725.8 31.7h1.9v1.9h-1.9zM712.7 68.3h1.9v1.9h-1.9zM731.2 52.2h1.9v1.9h-1.9zM732.9 42.3h1.9v1.9h-1.9zM731.0 21.8h1.9v1.9h-1.9zM723.1 57.7h1.9v1.9h-1.9zM718.2 65.8h1.9v1.9h-1.9zM739.6 33.6h1.9v1.9h-1.9zM701.9 52.2h1.9v1.9h-1.9zM737.5 39.5h1.9v1.9h-1.9zM710.2 69.1h1.9v1.9h-1.9zM742.4 32.5h1.9v1.9h-1.9zM725.4 40.2h1.9v1.9h-1.9zM717.5 52.4h1.9v1.9h-1.9zM713.6 61.5h1.9v1.9h-1.9zM718.5 56.1h1.9v1.9h-1.9zM734.6 46.2h1.9v1.9h-1.9zM738.1 28.6h1.9v1.9h-1.9zM719.7 38.5h1.9v1.9h-1.9zM733.5 24.5h1.9v1.9h-1.9zM704.5 66.5h1.9v1.9h-1.9zM719.8 45.3h1.9v1.9h-1.9zM713.0 48.8h1.9v1.9h-1.9zM724.5 60.0h1.9v1.9h-1.9zM713.0 57.9h1.9v1.9h-1.9zM735.2 47.7h1.9v1.9h-1.9zM733.3 44.3h1.9v1.9h-1.9zM715.1 29.9h1.9v1.9h-1.9zM730.9 36.2h1.9v1.9h-1.9zM724.7 50.0h1.9v1.9h-1.9zM726.9 26.9h1.9v1.9h-1.9zM731.6 31.4h1.9v1.9h-1.9zM710.2 44.1h1.9v1.9h-1.9zM739.0 16.3h1.9v1.9h-1.9zM720.1 67.1h1.9v1.9h-1.9zM723.8 53.9h1.9v1.9h-1.9zM715.8 54.6h1.9v1.9h-1.9zM727.3 56.4h1.9v1.9h-1.9zM725.8 39.7h1.9v1.9h-1.9zM715.4 40.2h1.9v1.9h-1.9zM713.4 47.7h1.9v1.9h-1.9zM709.2 53.1h1.9v1.9h-1.9zM727.5 49.6h1.9v1.9h-1.9zM709.8 54.6h1.9v1.9h-1.9zM723.9 52.4h1.9v1.9h-1.9zM729.2 42.9h1.9v1.9h-1.9zM735.6 14.5h1.9v1.9h-1.9zM720.8 34.0h1.9v1.9h-1.9zM711.2 36.6h1.9v1.9h-1.9zM726.9 23.5h1.9v1.9h-1.9zM711.1 63.8h1.9v1.9h-1.9zM725.2 70.4h1.9v1.9h-1.9zM708.6 53.8h1.9v1.9h-1.9zM711.9 64.3h1.9v1.9h-1.9zM709.5 46.8h1.9v1.9h-1.9zM704.3 47.3h1.9v1.9h-1.9zM721.0 48.1h1.9v1.9h-1.9zM731.1 20.4h1.9v1.9h-1.9zM728.1 27.7h1.9v1.9h-1.9zM729.2 49.0h1.9v1.9h-1.9zM716.0 51.0h1.9v1.9h-1.9zM723.3 38.8h1.9v1.9h-1.9z" fill="#e1695f"/>
<path d="M720.4 48.8h1.9v1.9h-1.9zM739.3 15.0h1.9v1.9h-1.9zM739.0 29.8h1.9v1.9h-1.9zM703.7 49.1h1.9v1.9h-1.9zM699.7 63.4h1.9v1.9h-1.9zM740.6 32.2h1.9v1.9h-1.9zM738.2 32.0h1.9v1.9h-1.9zM722.6 36.6h1.9v1.9h-1.9zM719.9 21.5h1.9v1.9h-1.9zM699.9 53.0h1.9v1.9h-1.9zM734.5 35.3h1.9v1.9h-1.9zM731.8 27.5h1.9v1.9h-1.9zM734.9 40.5h1.9v1.9h-1.9zM722.5 51.0h1.9v1.9h-1.9zM698.6 62.8h1.9v1.9h-1.9zM727.8 30.9h1.9v1.9h-1.9zM720.6 23.3h1.9v1.9h-1.9zM715.2 61.1h1.9v1.9h-1.9zM729.2 21.4h1.9v1.9h-1.9zM719.7 43.0h1.9v1.9h-1.9zM714.0 46.6h1.9v1.9h-1.9zM744.9 19.0h1.9v1.9h-1.9zM729.1 20.5h1.9v1.9h-1.9zM733.6 30.9h1.9v1.9h-1.9zM742.2 30.3h1.9v1.9h-1.9zM743.7 23.8h1.9v1.9h-1.9zM732.6 40.0h1.9v1.9h-1.9zM739.9 30.3h1.9v1.9h-1.9zM727.6 34.5h1.9v1.9h-1.9zM709.5 33.7h1.9v1.9h-1.9zM726.5 22.7h1.9v1.9h-1.9zM717.9 29.1h1.9v1.9h-1.9zM712.9 40.7h1.9v1.9h-1.9zM742.3 15.2h1.9v1.9h-1.9zM739.1 32.7h1.9v1.9h-1.9zM722.7 20.6h1.9v1.9h-1.9zM718.7 33.4h1.9v1.9h-1.9zM739.9 23.5h1.9v1.9h-1.9zM740.9 29.1h1.9v1.9h-1.9zM742.3 24.9h1.9v1.9h-1.9zM734.7 24.5h1.9v1.9h-1.9zM718.1 25.3h1.9v1.9h-1.9zM708.9 47.5h1.9v1.9h-1.9zM742.1 26.3h1.9v1.9h-1.9zM738.2 20.4h1.9v1.9h-1.9zM727.9 26.0h1.9v1.9h-1.9zM706.1 43.7h1.9v1.9h-1.9zM706.8 38.2h1.9v1.9h-1.9zM735.2 37.3h1.9v1.9h-1.9zM743.4 18.4h1.9v1.9h-1.9zM716.8 53.2h1.9v1.9h-1.9zM726.8 28.1h1.9v1.9h-1.9zM723.6 42.7h1.9v1.9h-1.9zM730.0 15.4h1.9v1.9h-1.9zM733.9 27.4h1.9v1.9h-1.9zM714.0 41.5h1.9v1.9h-1.9zM730.0 35.9h1.9v1.9h-1.9zM736.8 40.1h1.9v1.9h-1.9zM710.3 32.7h1.9v1.9h-1.9zM713.6 42.4h1.9v1.9h-1.9zM729.8 41.1h1.9v1.9h-1.9zM739.0 34.7h1.9v1.9h-1.9zM711.8 51.4h1.9v1.9h-1.9zM727.1 17.3h1.9v1.9h-1.9zM740.1 25.6h1.9v1.9h-1.9zM727.5 34.1h1.9v1.9h-1.9zM715.7 25.9h1.9v1.9h-1.9zM705.9 42.2h1.9v1.9h-1.9zM740.7 11.0h1.9v1.9h-1.9zM744.2 19.3h1.9v1.9h-1.9zM734.8 39.0h1.9v1.9h-1.9zM725.8 29.1h1.9v1.9h-1.9zM726.0 35.0h1.9v1.9h-1.9zM980.6 283.2h1.9v1.9h-1.9zM979.0 291.3h1.9v1.9h-1.9zM982.6 295.2h1.9v1.9h-1.9zM983.0 289.5h1.9v1.9h-1.9zM988.1 292.6h1.9v1.9h-1.9zM979.4 294.2h1.9v1.9h-1.9zM977.9 290.7h1.9v1.9h-1.9zM981.0 293.1h1.9v1.9h-1.9zM983.5 294.8h1.9v1.9h-1.9zM994.5 287.0h1.9v1.9h-1.9zM977.0 290.8h1.9v1.9h-1.9zM986.4 284.5h1.9v1.9h-1.9zM979.1 282.0h1.9v1.9h-1.9z" fill="#eb7355"/>
<path d="M710.0 186.0h1.9v1.9h-1.9zM716.4 161.4h1.9v1.9h-1.9zM735.7 162.3h1.9v1.9h-1.9zM737.1 180.2h1.9v1.9h-1.9zM712.8 168.2h1.9v1.9h-1.9zM706.3 161.9h1.9v1.9h-1.9zM701.1 189.7h1.9v1.9h-1.9zM706.6 182.0h1.9v1.9h-1.9zM726.2 167.8h1.9v1.9h-1.9zM702.0 178.2h1.9v1.9h-1.9zM714.7 153.6h1.9v1.9h-1.9zM723.5 142.0h1.9v1.9h-1.9zM726.2 163.5h1.9v1.9h-1.9zM709.4 190.3h1.9v1.9h-1.9zM722.4 165.5h1.9v1.9h-1.9zM712.6 188.7h1.9v1.9h-1.9zM703.2 169.4h1.9v1.9h-1.9zM736.0 180.1h1.9v1.9h-1.9zM710.0 168.6h1.9v1.9h-1.9zM708.7 159.1h1.9v1.9h-1.9zM709.9 175.4h1.9v1.9h-1.9zM704.2 179.4h1.9v1.9h-1.9zM730.2 191.4h1.9v1.9h-1.9zM714.7 186.2h1.9v1.9h-1.9zM715.2 167.5h1.9v1.9h-1.9zM710.6 189.5h1.9v1.9h-1.9zM706.4 186.2h1.9v1.9h-1.9zM734.6 161.6h1.9v1.9h-1.9zM720.2 187.6h1.9v1.9h-1.9zM707.5 165.1h1.9v1.9h-1.9zM709.7 190.9h1.9v1.9h-1.9zM708.9 181.2h1.9v1.9h-1.9zM724.3 189.5h1.9v1.9h-1.9zM714.0 170.0h1.9v1.9h-1.9zM709.2 173.0h1.9v1.9h-1.9zM714.1 193.5h1.9v1.9h-1.9zM715.7 169.4h1.9v1.9h-1.9zM709.1 181.9h1.9v1.9h-1.9zM737.2 172.5h1.9v1.9h-1.9zM705.1 172.9h1.9v1.9h-1.9zM728.1 196.5h1.9v1.9h-1.9zM723.8 150.1h1.9v1.9h-1.9zM725.9 178.4h1.9v1.9h-1.9zM703.3 186.0h1.9v1.9h-1.9zM708.2 186.8h1.9v1.9h-1.9zM729.6 169.6h1.9v1.9h-1.9zM719.6 177.7h1.9v1.9h-1.9zM715.4 190.1h1.9v1.9h-1.9zM711.0 192.4h1.9v1.9h-1.9zM724.6 165.3h1.9v1.9h-1.9zM726.1 165.6h1.9v1.9h-1.9zM731.3 165.9h1.9v1.9h-1.9zM726.1 179.6h1.9v1.9h-1.9zM721.4 159.0h1.9v1.9h-1.9zM704.2 171.0h1.9v1.9h-1.9zM733.6 195.3h1.9v1.9h-1.9zM715.3 181.7h1.9v1.9h-1.9zM705.5 148.5h1.9v1.9h-1.9zM717.7 177.5h1.9v1.9h-1.9zM713.1 176.4h1.9v1.9h-1.9zM714.7 190.6h1.9v1.9h-1.9zM711.5 193.2h1.9v1.9h-1.9zM722.0 157.4h1.9v1.9h-1.9zM727.3 152.1h1.9v1.9h-1.9zM740.7 198.7h1.9v1.9h-1.9zM705.7 150.1h1.9v1.9h-1.9zM718.2 173.1h1.9v1.9h-1.9zM724.8 179.8h1.9v1.9h-1.9zM737.0 199.4h1.9v1.9h-1.9zM736.9 173.5h1.9v1.9h-1.9zM724.1 173.6h1.9v1.9h-1.9zM735.9 163.9h1.9v1.9h-1.9zM706.7 188.4h1.9v1.9h-1.9zM725.1 165.1h1.9v1.9h-1.9zM726.8 153.2h1.9v1.9h-1.9zM716.3 186.8h1.9v1.9h-1.9zM702.5 170.7h1.9v1.9h-1.9zM728.8 163.4h1.9v1.9h-1.9zM709.1 175.0h1.9v1.9h-1.9zM725.2 179.6h1.9v1.9h-1.9zM755.2 145.9h1.9v1.9h-1.9zM754.5 155.6h1.9v1.9h-1.9zM754.9 146.4h1.9v1.9h-1.9zM757.4 140.9h1.9v1.9h-1.9zM757.6 142.7h1.9v1.9h-1.9zM752.1 145.0h1.9v1.9h-1.9zM753.6 145.1h1.9v1.9h-1.9zM756.0 151.7h1.9v1.9h-1.9zM757.1 140.8h1.9v1.9h-1.9zM760.3 148.8h1.9v1.9h-1.9zM755.0 140.8h1.9v1.9h-1.9z" fill="#a52d9b"/>
<path d="M703.2 137.9h1.9v1.9h-1.9zM722.0 128.3h1.9v1.9h-1.9zM702.1 128.1h1.9v1.9h-1.9zM709.6 122.5h1.9v1.9h-1.9zM728.6 134.8h1.9v1.9h-1.9zM706.3 144.3h1.9v1.9h-1.9zM716.9 131.5h1.9v1.9h-1.9zM706.9 127.7h1.9v1.9h-1.9zM713.7 125.2h1.9v1.9h-1.9zM717.0 126.4h1.9v1.9h-1.9zM720.0 125.5h1.9v1.9h-1.9zM708.5 120.4h1.9v1.9h-1.9zM723.2 124.3h1.9v1.9h-1.9zM713.4 114.8h1.9v1.9h-1.9zM714.1 122.6h1.9v1.9h-1.9zM718.3 127.7h1.9v1.9h-1.9zM701.9 123.6h1.9v1.9h-1.9zM730.1 140.1h1.9v1.9h-1.9zM719.6 126.7h1.9v1.9h-1.9zM722.1 119.4h1.9v1.9h-1.9zM708.2 124.6h1.9v1.9h-1.9zM713.7 120.7h1.9v1.9h-1.9zM735.3 135.9h1.9v1.9h-1.9zM725.8 120.3h1.9v1.9h-1.9zM706.7 127.3h1.9v1.9h-1.9zM707.0 119.0h1.9v1.9h-1.9zM717.6 118.0h1.9v1.9h-1.9zM703.9 128.5h1.9v1.9h-1.9zM725.9 133.8h1.9v1.9h-1.9zM705.3 134.3h1.9v1.9h-1.9zM710.3 117.0h1.9v1.9h-1.9zM715.4 131.9h1.9v1.9h-1.9zM727.2 117.8h1.9v1.9h-1.9z" fill="#b93787"/>
<path d="M733.4 158.5h1.9v1.9h-1.9zM721.1 175.0h1.9v1.9h-1.9zM731.9 166.5h1.9v1.9h-1.9zM729.3 140.9h1.9v1.9h-1.9zM717.0 171.2h1.9v1.9h-1.9zM726.5 181.6h1.9v1.9h-1.9zM721.8 163.7h1.9v1.9h-1.9zM734.1 177.9h1.9v1.9h-1.9zM732.9 178.4h1.9v1.9h-1.9zM721.2 170.6h1.9v1.9h-1.9zM726.7 172.1h1.9v1.9h-1.9zM703.5 173.1h1.9v1.9h-1.9zM724.0 180.0h1.9v1.9h-1.9zM704.6 177.9h1.9v1.9h-1.9zM718.2 156.0h1.9v1.9h-1.9zM713.2 160.8h1.9v1.9h-1.9zM703.4 165.7h1.9v1.9h-1.9zM736.6 173.2h1.9v1.9h-1.9zM702.9 163.8h1.9v1.9h-1.9zM707.5 158.5h1.9v1.9h-1.9zM707.4 170.9h1.9v1.9h-1.9zM726.3 157.5h1.9v1.9h-1.9zM709.2 173.3h1.9v1.9h-1.9zM727.1 184.8h1.9v1.9h-1.9zM736.7 171.8h1.9v1.9h-1.9zM713.8 160.9h1.9v1.9h-1.9zM716.1 166.7h1.9v1.9h-1.9zM703.2 168.4h1.9v1.9h-1.9zM708.7 178.2h1.9v1.9h-1.9zM736.1 174.6h1.9v1.9h-1.9zM717.4 152.2h1.9v1.9h-1.9zM721.2 154.2h1.9v1.9h-1.9zM726.8 181.0h1.9v1.9h-1.9zM711.3 151.0h1.9v1.9h-1.9zM721.0 175.8h1.9v1.9h-1.9zM710.3 152.4h1.9v1.9h-1.9zM735.1 188.0h1.9v1.9h-1.9zM706.2 148.6h1.9v1.9h-1.9zM730.9 169.0h1.9v1.9h-1.9zM705.4 156.2h1.9v1.9h-1.9zM702.6 144.3h1.9v1.9h-1.9zM719.3 176.6h1.9v1.9h-1.9zM714.9 149.7h1.9v1.9h-1.9zM716.6 176.6h1.9v1.9h-1.9zM730.5 153.9h1.9v1.9h-1.9zM721.8 182.4h1.9v1.9h-1.9zM710.1 152.2h1.9v1.9h-1.9zM752.9 142.6h1.9v1.9h-1.9zM756.6 144.3h1.9v1.9h-1.9zM752.6 147.0h1.9v1.9h-1.9zM754.2 156.5h1.9v1.9h-1.9zM758.0 141.9h1.9v1.9h-1.9zM751.1 142.1h1.9v1.9h-1.9zM752.5 144.8h1.9v1.9h-1.9zM757.1 145.9h1.9v1.9h-1.9z" fill="#a5379b"/>
<path d="M724.4 175.7h1.9v1.9h-1.9zM733.1 191.4h1.9v1.9h-1.9zM717.0 166.9h1.9v1.9h-1.9zM727.1 175.8h1.9v1.9h-1.9zM729.2 144.0h1.9v1.9h-1.9zM722.4 189.0h1.9v1.9h-1.9zM710.5 154.9h1.9v1.9h-1.9zM707.0 163.5h1.9v1.9h-1.9zM709.8 156.3h1.9v1.9h-1.9zM729.7 159.1h1.9v1.9h-1.9zM725.8 166.1h1.9v1.9h-1.9zM705.3 151.9h1.9v1.9h-1.9zM726.5 162.4h1.9v1.9h-1.9zM714.3 166.0h1.9v1.9h-1.9zM711.5 163.7h1.9v1.9h-1.9zM706.1 155.1h1.9v1.9h-1.9zM725.7 176.0h1.9v1.9h-1.9zM716.1 159.6h1.9v1.9h-1.9zM713.9 175.9h1.9v1.9h-1.9zM726.7 172.1h1.9v1.9h-1.9zM720.5 156.2h1.9v1.9h-1.9zM705.0 189.7h1.9v1.9h-1.9zM703.7 165.7h1.9v1.9h-1.9zM717.7 187.7h1.9v1.9h-1.9zM708.5 180.0h1.9v1.9h-1.9zM701.0 156.2h1.9v1.9h-1.9zM702.5 175.3h1.9v1.9h-1.9zM705.2 152.4h1.9v1.9h-1.9zM714.9 166.3h1.9v1.9h-1.9zM737.0 149.9h1.9v1.9h-1.9zM735.9 157.5h1.9v1.9h-1.9zM734.7 178.0h1.9v1.9h-1.9zM701.6 202.8h1.9v1.9h-1.9zM719.5 175.9h1.9v1.9h-1.9zM710.7 180.3h1.9v1.9h-1.9zM734.7 169.7h1.9v1.9h-1.9zM715.0 167.9h1.9v1.9h-1.9zM701.0 157.5h1.9v1.9h-1.9zM705.4 176.6h1.9v1.9h-1.9zM702.9 170.2h1.9v1.9h-1.9zM711.4 166.8h1.9v1.9h-1.9zM704.0 146.7h1.9v1.9h-1.9zM704.0 145.1h1.9v1.9h-1.9zM732.3 138.8h1.9v1.9h-1.9zM739.2 188.7h1.9v1.9h-1.9zM719.1 156.6h1.9v1.9h-1.9zM718.4 169.9h1.9v1.9h-1.9zM715.1 161.8h1.9v1.9h-1.9zM711.0 163.6h1.9v1.9h-1.9zM703.9 162.8h1.9v1.9h-1.9zM728.8 148.9h1.9v1.9h-1.9zM703.6 151.3h1.9v1.9h-1.9zM703.5 141.1h1.9v1.9h-1.9zM725.2 144.9h1.9v1.9h-1.9zM728.5 156.3h1.9v1.9h-1.9zM710.6 159.5h1.9v1.9h-1.9zM712.6 165.6h1.9v1.9h-1.9zM719.2 169.9h1.9v1.9h-1.9zM730.0 172.7h1.9v1.9h-1.9zM735.3 170.5h1.9v1.9h-1.9zM713.4 169.5h1.9v1.9h-1.9zM734.7 150.2h1.9v1.9h-1.9zM711.4 168.8h1.9v1.9h-1.9zM702.8 180.4h1.9v1.9h-1.9zM735.8 169.1h1.9v1.9h-1.9zM714.8 171.8h1.9v1.9h-1.9zM718.6 182.9h1.9v1.9h-1.9zM725.9 160.8h1.9v1.9h-1.9zM705.0 143.1h1.9v1.9h-1.9zM735.8 160.7h1.9v1.9h-1.9zM736.1 173.8h1.9v1.9h-1.9zM705.0 149.9h1.9v1.9h-1.9zM711.5 172.2h1.9v1.9h-1.9zM754.4 150.5h1.9v1.9h-1.9zM756.6 135.7h1.9v1.9h-1.9zM753.4 141.5h1.9v1.9h-1.9zM753.4 139.9h1.9v1.9h-1.9zM753.4 144.6h1.9v1.9h-1.9z" fill="#a53791"/>
<path d="M706.7 257.8h1.9v1.9h-1.9zM733.9 292.1h1.9v1.9h-1.9zM716.6 268.8h1.9v1.9h-1.9zM734.6 300.6h1.9v1.9h-1.9zM738.4 313.2h1.9v1.9h-1.9zM734.5 288.9h1.9v1.9h-1.9zM699.7 253.2h1.9v1.9h-1.9zM735.4 290.0h1.9v1.9h-1.9zM725.3 291.1h1.9v1.9h-1.9zM735.7 318.6h1.9v1.9h-1.9zM707.8 267.9h1.9v1.9h-1.9zM736.6 305.5h1.9v1.9h-1.9zM737.4 295.0h1.9v1.9h-1.9zM737.7 307.5h1.9v1.9h-1.9zM719.9 278.2h1.9v1.9h-1.9zM735.1 317.1h1.9v1.9h-1.9zM733.2 305.7h1.9v1.9h-1.9zM701.0 254.1h1.9v1.9h-1.9zM730.8 293.0h1.9v1.9h-1.9zM725.0 282.3h1.9v1.9h-1.9zM704.6 262.9h1.9v1.9h-1.9zM731.5 292.0h1.9v1.9h-1.9zM735.9 295.7h1.9v1.9h-1.9zM730.0 299.0h1.9v1.9h-1.9zM722.5 283.6h1.9v1.9h-1.9zM732.1 306.2h1.9v1.9h-1.9zM705.9 264.3h1.9v1.9h-1.9zM703.3 261.8h1.9v1.9h-1.9zM719.8 273.6h1.9v1.9h-1.9zM714.7 267.7h1.9v1.9h-1.9zM702.8 262.0h1.9v1.9h-1.9zM732.9 290.5h1.9v1.9h-1.9zM706.7 266.0h1.9v1.9h-1.9zM722.1 285.5h1.9v1.9h-1.9zM714.3 269.7h1.9v1.9h-1.9zM730.2 293.4h1.9v1.9h-1.9zM730.8 308.6h1.9v1.9h-1.9zM713.3 265.7h1.9v1.9h-1.9zM701.7 255.2h1.9v1.9h-1.9zM729.6 295.4h1.9v1.9h-1.9zM722.1 275.0h1.9v1.9h-1.9zM724.5 283.9h1.9v1.9h-1.9zM721.7 282.1h1.9v1.9h-1.9zM717.0 267.2h1.9v1.9h-1.9zM710.9 260.5h1.9v1.9h-1.9zM734.1 315.4h1.9v1.9h-1.9zM721.4 276.4h1.9v1.9h-1.9zM728.1 283.8h1.9v1.9h-1.9zM720.2 282.2h1.9v1.9h-1.9zM738.0 304.0h1.9v1.9h-1.9zM722.9 282.9h1.9v1.9h-1.9zM736.5 294.3h1.9v1.9h-1.9zM740.3 306.9h1.9v1.9h-1.9zM720.2 273.8h1.9v1.9h-1.9zM714.4 267.7h1.9v1.9h-1.9zM733.3 310.0h1.9v1.9h-1.9z" fill="#4b2d9b"/>
<path d="M704.4 276.5h1.9v1.9h-1.9zM704.4 292.3h1.9v1.9h-1.9zM719.5 318.8h1.9v1.9h-1.9zM712.5 293.2h1.9v1.9h-1.9zM713.8 325.1h1.9v1.9h-1.9zM712.3 294.0h1.9v1.9h-1.9zM718.6 306.0h1.9v1.9h-1.9zM704.9 275.9h1.9v1.9h-1.9zM715.6 302.2h1.9v1.9h-1.9zM714.8 304.0h1.9v1.9h-1.9zM709.6 300.2h1.9v1.9h-1.9zM702.4 276.4h1.9v1.9h-1.9zM716.6 327.1h1.9v1.9h-1.9zM706.9 289.1h1.9v1.9h-1.9zM715.0 318.9h1.9v1.9h-1.9zM722.0 325.7h1.9v1.9h-1.9zM704.1 314.6h1.9v1.9h-1.9z" fill="#2d2d7d"/>
<path d="M708.2 86.8h1.9v1.9h-1.9zM708.0 99.0h1.9v1.9h-1.9zM721.6 85.1h1.9v1.9h-1.9zM715.5 95.0h1.9v1.9h-1.9zM709.9 76.9h1.9v1.9h-1.9zM724.5 88.1h1.9v1.9h-1.9zM706.5 108.6h1.9v1.9h-1.9zM723.9 86.6h1.9v1.9h-1.9zM721.2 89.2h1.9v1.9h-1.9zM699.6 105.6h1.9v1.9h-1.9zM718.9 91.7h1.9v1.9h-1.9zM719.1 94.6h1.9v1.9h-1.9zM714.2 108.1h1.9v1.9h-1.9zM705.5 104.0h1.9v1.9h-1.9zM721.7 85.9h1.9v1.9h-1.9zM720.0 81.5h1.9v1.9h-1.9zM720.7 83.6h1.9v1.9h-1.9zM708.4 94.2h1.9v1.9h-1.9zM714.9 89.1h1.9v1.9h-1.9zM704.5 113.0h1.9v1.9h-1.9zM712.6 97.7h1.9v1.9h-1.9zM706.3 88.7h1.9v1.9h-1.9zM718.6 97.5h1.9v1.9h-1.9zM700.6 97.2h1.9v1.9h-1.9zM723.7 93.2h1.9v1.9h-1.9zM711.0 96.2h1.9v1.9h-1.9zM727.6 98.7h1.9v1.9h-1.9zM724.0 90.3h1.9v1.9h-1.9z" fill="#d74b7d"/>
<path d="M706.1 73.0h1.9v1.9h-1.9zM711.0 52.9h1.9v1.9h-1.9zM725.6 78.4h1.9v1.9h-1.9zM721.3 68.0h1.9v1.9h-1.9zM712.4 85.6h1.9v1.9h-1.9zM711.5 87.5h1.9v1.9h-1.9zM713.7 73.2h1.9v1.9h-1.9zM717.1 74.2h1.9v1.9h-1.9zM718.9 84.3h1.9v1.9h-1.9z" fill="#e15573"/>
<path d="M723.1 58.1h1.9v1.9h-1.9zM718.8 52.5h1.9v1.9h-1.9zM724.4 78.6h1.9v1.9h-1.9zM699.0 68.8h1.9v1.9h-1.9zM717.8 42.4h1.9v1.9h-1.9zM710.9 55.1h1.9v1.9h-1.9zM725.8 76.4h1.9v1.9h-1.9zM720.5 78.9h1.9v1.9h-1.9zM719.7 81.1h1.9v1.9h-1.9z" fill="#e15569"/>
<path d="M740.5 89.8h1.9v1.9h-1.9zM753.0 31.2h1.9v1.9h-1.9zM736.7 73.3h1.9v1.9h-1.9zM728.0 75.5h1.9v1.9h-1.9zM746.4 97.3h1.9v1.9h-1.9zM740.0 67.6h1.9v1.9h-1.9zM732.0 93.3h1.9v1.9h-1.9zM732.3 87.9h1.9v1.9h-1.9zM745.5 79.5h1.9v1.9h-1.9zM747.1 26.7h1.9v1.9h-1.9zM738.2 99.7h1.9v1.9h-1.9zM742.6 73.3h1.9v1.9h-1.9zM746.6 23.8h1.9v1.9h-1.9zM755.1 30.9h1.9v1.9h-1.9zM741.3 62.3h1.9v1.9h-1.9zM753.3 47.8h1.9v1.9h-1.9zM734.5 75.6h1.9v1.9h-1.9zM748.6 51.0h1.9v1.9h-1.9zM744.7 78.6h1.9v1.9h-1.9zM749.1 129.9h1.9v1.9h-1.9zM741.2 78.2h1.9v1.9h-1.9zM754.0 43.2h1.9v1.9h-1.9zM744.3 47.0h1.9v1.9h-1.9zM749.8 27.2h1.9v1.9h-1.9zM733.8 53.9h1.9v1.9h-1.9zM759.1 43.5h1.9v1.9h-1.9zM747.5 66.5h1.9v1.9h-1.9zM739.8 48.9h1.9v1.9h-1.9zM739.0 45.4h1.9v1.9h-1.9zM746.6 30.3h1.9v1.9h-1.9zM746.1 119.7h1.9v1.9h-1.9zM749.5 67.6h1.9v1.9h-1.9zM741.6 122.5h1.9v1.9h-1.9zM1023.4 214.9h1.9v1.9h-1.9zM1002.3 233.2h1.9v1.9h-1.9zM1018.3 242.8h1.9v1.9h-1.9zM1008.0 236.0h1.9v1.9h-1.9zM1026.4 213.6h1.9v1.9h-1.9zM1021.7 227.8h1.9v1.9h-1.9zM1024.2 221.8h1.9v1.9h-1.9zM1027.4 215.2h1.9v1.9h-1.9zM1035.7 219.4h1.9v1.9h-1.9zM1026.5 217.8h1.9v1.9h-1.9zM1015.4 228.0h1.9v1.9h-1.9zM1012.2 228.9h1.9v1.9h-1.9zM1029.0 223.2h1.9v1.9h-1.9zM1017.1 238.1h1.9v1.9h-1.9zM1010.2 230.6h1.9v1.9h-1.9zM1009.9 234.3h1.9v1.9h-1.9zM1034.7 212.9h1.9v1.9h-1.9zM1028.3 204.6h1.9v1.9h-1.9zM1014.7 238.6h1.9v1.9h-1.9zM1028.4 219.6h1.9v1.9h-1.9zM1034.2 209.8h1.9v1.9h-1.9zM1025.8 218.8h1.9v1.9h-1.9zM1005.7 235.4h1.9v1.9h-1.9zM1028.9 201.6h1.9v1.9h-1.9zM1018.5 216.8h1.9v1.9h-1.9zM1027.6 220.6h1.9v1.9h-1.9zM1021.0 231.2h1.9v1.9h-1.9zM1001.9 229.0h1.9v1.9h-1.9zM1029.5 199.6h1.9v1.9h-1.9zM1008.4 236.3h1.9v1.9h-1.9zM1028.0 217.9h1.9v1.9h-1.9zM1025.2 213.9h1.9v1.9h-1.9zM1000.9 245.9h1.9v1.9h-1.9zM1030.9 206.3h1.9v1.9h-1.9zM1029.8 218.2h1.9v1.9h-1.9zM1022.1 223.5h1.9v1.9h-1.9zM997.3 248.7h1.9v1.9h-1.9zM1024.9 208.9h1.9v1.9h-1.9zM1029.0 222.6h1.9v1.9h-1.9zM1023.7 216.9h1.9v1.9h-1.9zM1016.1 219.5h1.9v1.9h-1.9zM1020.3 215.6h1.9v1.9h-1.9zM1021.1 217.4h1.9v1.9h-1.9zM1025.4 220.6h1.9v1.9h-1.9zM1013.5 239.3h1.9v1.9h-1.9zM1006.7 233.0h1.9v1.9h-1.9zM1024.2 209.1h1.9v1.9h-1.9zM1027.5 203.0h1.9v1.9h-1.9zM1002.4 231.1h1.9v1.9h-1.9zM1029.3 217.7h1.9v1.9h-1.9zM1020.0 233.6h1.9v1.9h-1.9z" fill="#f59b41"/>
<path d="M720.6 57.0h1.9v1.9h-1.9zM724.6 53.7h1.9v1.9h-1.9zM717.8 53.3h1.9v1.9h-1.9zM700.4 70.5h1.9v1.9h-1.9zM742.6 24.2h1.9v1.9h-1.9zM721.8 51.1h1.9v1.9h-1.9zM712.8 52.3h1.9v1.9h-1.9zM723.9 81.2h1.9v1.9h-1.9zM723.2 56.1h1.9v1.9h-1.9zM702.0 64.8h1.9v1.9h-1.9zM706.6 40.2h1.9v1.9h-1.9zM716.8 31.3h1.9v1.9h-1.9zM707.9 57.2h1.9v1.9h-1.9zM717.8 46.2h1.9v1.9h-1.9zM726.3 70.1h1.9v1.9h-1.9z" fill="#e16969"/>
<path d="M701.4 95.0h1.9v1.9h-1.9zM717.4 94.5h1.9v1.9h-1.9zM724.2 100.6h1.9v1.9h-1.9zM711.6 82.2h1.9v1.9h-1.9zM707.7 104.7h1.9v1.9h-1.9zM728.2 104.7h1.9v1.9h-1.9zM705.4 89.9h1.9v1.9h-1.9zM721.4 84.0h1.9v1.9h-1.9zM721.9 102.4h1.9v1.9h-1.9zM710.1 86.4h1.9v1.9h-1.9zM711.5 79.4h1.9v1.9h-1.9zM718.5 90.4h1.9v1.9h-1.9zM709.4 88.8h1.9v1.9h-1.9zM708.7 85.6h1.9v1.9h-1.9zM706.8 98.1h1.9v1.9h-1.9zM699.5 89.1h1.9v1.9h-1.9zM723.1 91.4h1.9v1.9h-1.9z" fill="#d74b73"/>
<path d="M730.5 136.1h1.9v1.9h-1.9zM727.0 130.2h1.9v1.9h-1.9zM701.7 125.7h1.9v1.9h-1.9zM704.6 132.4h1.9v1.9h-1.9zM720.9 129.0h1.9v1.9h-1.9zM733.5 121.2h1.9v1.9h-1.9zM713.2 129.3h1.9v1.9h-1.9zM721.0 115.1h1.9v1.9h-1.9zM720.7 119.0h1.9v1.9h-1.9zM699.9 117.6h1.9v1.9h-1.9zM718.5 131.4h1.9v1.9h-1.9zM701.1 121.8h1.9v1.9h-1.9zM714.4 139.0h1.9v1.9h-1.9zM705.7 118.6h1.9v1.9h-1.9zM704.3 131.4h1.9v1.9h-1.9zM709.1 116.6h1.9v1.9h-1.9zM715.1 112.7h1.9v1.9h-1.9zM718.8 120.6h1.9v1.9h-1.9zM707.6 133.8h1.9v1.9h-1.9zM715.7 153.2h1.9v1.9h-1.9zM719.3 120.9h1.9v1.9h-1.9zM730.1 125.9h1.9v1.9h-1.9zM716.8 122.5h1.9v1.9h-1.9zM730.9 143.8h1.9v1.9h-1.9zM714.1 142.6h1.9v1.9h-1.9zM726.5 130.7h1.9v1.9h-1.9zM715.6 111.2h1.9v1.9h-1.9zM721.4 114.7h1.9v1.9h-1.9zM720.9 134.9h1.9v1.9h-1.9z" fill="#b94187"/>
<path d="M743.5 26.2h1.9v1.9h-1.9zM736.5 23.3h1.9v1.9h-1.9zM739.6 90.7h1.9v1.9h-1.9zM741.2 30.0h1.9v1.9h-1.9zM734.0 21.3h1.9v1.9h-1.9zM737.5 12.4h1.9v1.9h-1.9zM992.8 288.9h1.9v1.9h-1.9zM992.6 277.4h1.9v1.9h-1.9zM975.3 283.0h1.9v1.9h-1.9zM987.6 291.4h1.9v1.9h-1.9zM976.9 284.8h1.9v1.9h-1.9zM979.1 283.7h1.9v1.9h-1.9zM986.2 293.5h1.9v1.9h-1.9zM994.6 279.5h1.9v1.9h-1.9zM994.4 285.8h1.9v1.9h-1.9zM982.7 280.6h1.9v1.9h-1.9zM985.5 277.8h1.9v1.9h-1.9zM992.1 284.8h1.9v1.9h-1.9zM992.0 291.7h1.9v1.9h-1.9zM984.4 288.2h1.9v1.9h-1.9zM975.8 284.2h1.9v1.9h-1.9zM989.8 276.7h1.9v1.9h-1.9zM979.0 276.5h1.9v1.9h-1.9zM978.2 274.2h1.9v1.9h-1.9zM977.4 277.2h1.9v1.9h-1.9zM982.6 293.1h1.9v1.9h-1.9zM983.2 282.1h1.9v1.9h-1.9zM976.2 290.4h1.9v1.9h-1.9zM987.3 285.9h1.9v1.9h-1.9zM989.5 286.6h1.9v1.9h-1.9zM980.5 282.6h1.9v1.9h-1.9zM985.9 292.0h1.9v1.9h-1.9zM986.1 286.5h1.9v1.9h-1.9zM985.6 283.6h1.9v1.9h-1.9zM996.8 273.8h1.9v1.9h-1.9z" fill="#eb7d4b"/>
<path d="M749.3 18.7h1.9v1.9h-1.9zM729.5 77.8h1.9v1.9h-1.9zM746.7 73.6h1.9v1.9h-1.9zM746.9 91.6h1.9v1.9h-1.9zM1010.5 219.4h1.9v1.9h-1.9zM1032.0 193.0h1.9v1.9h-1.9zM1023.1 228.2h1.9v1.9h-1.9zM1017.2 210.0h1.9v1.9h-1.9zM1036.8 208.5h1.9v1.9h-1.9zM1046.2 215.8h1.9v1.9h-1.9zM1013.8 220.0h1.9v1.9h-1.9zM1017.6 223.5h1.9v1.9h-1.9zM1037.5 207.8h1.9v1.9h-1.9zM1025.0 218.1h1.9v1.9h-1.9zM1034.0 209.5h1.9v1.9h-1.9zM1000.5 222.6h1.9v1.9h-1.9zM1023.1 208.1h1.9v1.9h-1.9zM1032.2 218.1h1.9v1.9h-1.9zM1024.0 204.8h1.9v1.9h-1.9zM1011.9 226.1h1.9v1.9h-1.9zM1001.9 225.2h1.9v1.9h-1.9zM1039.8 217.4h1.9v1.9h-1.9zM1035.0 203.1h1.9v1.9h-1.9zM1024.6 203.5h1.9v1.9h-1.9zM1030.7 217.0h1.9v1.9h-1.9zM1034.4 214.2h1.9v1.9h-1.9zM1020.4 197.5h1.9v1.9h-1.9zM1025.1 192.3h1.9v1.9h-1.9zM1016.4 217.1h1.9v1.9h-1.9zM1016.1 209.7h1.9v1.9h-1.9zM1029.6 215.4h1.9v1.9h-1.9zM1033.0 216.9h1.9v1.9h-1.9zM1021.1 200.5h1.9v1.9h-1.9zM1008.8 231.7h1.9v1.9h-1.9zM1012.1 228.2h1.9v1.9h-1.9zM1037.2 200.7h1.9v1.9h-1.9zM1009.1 229.3h1.9v1.9h-1.9zM1001.3 226.4h1.9v1.9h-1.9zM1000.9 217.5h1.9v1.9h-1.9zM1042.1 205.9h1.9v1.9h-1.9zM1021.1 222.4h1.9v1.9h-1.9zM1021.1 230.6h1.9v1.9h-1.9zM1019.5 194.4h1.9v1.9h-1.9zM1010.7 212.0h1.9v1.9h-1.9zM1034.5 197.2h1.9v1.9h-1.9zM1013.7 225.5h1.9v1.9h-1.9zM1012.5 217.6h1.9v1.9h-1.9zM1032.8 221.3h1.9v1.9h-1.9zM1034.4 212.5h1.9v1.9h-1.9zM1020.5 222.6h1.9v1.9h-1.9zM1030.0 207.9h1.9v1.9h-1.9zM1030.0 187.4h1.9v1.9h-1.9zM1038.3 216.1h1.9v1.9h-1.9zM1038.2 201.7h1.9v1.9h-1.9zM1042.6 219.1h1.9v1.9h-1.9zM1005.2 230.1h1.9v1.9h-1.9zM1023.2 214.6h1.9v1.9h-1.9zM1035.7 219.3h1.9v1.9h-1.9zM1041.1 216.0h1.9v1.9h-1.9zM1007.2 230.9h1.9v1.9h-1.9zM1008.0 221.7h1.9v1.9h-1.9zM1031.2 219.6h1.9v1.9h-1.9zM1021.5 203.1h1.9v1.9h-1.9zM1015.4 221.4h1.9v1.9h-1.9zM1023.8 195.9h1.9v1.9h-1.9zM1032.6 220.7h1.9v1.9h-1.9zM1005.1 230.0h1.9v1.9h-1.9zM1019.2 207.9h1.9v1.9h-1.9zM1018.2 216.3h1.9v1.9h-1.9zM1041.0 213.4h1.9v1.9h-1.9zM1022.3 211.4h1.9v1.9h-1.9zM1027.6 203.1h1.9v1.9h-1.9zM1029.8 209.9h1.9v1.9h-1.9zM1012.1 232.0h1.9v1.9h-1.9zM1013.7 218.9h1.9v1.9h-1.9zM1022.2 217.0h1.9v1.9h-1.9zM1027.2 200.3h1.9v1.9h-1.9zM1031.4 196.5h1.9v1.9h-1.9zM1034.0 220.4h1.9v1.9h-1.9zM999.4 243.4h1.9v1.9h-1.9zM1044.3 219.0h1.9v1.9h-1.9zM1032.3 193.9h1.9v1.9h-1.9zM1008.6 217.5h1.9v1.9h-1.9zM1021.0 205.6h1.9v1.9h-1.9zM1030.9 222.4h1.9v1.9h-1.9zM1035.9 214.5h1.9v1.9h-1.9zM1024.8 210.1h1.9v1.9h-1.9zM1016.7 219.0h1.9v1.9h-1.9zM1032.8 202.2h1.9v1.9h-1.9zM1002.0 239.6h1.9v1.9h-1.9zM1003.5 234.9h1.9v1.9h-1.9zM1017.6 207.1h1.9v1.9h-1.9zM1016.7 217.3h1.9v1.9h-1.9zM1012.9 223.9h1.9v1.9h-1.9zM1038.7 197.8h1.9v1.9h-1.9zM1027.0 211.6h1.9v1.9h-1.9zM1034.4 207.2h1.9v1.9h-1.9zM1032.0 213.6h1.9v1.9h-1.9zM1006.9 218.6h1.9v1.9h-1.9zM1030.9 222.0h1.9v1.9h-1.9zM1026.5 204.8h1.9v1.9h-1.9zM1016.6 223.3h1.9v1.9h-1.9zM1044.8 221.0h1.9v1.9h-1.9zM1023.9 214.8h1.9v1.9h-1.9zM1023.1 208.7h1.9v1.9h-1.9zM1040.7 212.0h1.9v1.9h-1.9zM1033.2 209.9h1.9v1.9h-1.9zM1030.3 200.4h1.9v1.9h-1.9zM1035.2 217.1h1.9v1.9h-1.9zM1020.7 203.4h1.9v1.9h-1.9zM1031.0 218.3h1.9v1.9h-1.9zM1024.5 201.6h1.9v1.9h-1.9zM1029.4 211.7h1.9v1.9h-1.9zM1019.1 210.2h1.9v1.9h-1.9zM1008.3 220.7h1.9v1.9h-1.9zM1031.7 210.6h1.9v1.9h-1.9zM1022.6 210.0h1.9v1.9h-1.9zM1031.2 200.9h1.9v1.9h-1.9zM1023.5 200.7h1.9v1.9h-1.9zM1028.3 198.0h1.9v1.9h-1.9zM1028.9 219.6h1.9v1.9h-1.9zM1026.0 208.5h1.9v1.9h-1.9zM1021.3 213.6h1.9v1.9h-1.9zM1029.0 208.3h1.9v1.9h-1.9zM1035.6 195.4h1.9v1.9h-1.9z" fill="#f5a537"/>
<path d="M1009.9 172.4h1.9v1.9h-1.9zM1051.1 157.3h1.9v1.9h-1.9zM1041.5 170.5h1.9v1.9h-1.9zM1047.9 151.2h1.9v1.9h-1.9zM1041.9 175.2h1.9v1.9h-1.9zM1025.2 145.1h1.9v1.9h-1.9zM994.2 185.7h1.9v1.9h-1.9zM1059.5 192.1h1.9v1.9h-1.9zM999.7 182.9h1.9v1.9h-1.9zM1019.7 153.8h1.9v1.9h-1.9zM1002.8 167.5h1.9v1.9h-1.9zM996.2 180.0h1.9v1.9h-1.9zM1006.0 165.7h1.9v1.9h-1.9zM1011.1 176.1h1.9v1.9h-1.9zM1040.5 166.6h1.9v1.9h-1.9zM1051.7 162.9h1.9v1.9h-1.9zM993.4 188.3h1.9v1.9h-1.9zM1052.1 163.5h1.9v1.9h-1.9zM994.0 182.3h1.9v1.9h-1.9zM1015.6 175.1h1.9v1.9h-1.9zM1031.1 152.2h1.9v1.9h-1.9zM1006.5 177.1h1.9v1.9h-1.9zM1049.1 174.2h1.9v1.9h-1.9zM1050.1 153.7h1.9v1.9h-1.9zM1012.8 160.0h1.9v1.9h-1.9zM997.8 184.4h1.9v1.9h-1.9zM1031.6 165.5h1.9v1.9h-1.9zM1016.8 159.0h1.9v1.9h-1.9zM1016.1 160.1h1.9v1.9h-1.9zM1035.9 167.7h1.9v1.9h-1.9zM1043.3 131.7h1.9v1.9h-1.9zM1047.3 147.3h1.9v1.9h-1.9zM1044.7 167.9h1.9v1.9h-1.9zM1034.3 145.7h1.9v1.9h-1.9zM1014.3 159.8h1.9v1.9h-1.9zM1020.1 162.8h1.9v1.9h-1.9zM1001.0 177.0h1.9v1.9h-1.9zM1033.5 161.6h1.9v1.9h-1.9zM1000.8 196.6h1.9v1.9h-1.9zM1016.9 152.5h1.9v1.9h-1.9zM1052.4 179.5h1.9v1.9h-1.9zM1041.4 165.6h1.9v1.9h-1.9zM1048.8 185.5h1.9v1.9h-1.9zM1016.1 162.0h1.9v1.9h-1.9zM1044.7 136.8h1.9v1.9h-1.9zM1026.8 166.7h1.9v1.9h-1.9zM1022.8 177.8h1.9v1.9h-1.9zM1023.8 162.5h1.9v1.9h-1.9zM1043.7 155.6h1.9v1.9h-1.9zM1013.0 187.8h1.9v1.9h-1.9zM1026.1 146.7h1.9v1.9h-1.9zM1055.3 194.4h1.9v1.9h-1.9zM1014.3 182.0h1.9v1.9h-1.9zM1037.7 160.3h1.9v1.9h-1.9zM1045.7 180.2h1.9v1.9h-1.9zM1020.9 152.3h1.9v1.9h-1.9zM1024.6 154.1h1.9v1.9h-1.9zM1038.9 165.5h1.9v1.9h-1.9zM1018.0 137.6h1.9v1.9h-1.9zM1007.8 182.4h1.9v1.9h-1.9zM1041.2 176.1h1.9v1.9h-1.9zM1042.6 154.6h1.9v1.9h-1.9zM1053.8 189.8h1.9v1.9h-1.9zM1042.3 165.9h1.9v1.9h-1.9zM1039.5 147.6h1.9v1.9h-1.9zM1009.7 175.6h1.9v1.9h-1.9zM995.2 191.3h1.9v1.9h-1.9zM1037.4 159.8h1.9v1.9h-1.9zM998.9 181.9h1.9v1.9h-1.9zM1030.4 163.5h1.9v1.9h-1.9zM1012.8 163.4h1.9v1.9h-1.9zM1055.8 197.0h1.9v1.9h-1.9zM1020.6 170.1h1.9v1.9h-1.9zM1015.5 171.5h1.9v1.9h-1.9zM1059.2 185.1h1.9v1.9h-1.9zM1042.7 155.8h1.9v1.9h-1.9zM1048.2 175.3h1.9v1.9h-1.9zM1010.8 184.7h1.9v1.9h-1.9zM1041.0 178.1h1.9v1.9h-1.9zM1053.8 178.4h1.9v1.9h-1.9zM1013.2 184.5h1.9v1.9h-1.9zM1033.1 156.6h1.9v1.9h-1.9zM1003.3 181.0h1.9v1.9h-1.9zM1008.0 171.3h1.9v1.9h-1.9zM1052.7 172.7h1.9v1.9h-1.9zM997.6 182.2h1.9v1.9h-1.9zM1021.5 167.0h1.9v1.9h-1.9zM1020.7 170.0h1.9v1.9h-1.9zM1017.4 160.6h1.9v1.9h-1.9zM1040.3 161.5h1.9v1.9h-1.9zM1007.4 194.1h1.9v1.9h-1.9zM1039.3 159.4h1.9v1.9h-1.9zM1007.1 184.5h1.9v1.9h-1.9zM1060.4 185.0h1.9v1.9h-1.9zM1027.8 125.2h1.9v1.9h-1.9zM1029.8 145.7h1.9v1.9h-1.9zM1032.2 164.0h1.9v1.9h-1.9zM1030.5 154.3h1.9v1.9h-1.9zM1002.7 181.1h1.9v1.9h-1.9zM1004.4 177.3h1.9v1.9h-1.9zM1010.5 175.5h1.9v1.9h-1.9zM1033.3 164.2h1.9v1.9h-1.9zM1043.9 155.5h1.9v1.9h-1.9zM1040.8 176.5h1.9v1.9h-1.9zM1005.7 165.4h1.9v1.9h-1.9zM1054.4 184.6h1.9v1.9h-1.9zM1010.5 170.5h1.9v1.9h-1.9zM1020.6 145.1h1.9v1.9h-1.9zM1027.4 169.7h1.9v1.9h-1.9zM1050.5 183.1h1.9v1.9h-1.9zM1007.2 179.2h1.9v1.9h-1.9zM1050.2 191.3h1.9v1.9h-1.9zM1002.3 186.6h1.9v1.9h-1.9zM1033.9 172.6h1.9v1.9h-1.9zM1000.5 184.9h1.9v1.9h-1.9zM1045.5 143.7h1.9v1.9h-1.9zM1030.3 144.3h1.9v1.9h-1.9zM1048.5 172.1h1.9v1.9h-1.9zM1053.6 171.9h1.9v1.9h-1.9zM1044.6 161.7h1.9v1.9h-1.9zM1023.5 159.9h1.9v1.9h-1.9zM997.0 184.2h1.9v1.9h-1.9zM1017.5 173.2h1.9v1.9h-1.9zM1024.8 166.3h1.9v1.9h-1.9zM1049.8 154.0h1.9v1.9h-1.9zM1008.2 159.1h1.9v1.9h-1.9zM1050.6 184.1h1.9v1.9h-1.9zM1046.4 157.3h1.9v1.9h-1.9zM1044.4 155.7h1.9v1.9h-1.9zM1036.6 169.3h1.9v1.9h-1.9zM1015.3 172.3h1.9v1.9h-1.9zM1038.0 126.2h1.9v1.9h-1.9zM1009.6 181.5h1.9v1.9h-1.9zM1040.0 181.4h1.9v1.9h-1.9zM1038.2 161.0h1.9v1.9h-1.9zM997.3 194.6h1.9v1.9h-1.9zM1012.8 190.2h1.9v1.9h-1.9zM1054.6 168.2h1.9v1.9h-1.9zM1008.1 170.4h1.9v1.9h-1.9zM1046.3 184.3h1.9v1.9h-1.9zM1050.8 177.6h1.9v1.9h-1.9zM1030.9 162.6h1.9v1.9h-1.9zM1057.6 204.8h1.9v1.9h-1.9zM1013.9 185.4h1.9v1.9h-1.9zM993.3 187.2h1.9v1.9h-1.9zM998.1 178.6h1.9v1.9h-1.9zM1040.8 158.5h1.9v1.9h-1.9zM1037.9 141.6h1.9v1.9h-1.9zM992.8 185.6h1.9v1.9h-1.9zM1022.4 121.2h1.9v1.9h-1.9zM1014.9 163.3h1.9v1.9h-1.9zM999.3 177.4h1.9v1.9h-1.9zM1009.3 184.5h1.9v1.9h-1.9zM1003.9 178.4h1.9v1.9h-1.9zM1022.0 167.4h1.9v1.9h-1.9zM1052.5 180.1h1.9v1.9h-1.9zM1042.1 155.6h1.9v1.9h-1.9zM1033.9 172.9h1.9v1.9h-1.9zM1008.6 160.9h1.9v1.9h-1.9zM1048.1 177.4h1.9v1.9h-1.9zM1037.9 129.3h1.9v1.9h-1.9zM1035.0 139.5h1.9v1.9h-1.9zM1052.0 177.1h1.9v1.9h-1.9zM1052.3 181.1h1.9v1.9h-1.9zM997.4 185.5h1.9v1.9h-1.9zM1059.1 181.4h1.9v1.9h-1.9zM1036.0 170.5h1.9v1.9h-1.9zM1006.3 180.6h1.9v1.9h-1.9zM1022.8 150.9h1.9v1.9h-1.9zM993.0 192.2h1.9v1.9h-1.9zM1049.3 171.3h1.9v1.9h-1.9zM1035.7 152.2h1.9v1.9h-1.9zM1044.2 180.2h1.9v1.9h-1.9zM1001.5 168.6h1.9v1.9h-1.9zM1036.9 157.1h1.9v1.9h-1.9zM1000.7 184.1h1.9v1.9h-1.9zM1033.5 158.7h1.9v1.9h-1.9zM1039.8 171.0h1.9v1.9h-1.9zM1022.9 144.4h1.9v1.9h-1.9zM995.4 188.2h1.9v1.9h-1.9zM1047.0 179.8h1.9v1.9h-1.9zM1058.3 172.0h1.9v1.9h-1.9zM1028.4 141.0h1.9v1.9h-1.9zM1002.6 183.2h1.9v1.9h-1.9zM1046.0 185.1h1.9v1.9h-1.9zM998.7 188.7h1.9v1.9h-1.9zM1006.7 179.2h1.9v1.9h-1.9zM1027.8 157.1h1.9v1.9h-1.9zM1014.2 160.7h1.9v1.9h-1.9z" fill="#ebd72d"/>
<path d="M1054.3 208.7h1.9v1.9h-1.9zM1023.2 175.1h1.9v1.9h-1.9zM1030.3 181.2h1.9v1.9h-1.9zM1030.3 184.1h1.9v1.9h-1.9zM1048.1 208.5h1.9v1.9h-1.9zM1001.9 198.9h1.9v1.9h-1.9zM1022.1 182.3h1.9v1.9h-1.9zM1005.8 206.4h1.9v1.9h-1.9zM1006.0 199.3h1.9v1.9h-1.9zM1020.6 181.2h1.9v1.9h-1.9zM1041.6 196.8h1.9v1.9h-1.9zM1010.6 203.5h1.9v1.9h-1.9zM999.5 187.5h1.9v1.9h-1.9zM1022.0 186.1h1.9v1.9h-1.9zM1008.7 196.5h1.9v1.9h-1.9zM1051.3 208.6h1.9v1.9h-1.9zM1054.4 194.2h1.9v1.9h-1.9zM1056.0 195.6h1.9v1.9h-1.9zM1011.4 208.2h1.9v1.9h-1.9zM1013.8 182.3h1.9v1.9h-1.9zM1023.2 186.9h1.9v1.9h-1.9zM1014.9 195.5h1.9v1.9h-1.9zM999.8 206.7h1.9v1.9h-1.9zM1015.3 188.8h1.9v1.9h-1.9zM1045.1 210.3h1.9v1.9h-1.9zM1047.6 201.1h1.9v1.9h-1.9zM1001.3 202.6h1.9v1.9h-1.9zM1011.2 205.7h1.9v1.9h-1.9zM1014.8 189.2h1.9v1.9h-1.9zM997.3 196.3h1.9v1.9h-1.9zM998.6 206.3h1.9v1.9h-1.9zM1036.6 182.0h1.9v1.9h-1.9zM1011.1 189.8h1.9v1.9h-1.9zM1006.5 196.5h1.9v1.9h-1.9zM1016.2 201.3h1.9v1.9h-1.9zM1039.5 193.1h1.9v1.9h-1.9zM1008.1 203.3h1.9v1.9h-1.9zM1011.7 205.5h1.9v1.9h-1.9zM1039.4 197.6h1.9v1.9h-1.9zM1020.0 184.1h1.9v1.9h-1.9zM1005.3 206.4h1.9v1.9h-1.9zM1006.6 202.2h1.9v1.9h-1.9zM1008.4 203.0h1.9v1.9h-1.9zM1001.7 193.7h1.9v1.9h-1.9zM1024.9 183.8h1.9v1.9h-1.9zM995.0 210.7h1.9v1.9h-1.9zM1036.8 189.9h1.9v1.9h-1.9zM1006.2 202.9h1.9v1.9h-1.9zM1010.6 206.7h1.9v1.9h-1.9zM1038.6 191.9h1.9v1.9h-1.9zM1006.3 206.9h1.9v1.9h-1.9zM1029.2 186.6h1.9v1.9h-1.9zM1018.1 196.2h1.9v1.9h-1.9zM1046.3 183.7h1.9v1.9h-1.9zM1005.2 202.3h1.9v1.9h-1.9zM997.1 205.8h1.9v1.9h-1.9zM1040.4 183.5h1.9v1.9h-1.9zM1035.8 188.2h1.9v1.9h-1.9zM1027.7 178.1h1.9v1.9h-1.9zM1049.0 191.2h1.9v1.9h-1.9zM1013.6 196.0h1.9v1.9h-1.9zM1039.6 193.7h1.9v1.9h-1.9zM1047.9 211.0h1.9v1.9h-1.9zM1031.8 188.0h1.9v1.9h-1.9zM1027.5 179.1h1.9v1.9h-1.9zM1033.6 175.4h1.9v1.9h-1.9zM1018.9 183.2h1.9v1.9h-1.9zM1052.3 193.4h1.9v1.9h-1.9zM1030.7 182.4h1.9v1.9h-1.9zM1050.5 208.8h1.9v1.9h-1.9zM1007.8 211.4h1.9v1.9h-1.9zM994.7 209.8h1.9v1.9h-1.9zM1011.8 203.0h1.9v1.9h-1.9zM1022.6 189.3h1.9v1.9h-1.9zM1016.3 197.9h1.9v1.9h-1.9zM1030.3 187.9h1.9v1.9h-1.9zM998.2 205.1h1.9v1.9h-1.9zM1050.1 203.8h1.9v1.9h-1.9zM1052.0 201.0h1.9v1.9h-1.9zM1049.8 209.0h1.9v1.9h-1.9zM1030.3 182.1h1.9v1.9h-1.9zM1045.9 204.6h1.9v1.9h-1.9zM1038.1 184.6h1.9v1.9h-1.9zM1052.9 199.0h1.9v1.9h-1.9zM1021.4 185.3h1.9v1.9h-1.9zM1046.6 189.9h1.9v1.9h-1.9zM1003.5 206.5h1.9v1.9h-1.9zM1031.1 177.8h1.9v1.9h-1.9zM1053.2 210.3h1.9v1.9h-1.9zM1014.2 199.8h1.9v1.9h-1.9zM1030.7 180.8h1.9v1.9h-1.9zM1002.6 209.4h1.9v1.9h-1.9zM1033.8 183.7h1.9v1.9h-1.9zM1040.7 191.8h1.9v1.9h-1.9zM1043.7 192.1h1.9v1.9h-1.9zM1015.6 184.2h1.9v1.9h-1.9zM1000.0 205.2h1.9v1.9h-1.9zM1015.2 188.9h1.9v1.9h-1.9zM1038.2 189.5h1.9v1.9h-1.9zM1008.4 201.1h1.9v1.9h-1.9zM1002.6 193.9h1.9v1.9h-1.9zM1011.4 190.8h1.9v1.9h-1.9zM1033.5 173.9h1.9v1.9h-1.9zM1037.4 182.0h1.9v1.9h-1.9zM1019.9 191.6h1.9v1.9h-1.9zM1008.1 207.9h1.9v1.9h-1.9zM1056.8 206.4h1.9v1.9h-1.9zM999.7 209.3h1.9v1.9h-1.9zM1045.0 196.6h1.9v1.9h-1.9zM993.1 186.5h1.9v1.9h-1.9zM1055.1 189.2h1.9v1.9h-1.9zM1044.9 200.7h1.9v1.9h-1.9zM1007.0 203.5h1.9v1.9h-1.9zM1011.4 186.8h1.9v1.9h-1.9zM993.9 206.6h1.9v1.9h-1.9zM1041.8 190.6h1.9v1.9h-1.9zM1015.4 177.9h1.9v1.9h-1.9zM1023.2 181.9h1.9v1.9h-1.9zM1030.4 177.9h1.9v1.9h-1.9zM1039.8 194.1h1.9v1.9h-1.9zM1016.1 185.8h1.9v1.9h-1.9zM1000.7 188.8h1.9v1.9h-1.9zM1012.6 190.2h1.9v1.9h-1.9zM1015.8 188.4h1.9v1.9h-1.9zM1017.3 191.8h1.9v1.9h-1.9zM1004.0 192.1h1.9v1.9h-1.9zM1049.2 207.4h1.9v1.9h-1.9zM1047.4 206.3h1.9v1.9h-1.9zM1051.5 205.6h1.9v1.9h-1.9zM1055.7 200.5h1.9v1.9h-1.9zM1037.7 187.5h1.9v1.9h-1.9zM1049.5 198.4h1.9v1.9h-1.9zM1016.8 189.9h1.9v1.9h-1.9zM1036.7 188.9h1.9v1.9h-1.9zM1040.6 194.2h1.9v1.9h-1.9zM1045.3 198.6h1.9v1.9h-1.9zM1057.5 190.7h1.9v1.9h-1.9zM1006.5 210.4h1.9v1.9h-1.9zM1051.7 187.5h1.9v1.9h-1.9zM1008.5 208.4h1.9v1.9h-1.9zM1031.3 185.8h1.9v1.9h-1.9zM1022.4 182.9h1.9v1.9h-1.9zM1016.1 187.3h1.9v1.9h-1.9zM1052.3 185.5h1.9v1.9h-1.9zM1021.0 185.9h1.9v1.9h-1.9zM991.2 190.0h1.9v1.9h-1.9zM1019.5 183.4h1.9v1.9h-1.9zM1036.2 186.9h1.9v1.9h-1.9zM1056.5 203.3h1.9v1.9h-1.9zM1026.3 190.5h1.9v1.9h-1.9zM1034.0 157.0h1.9v1.9h-1.9zM1033.3 177.5h1.9v1.9h-1.9zM1003.0 198.9h1.9v1.9h-1.9zM993.0 185.4h1.9v1.9h-1.9zM1019.7 182.0h1.9v1.9h-1.9zM1052.5 202.6h1.9v1.9h-1.9zM1007.6 215.9h1.9v1.9h-1.9zM1014.6 192.2h1.9v1.9h-1.9zM995.9 206.6h1.9v1.9h-1.9zM1047.8 214.6h1.9v1.9h-1.9z" fill="#ebc32d"/>
<path d="M1027.9 144.1h1.9v1.9h-1.9zM1046.6 163.2h1.9v1.9h-1.9zM1026.5 140.5h1.9v1.9h-1.9zM1017.0 142.4h1.9v1.9h-1.9zM1028.2 155.5h1.9v1.9h-1.9zM1038.2 167.7h1.9v1.9h-1.9zM1032.3 145.1h1.9v1.9h-1.9zM1012.7 162.0h1.9v1.9h-1.9zM1045.2 179.0h1.9v1.9h-1.9zM1024.3 149.4h1.9v1.9h-1.9zM1023.6 134.7h1.9v1.9h-1.9zM1020.4 168.0h1.9v1.9h-1.9zM1032.2 150.5h1.9v1.9h-1.9zM1033.4 127.0h1.9v1.9h-1.9zM1036.9 155.8h1.9v1.9h-1.9zM1032.2 167.8h1.9v1.9h-1.9zM1034.7 161.9h1.9v1.9h-1.9zM1050.7 173.6h1.9v1.9h-1.9zM1036.0 153.5h1.9v1.9h-1.9zM1043.3 140.2h1.9v1.9h-1.9zM1030.5 152.1h1.9v1.9h-1.9zM1021.0 155.9h1.9v1.9h-1.9zM1038.1 132.6h1.9v1.9h-1.9zM1004.3 178.9h1.9v1.9h-1.9zM1002.8 166.9h1.9v1.9h-1.9zM1041.4 145.8h1.9v1.9h-1.9zM1038.3 133.1h1.9v1.9h-1.9zM1042.2 141.6h1.9v1.9h-1.9zM1015.3 168.2h1.9v1.9h-1.9zM1022.0 171.7h1.9v1.9h-1.9zM1037.2 154.5h1.9v1.9h-1.9zM1029.5 152.0h1.9v1.9h-1.9zM1037.7 142.9h1.9v1.9h-1.9zM1011.1 173.7h1.9v1.9h-1.9zM1010.2 163.2h1.9v1.9h-1.9zM1018.6 154.5h1.9v1.9h-1.9zM1054.0 162.2h1.9v1.9h-1.9zM1047.0 143.6h1.9v1.9h-1.9zM1014.1 154.9h1.9v1.9h-1.9zM1005.5 167.0h1.9v1.9h-1.9zM1041.3 161.5h1.9v1.9h-1.9zM1029.1 121.0h1.9v1.9h-1.9zM1030.6 134.6h1.9v1.9h-1.9zM1036.8 152.3h1.9v1.9h-1.9zM1026.8 126.1h1.9v1.9h-1.9zM1023.7 162.0h1.9v1.9h-1.9zM1034.4 170.7h1.9v1.9h-1.9zM1025.0 147.1h1.9v1.9h-1.9zM1029.9 143.9h1.9v1.9h-1.9zM1042.0 129.1h1.9v1.9h-1.9zM1036.4 126.4h1.9v1.9h-1.9zM1005.0 170.3h1.9v1.9h-1.9zM1040.9 162.1h1.9v1.9h-1.9zM1023.6 141.0h1.9v1.9h-1.9zM1026.2 160.0h1.9v1.9h-1.9zM1019.3 129.1h1.9v1.9h-1.9zM1045.1 161.1h1.9v1.9h-1.9zM1059.0 182.8h1.9v1.9h-1.9zM1033.9 158.4h1.9v1.9h-1.9zM1030.8 146.1h1.9v1.9h-1.9zM1049.8 152.4h1.9v1.9h-1.9zM1042.9 143.8h1.9v1.9h-1.9zM1028.2 169.5h1.9v1.9h-1.9zM1031.9 137.3h1.9v1.9h-1.9zM1041.9 156.5h1.9v1.9h-1.9zM1009.2 172.7h1.9v1.9h-1.9zM1032.5 129.4h1.9v1.9h-1.9zM1015.8 165.4h1.9v1.9h-1.9zM1040.4 150.3h1.9v1.9h-1.9zM1050.2 165.9h1.9v1.9h-1.9zM1031.0 159.4h1.9v1.9h-1.9zM1018.4 131.5h1.9v1.9h-1.9zM1059.3 189.1h1.9v1.9h-1.9zM1025.7 144.9h1.9v1.9h-1.9zM1032.2 150.8h1.9v1.9h-1.9zM1018.5 139.5h1.9v1.9h-1.9zM1023.2 171.9h1.9v1.9h-1.9zM1045.7 136.3h1.9v1.9h-1.9zM1047.0 143.2h1.9v1.9h-1.9zM1015.0 173.1h1.9v1.9h-1.9zM1053.7 172.2h1.9v1.9h-1.9zM1036.1 145.4h1.9v1.9h-1.9zM1023.6 165.7h1.9v1.9h-1.9zM1039.4 166.0h1.9v1.9h-1.9zM1025.2 167.6h1.9v1.9h-1.9zM1052.5 184.0h1.9v1.9h-1.9zM1035.3 118.2h1.9v1.9h-1.9zM1025.9 149.5h1.9v1.9h-1.9zM998.7 173.2h1.9v1.9h-1.9zM1007.9 174.8h1.9v1.9h-1.9zM1044.5 169.6h1.9v1.9h-1.9zM1031.3 156.4h1.9v1.9h-1.9zM1028.5 138.5h1.9v1.9h-1.9zM1045.4 138.6h1.9v1.9h-1.9zM1021.9 163.6h1.9v1.9h-1.9zM1044.3 133.8h1.9v1.9h-1.9zM1050.3 159.8h1.9v1.9h-1.9zM998.2 179.0h1.9v1.9h-1.9zM1051.0 165.3h1.9v1.9h-1.9zM1032.7 144.3h1.9v1.9h-1.9zM1035.8 154.4h1.9v1.9h-1.9zM1017.8 164.2h1.9v1.9h-1.9zM1010.5 168.8h1.9v1.9h-1.9zM1006.0 170.9h1.9v1.9h-1.9zM1050.0 156.9h1.9v1.9h-1.9zM1051.5 164.9h1.9v1.9h-1.9zM1058.8 171.7h1.9v1.9h-1.9zM1049.2 171.8h1.9v1.9h-1.9zM1046.5 175.5h1.9v1.9h-1.9zM1026.6 122.8h1.9v1.9h-1.9zM1043.0 147.8h1.9v1.9h-1.9zM1036.4 181.2h1.9v1.9h-1.9zM1037.7 134.0h1.9v1.9h-1.9zM1046.6 157.0h1.9v1.9h-1.9zM1019.2 135.3h1.9v1.9h-1.9zM1037.5 166.4h1.9v1.9h-1.9zM1028.2 113.4h1.9v1.9h-1.9zM1022.4 144.6h1.9v1.9h-1.9zM1034.8 115.4h1.9v1.9h-1.9zM1017.9 131.6h1.9v1.9h-1.9zM1047.3 170.2h1.9v1.9h-1.9zM1029.3 124.9h1.9v1.9h-1.9zM1019.7 130.7h1.9v1.9h-1.9zM1032.8 128.3h1.9v1.9h-1.9zM1031.5 117.9h1.9v1.9h-1.9zM1053.6 171.0h1.9v1.9h-1.9zM1019.4 167.1h1.9v1.9h-1.9zM1035.8 123.3h1.9v1.9h-1.9zM1006.3 180.9h1.9v1.9h-1.9zM1005.2 165.7h1.9v1.9h-1.9zM1029.6 118.5h1.9v1.9h-1.9zM1026.5 166.0h1.9v1.9h-1.9zM1042.7 129.6h1.9v1.9h-1.9zM1020.8 143.4h1.9v1.9h-1.9zM1033.1 152.6h1.9v1.9h-1.9zM1034.9 116.7h1.9v1.9h-1.9zM1012.0 154.4h1.9v1.9h-1.9zM1041.8 151.2h1.9v1.9h-1.9zM1015.9 145.6h1.9v1.9h-1.9zM1020.8 147.2h1.9v1.9h-1.9zM1035.4 135.5h1.9v1.9h-1.9zM1029.9 121.8h1.9v1.9h-1.9zM1035.5 119.8h1.9v1.9h-1.9zM1057.4 184.7h1.9v1.9h-1.9zM1031.7 145.8h1.9v1.9h-1.9zM1047.1 157.5h1.9v1.9h-1.9zM1037.3 131.2h1.9v1.9h-1.9zM1038.1 157.7h1.9v1.9h-1.9zM1011.3 156.7h1.9v1.9h-1.9zM1012.5 178.9h1.9v1.9h-1.9zM1035.0 147.4h1.9v1.9h-1.9zM1030.4 147.8h1.9v1.9h-1.9zM1031.5 165.9h1.9v1.9h-1.9zM1021.9 162.4h1.9v1.9h-1.9zM999.7 181.0h1.9v1.9h-1.9zM1045.1 135.8h1.9v1.9h-1.9zM1026.9 156.6h1.9v1.9h-1.9zM1012.7 184.6h1.9v1.9h-1.9zM1007.0 178.0h1.9v1.9h-1.9zM1012.5 181.1h1.9v1.9h-1.9zM1020.8 154.5h1.9v1.9h-1.9zM1042.5 156.7h1.9v1.9h-1.9zM1053.8 158.1h1.9v1.9h-1.9zM1023.8 150.1h1.9v1.9h-1.9zM1018.7 135.9h1.9v1.9h-1.9zM1051.7 156.7h1.9v1.9h-1.9zM1028.2 158.2h1.9v1.9h-1.9zM1037.6 168.3h1.9v1.9h-1.9zM1034.2 150.5h1.9v1.9h-1.9zM1024.9 122.2h1.9v1.9h-1.9zM1037.9 125.0h1.9v1.9h-1.9zM1020.8 128.3h1.9v1.9h-1.9zM1028.5 137.2h1.9v1.9h-1.9zM1043.6 140.7h1.9v1.9h-1.9zM1021.9 151.3h1.9v1.9h-1.9zM1021.2 127.3h1.9v1.9h-1.9zM1054.7 175.0h1.9v1.9h-1.9zM1030.1 131.6h1.9v1.9h-1.9zM1034.6 143.8h1.9v1.9h-1.9zM1025.0 163.7h1.9v1.9h-1.9zM1027.5 147.3h1.9v1.9h-1.9zM1042.2 154.4h1.9v1.9h-1.9zM1020.8 130.4h1.9v1.9h-1.9zM1051.0 149.9h1.9v1.9h-1.9zM1041.8 128.6h1.9v1.9h-1.9zM1032.3 154.1h1.9v1.9h-1.9zM1030.3 137.0h1.9v1.9h-1.9zM1045.6 157.2h1.9v1.9h-1.9zM1013.0 157.3h1.9v1.9h-1.9zM1026.5 163.6h1.9v1.9h-1.9zM1032.9 115.0h1.9v1.9h-1.9zM1040.3 128.4h1.9v1.9h-1.9zM1054.4 160.2h1.9v1.9h-1.9zM1024.9 143.2h1.9v1.9h-1.9zM1056.6 182.8h1.9v1.9h-1.9zM1051.9 168.4h1.9v1.9h-1.9zM1057.0 184.9h1.9v1.9h-1.9zM1009.3 163.5h1.9v1.9h-1.9zM1042.7 141.6h1.9v1.9h-1.9zM998.4 175.7h1.9v1.9h-1.9zM1019.2 153.3h1.9v1.9h-1.9zM1036.8 123.8h1.9v1.9h-1.9zM1033.9 168.8h1.9v1.9h-1.9zM1033.5 130.6h1.9v1.9h-1.9zM1056.6 170.1h1.9v1.9h-1.9zM1004.6 170.0h1.9v1.9h-1.9zM1004.4 167.4h1.9v1.9h-1.9zM1046.9 175.2h1.9v1.9h-1.9zM1033.0 114.2h1.9v1.9h-1.9zM1021.5 148.2h1.9v1.9h-1.9zM1043.6 139.9h1.9v1.9h-1.9zM1008.1 167.9h1.9v1.9h-1.9zM1036.2 158.8h1.9v1.9h-1.9zM1036.3 135.8h1.9v1.9h-1.9zM1027.0 116.5h1.9v1.9h-1.9zM1039.8 141.0h1.9v1.9h-1.9zM999.9 182.6h1.9v1.9h-1.9zM1035.7 154.8h1.9v1.9h-1.9zM1024.9 149.7h1.9v1.9h-1.9zM1038.5 121.3h1.9v1.9h-1.9zM1049.1 157.6h1.9v1.9h-1.9zM1021.0 145.9h1.9v1.9h-1.9zM1048.8 150.4h1.9v1.9h-1.9zM1020.8 134.5h1.9v1.9h-1.9z" fill="#e1d737"/>
<path d="M1032.0 186.8h1.9v1.9h-1.9zM1008.3 212.0h1.9v1.9h-1.9zM1025.1 192.0h1.9v1.9h-1.9zM1037.2 193.4h1.9v1.9h-1.9zM1005.1 209.3h1.9v1.9h-1.9zM999.0 209.4h1.9v1.9h-1.9zM1019.1 197.8h1.9v1.9h-1.9zM1034.2 188.6h1.9v1.9h-1.9zM1012.9 210.0h1.9v1.9h-1.9zM1015.1 204.6h1.9v1.9h-1.9zM1036.9 191.4h1.9v1.9h-1.9zM1032.7 194.9h1.9v1.9h-1.9zM1022.8 192.3h1.9v1.9h-1.9zM1039.2 195.1h1.9v1.9h-1.9zM1018.0 197.6h1.9v1.9h-1.9zM1042.9 213.8h1.9v1.9h-1.9zM1012.6 202.7h1.9v1.9h-1.9zM1012.7 217.8h1.9v1.9h-1.9zM1051.5 212.9h1.9v1.9h-1.9zM1004.2 210.4h1.9v1.9h-1.9zM1007.8 204.6h1.9v1.9h-1.9zM1018.0 196.0h1.9v1.9h-1.9zM1033.0 207.3h1.9v1.9h-1.9zM1037.5 191.1h1.9v1.9h-1.9zM1008.6 213.2h1.9v1.9h-1.9zM1020.7 194.6h1.9v1.9h-1.9zM1042.4 201.8h1.9v1.9h-1.9zM1013.6 204.9h1.9v1.9h-1.9zM1010.6 207.3h1.9v1.9h-1.9zM1016.3 196.2h1.9v1.9h-1.9zM1031.6 188.1h1.9v1.9h-1.9zM1011.0 202.9h1.9v1.9h-1.9zM1038.8 196.3h1.9v1.9h-1.9zM1021.7 200.3h1.9v1.9h-1.9zM1018.2 201.5h1.9v1.9h-1.9zM1004.7 209.1h1.9v1.9h-1.9zM1024.7 187.4h1.9v1.9h-1.9zM1019.3 201.5h1.9v1.9h-1.9zM999.0 214.4h1.9v1.9h-1.9zM1042.6 200.6h1.9v1.9h-1.9zM1006.3 212.2h1.9v1.9h-1.9zM1000.2 216.0h1.9v1.9h-1.9zM1039.9 193.4h1.9v1.9h-1.9zM1021.3 190.7h1.9v1.9h-1.9zM1027.1 188.1h1.9v1.9h-1.9zM1013.4 215.7h1.9v1.9h-1.9zM1018.0 214.3h1.9v1.9h-1.9zM1019.3 191.9h1.9v1.9h-1.9zM1039.1 196.1h1.9v1.9h-1.9zM1011.6 203.0h1.9v1.9h-1.9zM1027.4 197.1h1.9v1.9h-1.9zM1000.3 216.2h1.9v1.9h-1.9zM1023.3 196.7h1.9v1.9h-1.9zM1014.6 205.5h1.9v1.9h-1.9zM1015.4 195.3h1.9v1.9h-1.9zM998.6 214.0h1.9v1.9h-1.9zM1018.5 195.9h1.9v1.9h-1.9zM995.9 216.7h1.9v1.9h-1.9zM1019.2 191.8h1.9v1.9h-1.9zM1023.6 188.7h1.9v1.9h-1.9zM1014.6 207.2h1.9v1.9h-1.9zM1011.8 204.9h1.9v1.9h-1.9zM1018.5 191.4h1.9v1.9h-1.9zM1015.9 195.2h1.9v1.9h-1.9zM991.9 233.5h1.9v1.9h-1.9zM992.3 225.3h1.9v1.9h-1.9zM991.7 211.9h1.9v1.9h-1.9zM992.4 234.3h1.9v1.9h-1.9zM992.2 209.4h1.9v1.9h-1.9zM991.8 222.6h1.9v1.9h-1.9zM991.2 223.9h1.9v1.9h-1.9zM992.2 201.8h1.9v1.9h-1.9zM992.3 226.7h1.9v1.9h-1.9zM991.6 226.8h1.9v1.9h-1.9zM992.0 219.1h1.9v1.9h-1.9zM992.5 225.3h1.9v1.9h-1.9zM991.9 199.5h1.9v1.9h-1.9zM992.8 202.9h1.9v1.9h-1.9z" fill="#f5b937"/>
<path d="M1048.6 175.0h1.9v1.9h-1.9zM1014.5 201.0h1.9v1.9h-1.9zM1011.2 178.5h1.9v1.9h-1.9zM1039.9 186.9h1.9v1.9h-1.9zM997.5 190.3h1.9v1.9h-1.9zM1058.0 193.3h1.9v1.9h-1.9zM1047.9 186.3h1.9v1.9h-1.9zM999.4 196.4h1.9v1.9h-1.9zM1012.3 184.7h1.9v1.9h-1.9zM1048.2 183.4h1.9v1.9h-1.9zM1029.2 179.7h1.9v1.9h-1.9zM1017.8 182.2h1.9v1.9h-1.9zM1050.8 181.1h1.9v1.9h-1.9zM1026.4 142.9h1.9v1.9h-1.9zM1043.4 175.1h1.9v1.9h-1.9zM1039.0 182.8h1.9v1.9h-1.9zM1047.5 161.6h1.9v1.9h-1.9zM1044.8 180.5h1.9v1.9h-1.9zM1001.6 181.3h1.9v1.9h-1.9zM1053.5 200.7h1.9v1.9h-1.9zM1042.3 173.5h1.9v1.9h-1.9zM1011.4 189.2h1.9v1.9h-1.9zM1001.3 179.1h1.9v1.9h-1.9zM1007.0 203.2h1.9v1.9h-1.9zM1004.8 196.2h1.9v1.9h-1.9zM1036.0 175.1h1.9v1.9h-1.9zM1005.2 164.3h1.9v1.9h-1.9zM1018.9 181.9h1.9v1.9h-1.9zM1023.9 175.4h1.9v1.9h-1.9zM1016.0 191.5h1.9v1.9h-1.9zM1022.6 167.8h1.9v1.9h-1.9zM1012.3 185.7h1.9v1.9h-1.9zM994.9 183.3h1.9v1.9h-1.9zM997.9 191.6h1.9v1.9h-1.9zM1033.3 183.6h1.9v1.9h-1.9zM1052.6 176.8h1.9v1.9h-1.9zM1045.4 182.8h1.9v1.9h-1.9zM1038.4 173.5h1.9v1.9h-1.9zM1004.2 188.9h1.9v1.9h-1.9zM1003.6 187.6h1.9v1.9h-1.9zM1029.6 159.1h1.9v1.9h-1.9zM1024.4 174.4h1.9v1.9h-1.9zM1020.7 175.7h1.9v1.9h-1.9zM1042.2 174.8h1.9v1.9h-1.9zM1002.0 197.2h1.9v1.9h-1.9zM1027.5 173.7h1.9v1.9h-1.9zM992.9 184.8h1.9v1.9h-1.9zM1019.2 182.1h1.9v1.9h-1.9zM1000.3 186.2h1.9v1.9h-1.9zM1028.4 161.2h1.9v1.9h-1.9zM1048.4 207.8h1.9v1.9h-1.9zM1006.2 177.2h1.9v1.9h-1.9zM1030.4 170.5h1.9v1.9h-1.9zM1030.1 179.8h1.9v1.9h-1.9zM991.5 190.6h1.9v1.9h-1.9zM1044.5 197.3h1.9v1.9h-1.9zM1054.8 190.6h1.9v1.9h-1.9zM1042.9 175.2h1.9v1.9h-1.9zM1004.7 164.5h1.9v1.9h-1.9zM1029.7 135.3h1.9v1.9h-1.9zM1015.0 186.8h1.9v1.9h-1.9zM1040.2 176.4h1.9v1.9h-1.9zM1018.3 170.5h1.9v1.9h-1.9zM1012.9 180.7h1.9v1.9h-1.9zM1018.7 162.6h1.9v1.9h-1.9zM1013.2 181.2h1.9v1.9h-1.9zM1011.0 173.3h1.9v1.9h-1.9zM1045.9 164.3h1.9v1.9h-1.9zM1038.5 176.2h1.9v1.9h-1.9zM1015.2 182.9h1.9v1.9h-1.9zM1002.3 196.8h1.9v1.9h-1.9zM1059.0 188.9h1.9v1.9h-1.9zM1013.2 171.6h1.9v1.9h-1.9zM1051.4 171.2h1.9v1.9h-1.9zM1028.3 173.4h1.9v1.9h-1.9zM1052.0 196.2h1.9v1.9h-1.9zM1036.4 181.6h1.9v1.9h-1.9zM1040.7 180.4h1.9v1.9h-1.9zM1026.1 152.3h1.9v1.9h-1.9zM1033.7 182.3h1.9v1.9h-1.9zM1050.8 189.7h1.9v1.9h-1.9zM1042.9 189.5h1.9v1.9h-1.9zM1000.6 189.0h1.9v1.9h-1.9zM1034.9 168.7h1.9v1.9h-1.9zM1054.4 199.2h1.9v1.9h-1.9zM1003.7 187.6h1.9v1.9h-1.9zM1001.6 201.3h1.9v1.9h-1.9zM1058.1 193.0h1.9v1.9h-1.9zM1060.1 193.4h1.9v1.9h-1.9zM1049.8 176.1h1.9v1.9h-1.9zM1028.2 174.7h1.9v1.9h-1.9zM1007.3 196.9h1.9v1.9h-1.9zM1048.3 171.2h1.9v1.9h-1.9zM1051.7 191.0h1.9v1.9h-1.9zM1044.9 188.3h1.9v1.9h-1.9zM1018.0 168.3h1.9v1.9h-1.9zM1048.2 181.4h1.9v1.9h-1.9zM1048.9 206.0h1.9v1.9h-1.9zM1027.8 174.9h1.9v1.9h-1.9zM1001.9 196.6h1.9v1.9h-1.9zM1007.9 174.4h1.9v1.9h-1.9zM999.6 170.3h1.9v1.9h-1.9zM1057.5 190.0h1.9v1.9h-1.9zM1023.5 179.1h1.9v1.9h-1.9zM1014.4 190.6h1.9v1.9h-1.9zM1009.0 163.2h1.9v1.9h-1.9zM1009.8 187.2h1.9v1.9h-1.9zM1053.0 174.2h1.9v1.9h-1.9zM1042.5 179.5h1.9v1.9h-1.9zM1003.1 180.1h1.9v1.9h-1.9zM1040.2 168.5h1.9v1.9h-1.9zM1015.1 180.5h1.9v1.9h-1.9zM993.3 194.7h1.9v1.9h-1.9zM1053.3 177.2h1.9v1.9h-1.9zM1038.3 176.9h1.9v1.9h-1.9zM1057.3 196.6h1.9v1.9h-1.9zM1001.6 190.0h1.9v1.9h-1.9zM1054.9 187.6h1.9v1.9h-1.9zM1044.4 184.4h1.9v1.9h-1.9zM1045.9 182.4h1.9v1.9h-1.9zM1056.6 184.5h1.9v1.9h-1.9zM993.4 194.3h1.9v1.9h-1.9zM1032.6 177.4h1.9v1.9h-1.9zM1015.9 184.8h1.9v1.9h-1.9zM997.3 182.4h1.9v1.9h-1.9zM1045.4 181.6h1.9v1.9h-1.9zM1057.2 179.1h1.9v1.9h-1.9zM1008.5 179.3h1.9v1.9h-1.9zM1005.7 198.9h1.9v1.9h-1.9zM1008.1 202.7h1.9v1.9h-1.9zM1003.7 195.0h1.9v1.9h-1.9zM1059.3 189.5h1.9v1.9h-1.9zM997.8 189.3h1.9v1.9h-1.9zM1023.8 161.7h1.9v1.9h-1.9zM1054.8 191.3h1.9v1.9h-1.9zM998.1 204.2h1.9v1.9h-1.9zM995.1 194.7h1.9v1.9h-1.9zM1055.9 163.8h1.9v1.9h-1.9zM1012.3 173.3h1.9v1.9h-1.9zM1003.5 167.5h1.9v1.9h-1.9zM1059.2 192.1h1.9v1.9h-1.9zM1057.2 196.7h1.9v1.9h-1.9zM1047.8 197.3h1.9v1.9h-1.9zM1060.5 192.3h1.9v1.9h-1.9zM1047.6 145.5h1.9v1.9h-1.9zM1053.5 179.8h1.9v1.9h-1.9zM1050.5 206.3h1.9v1.9h-1.9zM1001.5 196.9h1.9v1.9h-1.9zM1025.1 169.7h1.9v1.9h-1.9zM1058.3 178.9h1.9v1.9h-1.9zM1043.1 161.0h1.9v1.9h-1.9zM1003.4 208.9h1.9v1.9h-1.9zM1055.0 197.8h1.9v1.9h-1.9zM1045.6 195.1h1.9v1.9h-1.9zM1051.7 199.1h1.9v1.9h-1.9zM1040.4 173.7h1.9v1.9h-1.9zM997.2 176.2h1.9v1.9h-1.9zM1033.0 172.3h1.9v1.9h-1.9zM1049.9 168.3h1.9v1.9h-1.9zM1020.4 174.8h1.9v1.9h-1.9zM1009.9 198.7h1.9v1.9h-1.9zM1059.1 176.8h1.9v1.9h-1.9zM1015.6 177.7h1.9v1.9h-1.9zM1026.9 124.9h1.9v1.9h-1.9zM1041.4 183.1h1.9v1.9h-1.9zM1050.6 197.1h1.9v1.9h-1.9zM1002.1 180.8h1.9v1.9h-1.9zM1057.0 191.7h1.9v1.9h-1.9zM1017.5 180.4h1.9v1.9h-1.9zM1012.2 188.4h1.9v1.9h-1.9zM997.0 190.3h1.9v1.9h-1.9zM1008.1 169.5h1.9v1.9h-1.9zM1005.0 172.7h1.9v1.9h-1.9zM1003.9 207.8h1.9v1.9h-1.9zM1048.4 199.7h1.9v1.9h-1.9zM999.8 191.5h1.9v1.9h-1.9zM1001.2 189.3h1.9v1.9h-1.9zM1042.4 160.0h1.9v1.9h-1.9zM1053.1 191.8h1.9v1.9h-1.9zM1056.0 195.6h1.9v1.9h-1.9zM1038.0 178.8h1.9v1.9h-1.9zM1004.0 176.2h1.9v1.9h-1.9zM1034.7 178.5h1.9v1.9h-1.9zM1036.6 179.3h1.9v1.9h-1.9zM998.7 177.0h1.9v1.9h-1.9zM1025.6 171.2h1.9v1.9h-1.9zM1002.2 172.2h1.9v1.9h-1.9zM1008.2 186.6h1.9v1.9h-1.9zM1003.0 194.6h1.9v1.9h-1.9zM1013.1 184.7h1.9v1.9h-1.9zM1051.2 201.1h1.9v1.9h-1.9zM997.5 190.9h1.9v1.9h-1.9zM1008.5 192.9h1.9v1.9h-1.9zM999.8 194.4h1.9v1.9h-1.9zM1054.9 190.8h1.9v1.9h-1.9zM1048.3 206.7h1.9v1.9h-1.9zM999.2 194.8h1.9v1.9h-1.9zM1051.9 175.2h1.9v1.9h-1.9zM1023.9 174.8h1.9v1.9h-1.9zM1057.7 190.2h1.9v1.9h-1.9zM1048.1 186.9h1.9v1.9h-1.9zM1008.0 205.6h1.9v1.9h-1.9zM1044.6 156.3h1.9v1.9h-1.9zM1037.3 181.1h1.9v1.9h-1.9zM1036.3 156.4h1.9v1.9h-1.9zM1056.6 195.3h1.9v1.9h-1.9zM1014.3 185.0h1.9v1.9h-1.9zM1043.8 168.8h1.9v1.9h-1.9zM1027.3 173.8h1.9v1.9h-1.9zM1021.5 176.2h1.9v1.9h-1.9zM1038.6 184.7h1.9v1.9h-1.9zM1055.1 164.9h1.9v1.9h-1.9zM1055.1 176.4h1.9v1.9h-1.9zM1056.0 186.4h1.9v1.9h-1.9zM1014.2 164.1h1.9v1.9h-1.9zM1009.2 197.0h1.9v1.9h-1.9zM1053.8 197.2h1.9v1.9h-1.9zM1022.7 178.0h1.9v1.9h-1.9zM1032.0 175.0h1.9v1.9h-1.9zM1018.4 182.5h1.9v1.9h-1.9zM1051.8 206.0h1.9v1.9h-1.9zM1051.7 172.9h1.9v1.9h-1.9zM1046.3 196.3h1.9v1.9h-1.9zM1057.2 200.9h1.9v1.9h-1.9zM1020.3 178.6h1.9v1.9h-1.9zM1015.9 171.5h1.9v1.9h-1.9zM1021.5 177.1h1.9v1.9h-1.9zM1046.9 191.4h1.9v1.9h-1.9zM1025.4 176.0h1.9v1.9h-1.9zM1008.1 201.6h1.9v1.9h-1.9zM1011.2 192.1h1.9v1.9h-1.9zM1009.7 168.2h1.9v1.9h-1.9zM1001.6 195.3h1.9v1.9h-1.9zM995.5 194.3h1.9v1.9h-1.9zM1046.2 186.9h1.9v1.9h-1.9zM1044.7 179.1h1.9v1.9h-1.9zM1011.2 189.1h1.9v1.9h-1.9zM1011.6 186.5h1.9v1.9h-1.9zM1035.7 170.5h1.9v1.9h-1.9zM1056.1 193.3h1.9v1.9h-1.9zM1040.5 176.0h1.9v1.9h-1.9zM1006.4 194.1h1.9v1.9h-1.9zM1010.9 188.8h1.9v1.9h-1.9zM1045.2 185.4h1.9v1.9h-1.9zM1014.8 175.6h1.9v1.9h-1.9zM1057.5 185.6h1.9v1.9h-1.9zM1046.2 181.3h1.9v1.9h-1.9zM1037.3 184.9h1.9v1.9h-1.9zM1012.3 182.9h1.9v1.9h-1.9zM1028.4 174.5h1.9v1.9h-1.9z" fill="#ebcd2d"/>
<path d="M1021.8 194.9h1.9v1.9h-1.9zM1030.6 191.5h1.9v1.9h-1.9zM1036.8 199.4h1.9v1.9h-1.9zM1042.2 213.6h1.9v1.9h-1.9zM1021.6 207.7h1.9v1.9h-1.9zM1021.7 200.9h1.9v1.9h-1.9zM1036.2 203.3h1.9v1.9h-1.9zM1046.0 211.2h1.9v1.9h-1.9zM1014.9 205.7h1.9v1.9h-1.9zM1041.2 207.7h1.9v1.9h-1.9zM1042.7 217.9h1.9v1.9h-1.9zM1023.4 195.6h1.9v1.9h-1.9zM996.7 214.9h1.9v1.9h-1.9zM1021.8 189.8h1.9v1.9h-1.9zM1006.9 213.3h1.9v1.9h-1.9zM1012.8 203.0h1.9v1.9h-1.9zM1007.3 222.7h1.9v1.9h-1.9zM1021.4 202.2h1.9v1.9h-1.9zM1009.4 218.5h1.9v1.9h-1.9zM1026.4 191.2h1.9v1.9h-1.9zM1024.4 194.2h1.9v1.9h-1.9zM1026.5 199.0h1.9v1.9h-1.9zM1002.9 221.2h1.9v1.9h-1.9zM1013.2 216.0h1.9v1.9h-1.9zM1036.7 198.6h1.9v1.9h-1.9zM1038.8 201.4h1.9v1.9h-1.9zM1036.4 204.1h1.9v1.9h-1.9zM1035.0 198.3h1.9v1.9h-1.9zM1005.2 214.1h1.9v1.9h-1.9zM1012.6 211.0h1.9v1.9h-1.9zM1005.2 225.3h1.9v1.9h-1.9zM997.5 217.6h1.9v1.9h-1.9zM1032.7 194.8h1.9v1.9h-1.9zM1035.9 201.8h1.9v1.9h-1.9zM1043.9 215.7h1.9v1.9h-1.9zM1014.4 202.4h1.9v1.9h-1.9zM1040.6 210.0h1.9v1.9h-1.9zM1036.6 221.7h1.9v1.9h-1.9zM1020.2 194.1h1.9v1.9h-1.9zM1029.9 195.5h1.9v1.9h-1.9zM1026.3 200.7h1.9v1.9h-1.9zM1010.6 221.9h1.9v1.9h-1.9zM1021.3 230.1h1.9v1.9h-1.9zM1017.4 202.2h1.9v1.9h-1.9zM1014.3 206.1h1.9v1.9h-1.9zM1041.7 220.4h1.9v1.9h-1.9zM1005.8 216.5h1.9v1.9h-1.9zM1001.2 223.2h1.9v1.9h-1.9zM1020.9 217.3h1.9v1.9h-1.9zM1025.4 195.1h1.9v1.9h-1.9zM1007.9 218.5h1.9v1.9h-1.9zM1018.0 208.7h1.9v1.9h-1.9zM1016.7 205.9h1.9v1.9h-1.9zM1044.8 210.7h1.9v1.9h-1.9zM1017.0 208.0h1.9v1.9h-1.9zM1016.1 199.2h1.9v1.9h-1.9zM1021.9 195.0h1.9v1.9h-1.9zM1030.8 191.1h1.9v1.9h-1.9zM1035.2 193.6h1.9v1.9h-1.9zM1019.4 198.8h1.9v1.9h-1.9zM1000.7 222.3h1.9v1.9h-1.9zM1040.5 205.0h1.9v1.9h-1.9zM998.0 218.2h1.9v1.9h-1.9zM1021.4 206.4h1.9v1.9h-1.9zM1033.3 203.6h1.9v1.9h-1.9zM994.7 212.5h1.9v1.9h-1.9zM1032.5 202.9h1.9v1.9h-1.9zM1049.0 213.4h1.9v1.9h-1.9zM1014.0 211.1h1.9v1.9h-1.9zM1016.1 199.6h1.9v1.9h-1.9zM1047.1 217.2h1.9v1.9h-1.9zM1016.8 202.3h1.9v1.9h-1.9zM1019.9 201.2h1.9v1.9h-1.9zM1024.4 196.4h1.9v1.9h-1.9zM1012.7 215.3h1.9v1.9h-1.9zM1043.7 213.8h1.9v1.9h-1.9zM1043.1 215.4h1.9v1.9h-1.9zM997.3 209.3h1.9v1.9h-1.9zM1029.7 191.5h1.9v1.9h-1.9zM1002.5 224.0h1.9v1.9h-1.9zM1015.1 193.4h1.9v1.9h-1.9zM999.2 215.6h1.9v1.9h-1.9zM1031.2 190.2h1.9v1.9h-1.9zM1019.5 203.1h1.9v1.9h-1.9zM1041.2 216.1h1.9v1.9h-1.9zM1002.1 211.8h1.9v1.9h-1.9zM1044.3 213.7h1.9v1.9h-1.9zM1035.4 200.9h1.9v1.9h-1.9zM1008.9 224.0h1.9v1.9h-1.9zM1044.7 208.5h1.9v1.9h-1.9zM1014.6 216.1h1.9v1.9h-1.9zM1024.6 212.2h1.9v1.9h-1.9zM1003.0 220.8h1.9v1.9h-1.9zM1007.6 218.6h1.9v1.9h-1.9zM1021.2 203.0h1.9v1.9h-1.9zM1040.7 214.1h1.9v1.9h-1.9zM1027.7 191.5h1.9v1.9h-1.9zM1020.0 193.2h1.9v1.9h-1.9zM1010.1 214.0h1.9v1.9h-1.9zM1043.6 213.2h1.9v1.9h-1.9zM1013.3 215.6h1.9v1.9h-1.9zM1039.4 221.5h1.9v1.9h-1.9zM1021.8 191.5h1.9v1.9h-1.9zM1017.9 205.5h1.9v1.9h-1.9zM1032.8 194.0h1.9v1.9h-1.9zM1013.0 203.6h1.9v1.9h-1.9zM1026.5 194.1h1.9v1.9h-1.9zM1033.9 202.1h1.9v1.9h-1.9zM1024.7 191.4h1.9v1.9h-1.9zM1039.8 189.7h1.9v1.9h-1.9zM1041.9 210.0h1.9v1.9h-1.9zM1041.2 210.5h1.9v1.9h-1.9zM1018.7 218.5h1.9v1.9h-1.9zM1029.1 195.6h1.9v1.9h-1.9zM1047.3 216.0h1.9v1.9h-1.9zM996.5 215.8h1.9v1.9h-1.9zM1033.8 188.4h1.9v1.9h-1.9zM1032.3 196.5h1.9v1.9h-1.9zM1041.1 209.1h1.9v1.9h-1.9z" fill="#f5af37"/>
<path d="M1027.2 138.1h1.9v1.9h-1.9zM1020.1 139.0h1.9v1.9h-1.9zM1005.4 165.5h1.9v1.9h-1.9zM1037.6 137.8h1.9v1.9h-1.9zM1036.1 129.4h1.9v1.9h-1.9zM1040.4 122.0h1.9v1.9h-1.9zM1034.2 115.6h1.9v1.9h-1.9zM1052.2 163.2h1.9v1.9h-1.9zM1036.3 116.5h1.9v1.9h-1.9zM1016.9 160.8h1.9v1.9h-1.9zM1048.1 166.0h1.9v1.9h-1.9zM1023.1 123.0h1.9v1.9h-1.9zM1035.9 129.5h1.9v1.9h-1.9zM1051.7 171.6h1.9v1.9h-1.9zM1029.3 149.0h1.9v1.9h-1.9zM1049.4 146.4h1.9v1.9h-1.9zM1011.8 160.1h1.9v1.9h-1.9zM1019.4 148.1h1.9v1.9h-1.9zM1023.7 141.1h1.9v1.9h-1.9zM1027.0 136.3h1.9v1.9h-1.9zM1022.8 121.6h1.9v1.9h-1.9zM1049.1 145.6h1.9v1.9h-1.9zM1012.7 154.5h1.9v1.9h-1.9zM1020.5 148.1h1.9v1.9h-1.9zM1036.9 130.9h1.9v1.9h-1.9zM1026.2 131.6h1.9v1.9h-1.9zM1034.0 146.0h1.9v1.9h-1.9zM1030.4 138.2h1.9v1.9h-1.9zM1028.6 145.5h1.9v1.9h-1.9zM1033.4 129.5h1.9v1.9h-1.9zM1025.6 155.2h1.9v1.9h-1.9zM1031.2 113.5h1.9v1.9h-1.9zM1018.5 148.7h1.9v1.9h-1.9zM1037.6 118.2h1.9v1.9h-1.9zM1050.9 181.4h1.9v1.9h-1.9zM1020.4 142.9h1.9v1.9h-1.9zM1015.9 168.5h1.9v1.9h-1.9zM1031.6 125.6h1.9v1.9h-1.9zM1034.1 117.3h1.9v1.9h-1.9zM1040.4 146.2h1.9v1.9h-1.9zM1042.7 174.0h1.9v1.9h-1.9zM1036.2 153.6h1.9v1.9h-1.9zM1019.7 170.2h1.9v1.9h-1.9zM1027.5 136.1h1.9v1.9h-1.9zM1028.4 153.6h1.9v1.9h-1.9zM1036.5 146.0h1.9v1.9h-1.9zM1010.7 168.2h1.9v1.9h-1.9zM1017.9 170.1h1.9v1.9h-1.9zM1025.9 121.5h1.9v1.9h-1.9zM1039.9 125.3h1.9v1.9h-1.9zM1029.7 130.9h1.9v1.9h-1.9zM1033.0 156.1h1.9v1.9h-1.9zM1014.1 152.8h1.9v1.9h-1.9zM1019.3 154.7h1.9v1.9h-1.9zM1031.4 130.8h1.9v1.9h-1.9zM1029.5 126.5h1.9v1.9h-1.9zM1024.0 120.2h1.9v1.9h-1.9zM1036.6 122.4h1.9v1.9h-1.9zM1036.2 158.9h1.9v1.9h-1.9zM1034.3 149.5h1.9v1.9h-1.9zM1048.0 147.5h1.9v1.9h-1.9zM1047.7 175.2h1.9v1.9h-1.9zM1026.7 165.1h1.9v1.9h-1.9zM1022.2 162.7h1.9v1.9h-1.9zM1019.8 164.5h1.9v1.9h-1.9zM1033.6 159.1h1.9v1.9h-1.9zM1030.4 148.8h1.9v1.9h-1.9zM1048.4 156.8h1.9v1.9h-1.9zM1004.7 187.1h1.9v1.9h-1.9zM1035.9 128.1h1.9v1.9h-1.9zM1031.6 140.9h1.9v1.9h-1.9zM1042.1 159.5h1.9v1.9h-1.9zM1025.4 151.5h1.9v1.9h-1.9zM1037.3 118.7h1.9v1.9h-1.9zM1029.8 121.4h1.9v1.9h-1.9zM1035.2 133.4h1.9v1.9h-1.9zM1026.4 147.7h1.9v1.9h-1.9zM1020.2 131.6h1.9v1.9h-1.9zM1042.8 141.6h1.9v1.9h-1.9zM1057.7 170.9h1.9v1.9h-1.9zM1010.3 178.3h1.9v1.9h-1.9zM1023.1 166.5h1.9v1.9h-1.9zM1030.0 133.0h1.9v1.9h-1.9zM1017.8 150.6h1.9v1.9h-1.9zM1055.8 177.9h1.9v1.9h-1.9zM1023.5 124.3h1.9v1.9h-1.9zM1046.2 143.0h1.9v1.9h-1.9zM1026.1 130.9h1.9v1.9h-1.9zM1022.4 118.2h1.9v1.9h-1.9zM1031.7 120.0h1.9v1.9h-1.9zM1007.3 182.9h1.9v1.9h-1.9zM1017.1 142.9h1.9v1.9h-1.9zM1039.0 162.3h1.9v1.9h-1.9zM1039.9 152.2h1.9v1.9h-1.9zM1032.2 123.3h1.9v1.9h-1.9zM1021.0 121.6h1.9v1.9h-1.9zM1025.3 134.6h1.9v1.9h-1.9zM1030.2 160.3h1.9v1.9h-1.9zM1032.5 156.0h1.9v1.9h-1.9zM1036.5 130.1h1.9v1.9h-1.9zM1024.4 147.9h1.9v1.9h-1.9zM1027.3 116.5h1.9v1.9h-1.9zM1046.3 138.2h1.9v1.9h-1.9zM1024.3 147.5h1.9v1.9h-1.9zM1038.1 163.5h1.9v1.9h-1.9zM1035.0 143.7h1.9v1.9h-1.9zM1027.1 140.6h1.9v1.9h-1.9zM1011.7 163.2h1.9v1.9h-1.9zM1053.2 169.0h1.9v1.9h-1.9zM1032.7 162.1h1.9v1.9h-1.9zM1041.6 155.8h1.9v1.9h-1.9zM1058.6 170.3h1.9v1.9h-1.9zM1033.1 135.5h1.9v1.9h-1.9zM1005.9 164.7h1.9v1.9h-1.9zM1024.1 126.4h1.9v1.9h-1.9zM1041.1 139.0h1.9v1.9h-1.9zM1039.3 128.1h1.9v1.9h-1.9zM1020.5 150.7h1.9v1.9h-1.9zM1015.4 168.2h1.9v1.9h-1.9zM1027.1 138.8h1.9v1.9h-1.9zM1015.2 152.6h1.9v1.9h-1.9zM1043.2 142.0h1.9v1.9h-1.9zM1021.0 133.5h1.9v1.9h-1.9zM1041.5 138.2h1.9v1.9h-1.9zM1029.6 125.9h1.9v1.9h-1.9zM1030.7 115.2h1.9v1.9h-1.9zM1036.3 155.7h1.9v1.9h-1.9zM1050.5 167.3h1.9v1.9h-1.9zM1029.4 147.4h1.9v1.9h-1.9zM1028.5 157.1h1.9v1.9h-1.9zM1016.1 165.3h1.9v1.9h-1.9zM1009.8 171.6h1.9v1.9h-1.9zM1051.2 168.2h1.9v1.9h-1.9zM1038.6 148.2h1.9v1.9h-1.9zM1030.0 124.4h1.9v1.9h-1.9zM997.0 182.9h1.9v1.9h-1.9zM1035.5 146.9h1.9v1.9h-1.9zM1058.0 178.9h1.9v1.9h-1.9zM1033.3 143.1h1.9v1.9h-1.9zM1058.1 186.5h1.9v1.9h-1.9zM1031.2 160.0h1.9v1.9h-1.9zM1007.2 170.4h1.9v1.9h-1.9zM1033.5 136.6h1.9v1.9h-1.9zM1034.1 133.0h1.9v1.9h-1.9zM1046.4 145.7h1.9v1.9h-1.9zM1024.9 115.3h1.9v1.9h-1.9zM1029.7 137.6h1.9v1.9h-1.9zM1045.7 141.9h1.9v1.9h-1.9zM1033.1 125.0h1.9v1.9h-1.9zM1046.5 149.0h1.9v1.9h-1.9zM1024.7 135.2h1.9v1.9h-1.9zM1034.7 139.6h1.9v1.9h-1.9zM1043.7 146.8h1.9v1.9h-1.9zM1018.4 154.7h1.9v1.9h-1.9zM1026.0 145.9h1.9v1.9h-1.9zM1017.5 142.0h1.9v1.9h-1.9zM1040.5 151.2h1.9v1.9h-1.9zM1040.2 139.2h1.9v1.9h-1.9zM1023.9 115.1h1.9v1.9h-1.9zM1028.5 151.0h1.9v1.9h-1.9zM1029.7 138.9h1.9v1.9h-1.9zM1027.2 125.0h1.9v1.9h-1.9zM1005.5 164.2h1.9v1.9h-1.9zM1016.7 149.7h1.9v1.9h-1.9zM1041.5 133.3h1.9v1.9h-1.9zM1037.7 120.6h1.9v1.9h-1.9zM1014.2 155.2h1.9v1.9h-1.9zM1023.8 142.1h1.9v1.9h-1.9zM1036.4 130.0h1.9v1.9h-1.9zM1041.2 151.1h1.9v1.9h-1.9zM1017.0 154.1h1.9v1.9h-1.9zM1025.3 134.8h1.9v1.9h-1.9zM1028.5 156.3h1.9v1.9h-1.9zM1049.1 169.9h1.9v1.9h-1.9zM1024.9 138.4h1.9v1.9h-1.9zM1025.4 148.4h1.9v1.9h-1.9zM1023.5 115.3h1.9v1.9h-1.9zM1044.8 144.6h1.9v1.9h-1.9zM1050.3 180.7h1.9v1.9h-1.9zM1004.9 168.8h1.9v1.9h-1.9zM1028.9 151.1h1.9v1.9h-1.9zM1029.3 132.3h1.9v1.9h-1.9zM1022.5 156.3h1.9v1.9h-1.9zM1052.7 158.4h1.9v1.9h-1.9zM1011.5 158.0h1.9v1.9h-1.9zM1048.6 171.7h1.9v1.9h-1.9zM1033.9 138.6h1.9v1.9h-1.9zM1040.7 152.1h1.9v1.9h-1.9zM1019.9 139.6h1.9v1.9h-1.9zM1043.9 145.7h1.9v1.9h-1.9zM1047.0 150.1h1.9v1.9h-1.9zM1013.1 154.6h1.9v1.9h-1.9zM1027.6 144.8h1.9v1.9h-1.9zM1025.9 132.0h1.9v1.9h-1.9z" fill="#e1e137"/>
<path d="M1020.9 190.0h1.9v1.9h-1.9zM1023.0 183.8h1.9v1.9h-1.9zM1007.0 207.7h1.9v1.9h-1.9zM1038.4 190.2h1.9v1.9h-1.9zM1038.3 194.9h1.9v1.9h-1.9zM993.1 202.4h1.9v1.9h-1.9zM999.1 205.3h1.9v1.9h-1.9zM1004.1 210.0h1.9v1.9h-1.9zM1002.4 211.2h1.9v1.9h-1.9zM1020.4 189.7h1.9v1.9h-1.9zM1027.9 176.6h1.9v1.9h-1.9zM1001.5 216.0h1.9v1.9h-1.9zM1051.4 207.2h1.9v1.9h-1.9zM1000.7 209.8h1.9v1.9h-1.9zM1004.3 210.3h1.9v1.9h-1.9zM1049.6 215.3h1.9v1.9h-1.9zM1034.0 191.3h1.9v1.9h-1.9zM1014.1 192.4h1.9v1.9h-1.9zM1044.5 198.9h1.9v1.9h-1.9zM1004.3 197.3h1.9v1.9h-1.9zM1017.5 186.3h1.9v1.9h-1.9zM1044.9 206.0h1.9v1.9h-1.9zM1044.2 207.4h1.9v1.9h-1.9zM1013.5 202.7h1.9v1.9h-1.9zM1019.4 189.1h1.9v1.9h-1.9zM1032.0 189.5h1.9v1.9h-1.9zM1002.7 212.4h1.9v1.9h-1.9zM1050.0 212.4h1.9v1.9h-1.9zM1010.8 221.7h1.9v1.9h-1.9zM1001.7 215.0h1.9v1.9h-1.9zM1008.5 207.1h1.9v1.9h-1.9zM1041.9 197.3h1.9v1.9h-1.9zM1012.2 196.2h1.9v1.9h-1.9zM1048.9 214.0h1.9v1.9h-1.9zM1012.5 205.2h1.9v1.9h-1.9zM1045.1 206.6h1.9v1.9h-1.9zM1038.6 205.0h1.9v1.9h-1.9zM1054.0 204.1h1.9v1.9h-1.9zM1006.3 211.0h1.9v1.9h-1.9zM1047.9 212.3h1.9v1.9h-1.9zM1040.5 204.3h1.9v1.9h-1.9zM1012.8 206.0h1.9v1.9h-1.9zM1047.0 206.5h1.9v1.9h-1.9zM1008.5 205.3h1.9v1.9h-1.9zM1034.9 190.4h1.9v1.9h-1.9zM1054.2 207.6h1.9v1.9h-1.9zM1024.2 192.3h1.9v1.9h-1.9zM1054.0 206.2h1.9v1.9h-1.9zM1009.7 210.7h1.9v1.9h-1.9zM1023.2 187.6h1.9v1.9h-1.9zM1028.6 181.2h1.9v1.9h-1.9zM999.1 213.2h1.9v1.9h-1.9zM998.0 211.5h1.9v1.9h-1.9zM1019.3 190.2h1.9v1.9h-1.9zM1011.8 202.2h1.9v1.9h-1.9zM1045.7 209.0h1.9v1.9h-1.9zM1044.3 201.1h1.9v1.9h-1.9zM1000.6 209.5h1.9v1.9h-1.9zM1006.7 209.4h1.9v1.9h-1.9zM1045.6 209.7h1.9v1.9h-1.9zM1014.1 201.3h1.9v1.9h-1.9zM1039.1 201.3h1.9v1.9h-1.9zM1044.6 208.6h1.9v1.9h-1.9zM1029.3 189.9h1.9v1.9h-1.9zM1023.0 189.2h1.9v1.9h-1.9zM1053.3 207.8h1.9v1.9h-1.9zM1013.9 210.0h1.9v1.9h-1.9zM1052.5 204.0h1.9v1.9h-1.9z" fill="#ebb92d"/>
<path d="M1023.4 162.3h1.9v1.9h-1.9zM1038.3 161.1h1.9v1.9h-1.9zM997.8 193.9h1.9v1.9h-1.9zM1048.2 178.5h1.9v1.9h-1.9zM1002.6 193.7h1.9v1.9h-1.9zM1046.9 140.0h1.9v1.9h-1.9zM1023.7 140.4h1.9v1.9h-1.9zM1048.7 171.9h1.9v1.9h-1.9zM1023.3 171.2h1.9v1.9h-1.9zM1002.4 179.6h1.9v1.9h-1.9zM1051.2 184.7h1.9v1.9h-1.9zM1008.2 171.5h1.9v1.9h-1.9zM1029.1 157.8h1.9v1.9h-1.9zM1048.7 170.1h1.9v1.9h-1.9zM1042.2 155.1h1.9v1.9h-1.9zM1037.9 174.1h1.9v1.9h-1.9zM1043.3 154.4h1.9v1.9h-1.9zM1011.0 156.5h1.9v1.9h-1.9zM1018.2 177.4h1.9v1.9h-1.9zM1018.9 136.6h1.9v1.9h-1.9zM1036.6 164.9h1.9v1.9h-1.9zM1034.5 152.8h1.9v1.9h-1.9zM1047.6 180.6h1.9v1.9h-1.9zM1001.4 181.6h1.9v1.9h-1.9zM1031.7 130.6h1.9v1.9h-1.9zM1007.7 166.0h1.9v1.9h-1.9zM1058.8 181.4h1.9v1.9h-1.9zM1000.8 175.6h1.9v1.9h-1.9zM1020.8 122.4h1.9v1.9h-1.9zM1009.0 171.7h1.9v1.9h-1.9zM1053.7 177.4h1.9v1.9h-1.9zM1049.9 155.9h1.9v1.9h-1.9zM1057.7 180.5h1.9v1.9h-1.9zM1028.5 138.3h1.9v1.9h-1.9zM1022.9 158.8h1.9v1.9h-1.9zM1011.1 170.0h1.9v1.9h-1.9zM1025.2 167.6h1.9v1.9h-1.9zM1008.6 171.5h1.9v1.9h-1.9zM1043.6 145.1h1.9v1.9h-1.9zM1053.4 177.0h1.9v1.9h-1.9zM1009.9 167.9h1.9v1.9h-1.9zM1009.3 162.2h1.9v1.9h-1.9zM1004.8 173.1h1.9v1.9h-1.9zM1008.8 172.1h1.9v1.9h-1.9zM1023.9 157.5h1.9v1.9h-1.9zM1043.8 143.7h1.9v1.9h-1.9zM1020.4 133.9h1.9v1.9h-1.9zM1045.6 168.8h1.9v1.9h-1.9zM997.8 189.8h1.9v1.9h-1.9zM1026.3 145.5h1.9v1.9h-1.9zM1056.1 193.2h1.9v1.9h-1.9zM1049.4 157.0h1.9v1.9h-1.9zM1016.0 145.0h1.9v1.9h-1.9zM1054.1 184.7h1.9v1.9h-1.9zM1008.2 163.6h1.9v1.9h-1.9zM1023.7 160.3h1.9v1.9h-1.9zM1051.1 184.9h1.9v1.9h-1.9zM1048.3 182.6h1.9v1.9h-1.9zM1042.3 178.1h1.9v1.9h-1.9zM1041.4 142.5h1.9v1.9h-1.9zM992.1 187.6h1.9v1.9h-1.9zM1047.5 149.7h1.9v1.9h-1.9zM1029.3 119.0h1.9v1.9h-1.9zM1025.5 138.1h1.9v1.9h-1.9zM1049.7 153.4h1.9v1.9h-1.9zM1040.3 162.2h1.9v1.9h-1.9z" fill="#ebd737"/>
<path d="M1009.1 233.4h1.9v1.9h-1.9zM1012.1 226.3h1.9v1.9h-1.9zM1025.1 209.5h1.9v1.9h-1.9zM1024.2 215.7h1.9v1.9h-1.9zM1007.0 236.4h1.9v1.9h-1.9zM1025.5 209.2h1.9v1.9h-1.9zM1005.3 228.9h1.9v1.9h-1.9zM1018.6 229.7h1.9v1.9h-1.9zM1025.3 210.1h1.9v1.9h-1.9zM1036.5 221.7h1.9v1.9h-1.9zM1020.0 216.8h1.9v1.9h-1.9zM1021.6 226.8h1.9v1.9h-1.9zM1032.2 219.5h1.9v1.9h-1.9zM1011.8 229.2h1.9v1.9h-1.9zM1021.4 227.8h1.9v1.9h-1.9zM1006.1 228.6h1.9v1.9h-1.9zM1017.2 228.7h1.9v1.9h-1.9zM1028.2 197.4h1.9v1.9h-1.9zM1001.2 231.7h1.9v1.9h-1.9zM1010.8 239.2h1.9v1.9h-1.9zM1022.5 232.3h1.9v1.9h-1.9zM1031.0 212.8h1.9v1.9h-1.9zM1026.0 217.8h1.9v1.9h-1.9zM1012.2 231.4h1.9v1.9h-1.9zM1025.9 218.1h1.9v1.9h-1.9zM1036.7 211.9h1.9v1.9h-1.9zM1004.4 223.9h1.9v1.9h-1.9zM1027.8 220.3h1.9v1.9h-1.9z" fill="#f59b37"/>
<path d="M742.5 18 L739.4 26.3 L740.4 30.5 M746.7 17 L749.9 26.3 L750.9 30.5 L749.9 36.8 L750.9 41 L747.8 45.2 L740.4 46.3 L740.4 53.6 L742.5 62 L745.7 68.3 L742.5 76.7 L738.3 85.1 L736.2 93.5 L739.8 99.8" fill="none" stroke="#4a4a4a" stroke-width="0.9" stroke-linejoin="round"/>
<path d="M742.5 18 L731 23.2 L727.8 28.4 L722.6 29.5 L720.5 35.8 L715.2 36.8 L711 40 L710 47.3 L707.9 53.6 L705.8 62 L706.8 65.2 L712 71.5 L716.3 75.7 L721.5 80.5 M716.3 75.7 L712 85 L706.8 89.3 L704.7 93.5 L707.9 99.8 L705.2 104.7 L712.1 107 L713.3 118.6 L718 122.1 L721.5 125.6 L722.6 135 L727.3 142 L728.5 151.3 L721.5 160.6 L720.3 170 L719.1 180.4 L729.6 188.1 M719.1 180.4 L714.5 193.2 L708 205 L706 215 L710 225 L715 235 L720 245 L729.6 258.7 L734.8 251.5 L758 250.6 L970.3 283.1 L975 280 L978 280.5 L983 285 L985.5 285.5 L990 283 L995 275 L998.5 268.6 L997 268 L1005 255 L1012 240 L1020 225 L1023 215 L1028 205 L1038 198 L1043 185" fill="none" stroke="#4a4a4a" stroke-width="0.9" stroke-linejoin="round"/>
<path d="M729.6 258.7 L737.1 279.9 L725 284 L712 289.7 L706.8 298.9 L712 306 L717.5 315.8" fill="none" stroke="#4a4a4a" stroke-width="0.9" stroke-linejoin="round"/>
<path d="M1031 120.3 L1038 122 L1040 130 L1045 138 L1048 146 L1047 160 L1045 175 L1043 185 L1044 195 L1050.9 199.3" fill="none" stroke="#4a4a4a" stroke-width="0.9" stroke-linejoin="round"/>
<path d="M1005 170.7 L1012 168 L1015 175 L1018 185 L1025 190 L1032 188 L1041 183.5" fill="none" stroke="#4a4a4a" stroke-width="0.9" stroke-linejoin="round"/>
<ellipse cx="740.4" cy="30.5" rx="3.2" ry="2.7" fill="#b8b8b8" stroke="#1a1a1a" stroke-width="1.1"/>
<ellipse cx="740.4" cy="46.3" rx="3.1" ry="2.6" fill="#111" stroke="#f4f4f4" stroke-width="0.9"/>
<ellipse cx="739.8" cy="99.8" rx="3.2" ry="2.7" fill="#b8b8b8" stroke="#1a1a1a" stroke-width="1.1"/>
<ellipse cx="716.3" cy="75.7" rx="3.1" ry="2.6" fill="#111" stroke="#f4f4f4" stroke-width="0.9"/>
<ellipse cx="721.5" cy="80.5" rx="3.2" ry="2.7" fill="#b8b8b8" stroke="#1a1a1a" stroke-width="1.1"/>
<ellipse cx="719.1" cy="180.4" rx="3.1" ry="2.6" fill="#111" stroke="#f4f4f4" stroke-width="0.9"/>
<ellipse cx="729.6" cy="188.1" rx="3.2" ry="2.7" fill="#b8b8b8" stroke="#1a1a1a" stroke-width="1.1"/>
<ellipse cx="734.8" cy="251.5" rx="3.2" ry="2.7" fill="#b8b8b8" stroke="#1a1a1a" stroke-width="1.1"/>
<ellipse cx="729.6" cy="258.7" rx="3.1" ry="2.6" fill="#111" stroke="#f4f4f4" stroke-width="0.9"/>
<ellipse cx="737.1" cy="279.9" rx="3.1" ry="2.6" fill="#111" stroke="#f4f4f4" stroke-width="0.9"/>
<ellipse cx="712" cy="289.7" rx="3.1" ry="2.6" fill="#111" stroke="#f4f4f4" stroke-width="0.9"/>
<ellipse cx="706.8" cy="298.9" rx="3.2" ry="2.7" fill="#b8b8b8" stroke="#1a1a1a" stroke-width="1.1"/>
<ellipse cx="717.5" cy="315.8" rx="3.2" ry="2.7" fill="#f2f2f2" stroke="#111" stroke-width="1.1"/>
<ellipse cx="1031" cy="120.3" rx="3.2" ry="2.7" fill="#b8b8b8" stroke="#1a1a1a" stroke-width="1.1"/>
<ellipse cx="1005" cy="170.7" rx="3.2" ry="2.7" fill="#b8b8b8" stroke="#1a1a1a" stroke-width="1.1"/>
<ellipse cx="1041.5" cy="183.5" rx="3.1" ry="2.6" fill="#111" stroke="#f4f4f4" stroke-width="0.9"/>
<ellipse cx="1036.5" cy="185.5" rx="3.2" ry="2.7" fill="#f2f2f2" stroke="#111" stroke-width="1.1"/>
<ellipse cx="1050.9" cy="199.3" rx="3.2" ry="2.7" fill="#b8b8b8" stroke="#1a1a1a" stroke-width="1.1"/>
<path d="M644.9 151.7 C637.7 156.0 648.4 77.8 660.5 38.8" fill="none" stroke="#e3393a" stroke-width="1.5" stroke-dasharray="1.3 1.7"/>
<path d="M653.6 41.3 L661.3 37.8 L664 46.2" fill="none" stroke="#e3393a" stroke-width="1.6" stroke-linejoin="round" stroke-linecap="round"/>
<path d="M695.1 339.8 C661.3 271.8 642.7 250.7 645.9 187" fill="none" stroke="#e3393a" stroke-width="1.5" stroke-dasharray="1.3 1.7"/>
<path d="M640.1 191.8 L646.3 186 L651.9 192.5" fill="none" stroke="#e3393a" stroke-width="1.6" stroke-linejoin="round" stroke-linecap="round"/>
<path d="M766.1 349.1 C792.2 354.2 846.0 310.3 846.9 252.5" fill="none" stroke="#e3393a" stroke-width="1.5" stroke-dasharray="1.3 1.7"/>
<path d="M841 256.5 L847.1 251 L853 257.2" fill="none" stroke="#e3393a" stroke-width="1.6" stroke-linejoin="round" stroke-linecap="round"/>
<path d="M822.8 201.7 C821.9 165.3 860.7 112.7 935 115.3" fill="none" stroke="#e3393a" stroke-width="1.5" stroke-dasharray="1.3 1.7"/>
<path d="M929.6 109.7 L936.4 115 L930.5 121.1" fill="none" stroke="#e3393a" stroke-width="1.6" stroke-linejoin="round" stroke-linecap="round"/>
<path d="M869 222.8 C921.4 212.5 943.9 217.1 972 264" fill="none" stroke="#e3393a" stroke-width="1.5" stroke-dasharray="1.3 1.7"/>
<path d="M965.1 262.9 L973.3 265.3 L974.5 256.6" fill="none" stroke="#e3393a" stroke-width="1.6" stroke-linejoin="round" stroke-linecap="round"/>
<text x="626.3" y="23.0" font-size="16" text-anchor="start" fill="#231f20">Mem-sw B</text>
<path d="M631.2 84.6 V96.2 M631.4 85.2 C630.6 86.8 629.2 87.8 627.3 88.6" fill="none" stroke="#231f20" stroke-width="1.55"/>
<text x="599.8" y="170.8" font-size="16" text-anchor="start" fill="#231f20">Mem-unsw B</text>
<path d="M644.2 271.8 V282.8 M644.4 272.4 C643.6 274 642.2 275 640.3 275.8" fill="none" stroke="#231f20" stroke-width="1.55"/>
<text x="695.3" y="359.5" font-size="16" text-anchor="start" fill="#231f20">Naive B</text>
<text x="815.8" y="308.7" font-size="16" text-anchor="middle" fill="#231f20">2</text>
<text x="861.5" y="124.5" font-size="16" text-anchor="middle" fill="#231f20">2</text>
<text x="920.8" y="205.5" font-size="16" text-anchor="middle" fill="#231f20">3</text>
<text x="781.5" y="221.5" font-size="16" text-anchor="start" fill="#231f20">HLA-DRB5<tspan font-size="9" dy="-7">+</tspan></text>
<text x="790.3" y="240.6" font-size="16" text-anchor="start" fill="#231f20">Plasma B</text>
<text x="947" y="121.2" font-size="16" text-anchor="start" fill="#231f20">Plasma B</text>
<text x="1002.5" y="288.5" font-size="16" text-anchor="start" fill="#231f20">IGHG4<tspan font-size="9" dy="-7">+</tspan></text>
<text x="998.2" y="307.7" font-size="16" text-anchor="start" fill="#231f20">Plasma B</text>
<text x="674.6" y="414.3" font-size="16" text-anchor="start" fill="#231f20">UMAP1</text>
<text transform="translate(610.8,312) rotate(-90)" font-size="16" text-anchor="middle" fill="#231f20">UMAP2</text>
<path d="M603 352.5 V410.9 H663" fill="none" stroke="#3a3030" stroke-width="1.7"/>
<path d="M597.1 358.6 L603 352.3 L609.5 358.6 M655.9 404.6 L663.4 410.9 L655.9 417.4" fill="none" stroke="#3a3030" stroke-width="1.6"/>
<defs><linearGradient id="pg" x1="0" y1="1" x2="0" y2="0"><stop offset="0" stop-color="rgb(38, 48, 124)"/><stop offset="0.1" stop-color="rgb(60, 47, 156)"/><stop offset="0.2" stop-color="rgb(93, 42, 164)"/><stop offset="0.3" stop-color="rgb(124, 43, 162)"/><stop offset="0.4" stop-color="rgb(155, 47, 154)"/><stop offset="0.5" stop-color="rgb(185, 58, 140)"/><stop offset="0.6" stop-color="rgb(212, 79, 119)"/><stop offset="0.7" stop-color="rgb(232, 111, 92)"/><stop offset="0.8" stop-color="rgb(239, 146, 66)"/><stop offset="0.9" stop-color="rgb(240, 185, 50)"/><stop offset="1.0" stop-color="rgb(226, 222, 52)"/></linearGradient></defs>
<rect x="986.1" y="24.2" width="9.1" height="55.6" fill="url(#pg)"/>
<line x1="986.1" y1="34.4" x2="988" y2="34.4" stroke="#fff" stroke-width="0.8"/><line x1="993.3" y1="34.4" x2="995.2" y2="34.4" stroke="#fff" stroke-width="0.8"/>
<line x1="986.1" y1="48.8" x2="988" y2="48.8" stroke="#fff" stroke-width="0.8"/><line x1="993.3" y1="48.8" x2="995.2" y2="48.8" stroke="#fff" stroke-width="0.8"/>
<line x1="986.1" y1="64.7" x2="988" y2="64.7" stroke="#fff" stroke-width="0.8"/><line x1="993.3" y1="64.7" x2="995.2" y2="64.7" stroke="#fff" stroke-width="0.8"/>
<text x="998.2" y="36.8" font-size="10" text-anchor="start" fill="#333">30</text>
<text x="998.2" y="51.199999999999996" font-size="10" text-anchor="start" fill="#333">20</text>
<text x="998.2" y="67.10000000000001" font-size="10" text-anchor="start" fill="#333">10</text>
<text x="998.2" y="81.7" font-size="10" text-anchor="start" fill="#333">0</text>
<text x="987.3" y="19.9" font-size="13.6" text-anchor="start" fill="#4b3d96">pseudotime</text>
</svg></body></html>
